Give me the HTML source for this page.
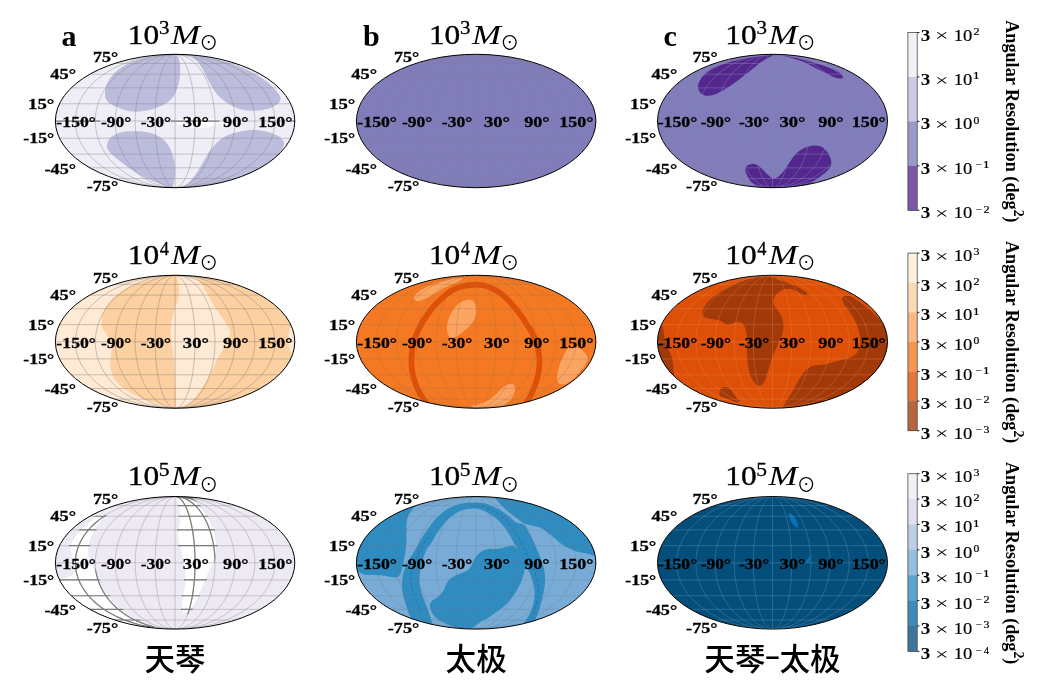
<!DOCTYPE html>
<html lang="zh"><head><meta charset="utf-8"><title>Angular resolution sky maps</title>
<style>html,body{margin:0;padding:0;background:#fff}svg{display:block}text{font-family:"Liberation Serif","DejaVu Serif",serif;fill:#000}.cjk{font-family:"Liberation Sans","Noto Sans CJK SC",sans-serif}.sun{font-family:"Liberation Serif","Noto Sans CJK SC",sans-serif}.tk{font-weight:bold;font-size:14.3px;stroke:#000;stroke-width:.28px}</style></head><body>
<svg width="1046" height="696" viewBox="0 0 1046 696">
<rect width="1046" height="696" fill="#fff"/>
<defs>
<clipPath id="e00"><ellipse cx="175.1" cy="121" rx="119.7" ry="66.7"/></clipPath>
<clipPath id="e01"><ellipse cx="476.15" cy="121" rx="119.75" ry="66.7"/></clipPath>
<clipPath id="e02"><ellipse cx="772.5" cy="121" rx="115" ry="66.7"/></clipPath>
<clipPath id="e10"><ellipse cx="175.1" cy="341.75" rx="119.7" ry="66.5"/></clipPath>
<clipPath id="e11"><ellipse cx="476.15" cy="341.75" rx="119.75" ry="66.5"/></clipPath>
<clipPath id="e12"><ellipse cx="772.5" cy="341.75" rx="115" ry="66.5"/></clipPath>
<clipPath id="e20"><ellipse cx="175.1" cy="562.8" rx="119.7" ry="66.3"/></clipPath>
<clipPath id="e21"><ellipse cx="476.15" cy="562.8" rx="119.75" ry="66.3"/></clipPath>
<clipPath id="e22"><ellipse cx="772.5" cy="562.8" rx="115" ry="66.3"/></clipPath>
</defs>
<g clip-path="url(#e00)">
<ellipse cx="175.1" cy="121" rx="119.7" ry="66.7" fill="#efedf5"/>
<path d="M175.2 54C178.33 54.78 178.17 57.53 179 60C179.83 62.47 180.1 65.67 180.2 68.8C180.3 71.93 180.12 75.47 179.6 78.8C179.08 82.13 178.25 85.67 177.1 88.8C175.95 91.93 174.68 95.08 172.7 97.6C170.72 100.12 168.12 102.13 165.2 103.9C162.28 105.67 158.75 107 155.2 108.2C151.65 109.4 147.65 110.53 143.9 111.1C140.15 111.67 136.45 111.97 132.7 111.6C128.95 111.23 124.92 110.07 121.4 108.9C117.88 107.73 114.13 106.18 111.6 104.6C109.07 103.02 107.3 101.33 106.2 99.4C105.1 97.47 104.97 95.3 105 93C105.03 90.7 105.55 88.07 106.4 85.6C107.25 83.13 108.43 80.58 110.1 78.2C111.77 75.82 113.9 73.5 116.4 71.3C118.9 69.1 121.97 66.78 125.1 65C128.23 63.22 131.43 61.88 135.2 60.6C138.97 59.32 143.53 58.18 147.7 57.3C151.87 56.42 155.62 55.85 160.2 55.3C164.78 54.75 172.07 53.22 175.2 54Z" fill="#bcbddc"/>
<path d="M192.5 56.4C191.25 57.13 195.72 59.32 197.6 61.8C199.48 64.28 201.72 67.63 203.8 71.3C205.88 74.97 207.8 79.83 210.1 83.8C212.4 87.77 214.88 91.97 217.6 95.1C220.32 98.23 223.07 100.42 226.4 102.6C229.73 104.78 233.63 106.85 237.6 108.2C241.57 109.55 246.02 110.42 250.2 110.7C254.38 110.98 258.95 110.52 262.7 109.9C266.45 109.28 269.98 108.22 272.7 107C275.42 105.78 277.68 104.13 279 102.6C280.32 101.07 280.7 99.33 280.6 97.8C280.5 96.27 279.63 95.13 278.4 93.4C277.17 91.67 275.5 89.63 273.2 87.4C270.9 85.17 267.7 82.28 264.6 80C261.5 77.72 258.33 75.78 254.6 73.7C250.87 71.62 246.32 69.28 242.2 67.5C238.08 65.72 234.02 64.28 229.9 63C225.78 61.72 221.63 60.73 217.5 59.8C213.37 58.87 209.27 57.97 205.1 57.4C200.93 56.83 193.75 55.67 192.5 56.4Z" fill="#bcbddc"/>
<path d="M130.2 131.3C133.55 131.23 138.53 130.98 142.7 131.5C146.87 132.02 151.65 132.97 155.2 134.4C158.75 135.83 161.5 137.7 164 140.1C166.5 142.5 168.53 145.47 170.2 148.8C171.87 152.13 173.17 156.33 174 160.1C174.83 163.87 175.15 168.07 175.2 171.4C175.25 174.73 174.73 177.63 174.3 180.1C173.87 182.57 173.28 184.95 172.6 186.2C171.92 187.45 172.27 187.98 170.2 187.6C168.13 187.22 163.53 185.15 160.2 183.9C156.87 182.65 153.53 181.57 150.2 180.1C146.87 178.63 143.53 176.97 140.2 175.1C136.87 173.23 133.55 171.2 130.2 168.9C126.85 166.6 123.03 163.6 120.1 161.3C117.17 159 114.58 156.97 112.6 155.1C110.62 153.23 109.13 151.77 108.2 150.1C107.27 148.43 106.78 146.98 107 145.1C107.22 143.22 107.93 140.68 109.5 138.8C111.07 136.92 114.22 134.95 116.4 133.8C118.58 132.65 120.3 132.32 122.6 131.9C124.9 131.48 126.85 131.37 130.2 131.3Z" fill="#bcbddc"/>
<path d="M181.5 188.5C182.08 188.02 183.58 186.78 185 185.6C186.42 184.42 187.9 183.77 190 181.4C192.1 179.03 195.08 175.17 197.6 171.4C200.12 167.63 202.6 162.77 205.1 158.8C207.6 154.83 209.9 150.93 212.6 147.6C215.3 144.27 218.17 141.1 221.3 138.8C224.43 136.5 227.85 135.1 231.4 133.8C234.95 132.5 238.63 131.63 242.6 131C246.57 130.37 251.02 129.85 255.2 130C259.38 130.15 263.95 130.95 267.7 131.9C271.45 132.85 275.2 134.33 277.7 135.7C280.2 137.07 281.65 138.65 282.7 140.1C283.75 141.55 284.02 143.02 284 144.4C283.98 145.78 283.18 147.2 282.6 148.4C282.02 149.6 280.85 151.07 280.5 151.6L290 160L250 195L181.5 195L181.5 188.5Z" fill="#bcbddc"/>
<path d="M54 121.3C54 120.23 57.33 119.05 60 118.4C62.67 117.75 66.33 117.43 70 117.4C73.67 117.37 78.33 117.8 82 118.2C85.67 118.6 88.83 119.28 92 119.8C95.17 120.32 101 120.7 101 121.3C101 121.9 95.17 122.78 92 123.4C88.83 124.02 85.67 124.63 82 125C78.33 125.37 73.67 125.63 70 125.6C66.33 125.57 62.67 125.52 60 124.8C57.33 124.08 54 122.37 54 121.3Z" fill="#fdfcfe"/>
<path d="M174.5 121.3C174.67 120.23 178.42 119.28 181 118.6C183.58 117.92 186.83 117.47 190 117.2C193.17 116.93 196.67 116.8 200 117C203.33 117.2 207 117.87 210 118.4C213 118.93 215.75 119.63 218 120.2C220.25 120.77 223.67 121.07 223.5 121.8C223.33 122.53 219.58 123.7 217 124.6C214.42 125.5 211.17 126.57 208 127.2C204.83 127.83 201.33 128.33 198 128.4C194.67 128.47 191 128.17 188 127.6C185 127.03 182.25 126.05 180 125C177.75 123.95 174.33 122.37 174.5 121.3Z" fill="#fdfcfe"/>
<path d="M175.1 187.7L160.39 186.97L151.83 185.86L144.74 184.54L138.51 183.05L132.89 181.43L127.74 179.7L122.97 177.87L118.54 175.94L114.41 173.93L110.55 171.85L106.94 169.7L103.56 167.48L100.4 165.2L97.45 162.87L94.71 160.49L92.16 158.06L89.81 155.59L87.64 153.07L85.66 150.53L83.85 147.94L82.23 145.33L80.77 142.7L79.5 140.04L78.39 137.35L77.46 134.65L76.7 131.94L76.11 129.22L75.69 126.48L75.43 123.74L75.35 121L75.43 118.26L75.69 115.52L76.11 112.78L76.7 110.06L77.46 107.35L78.39 104.65L79.5 101.96L80.77 99.3L82.23 96.67L83.85 94.06L85.66 91.47L87.64 88.93L89.81 86.41L92.16 83.94L94.71 81.51L97.45 79.13L100.4 76.8L103.56 74.52L106.94 72.3L110.55 70.15L114.41 68.07L118.54 66.06L122.97 64.13L127.74 62.3L132.89 60.57L138.51 58.95L144.74 57.46L151.83 56.14L160.39 55.03L175.1 54.3M175.1 187.7L163.33 186.97L156.48 185.86L150.81 184.54L145.83 183.05L141.33 181.43L137.21 179.7L133.4 177.87L129.85 175.94L126.55 173.93L123.46 171.85L120.57 169.7L117.87 167.48L115.34 165.2L112.98 162.87L110.79 160.49L108.75 158.06L106.87 155.59L105.13 153.07L103.54 150.53L102.1 147.94L100.8 145.33L99.64 142.7L98.62 140.04L97.74 137.35L96.99 134.65L96.38 131.94L95.91 129.22L95.57 126.48L95.37 123.74L95.3 121L95.37 118.26L95.57 115.52L95.91 112.78L96.38 110.06L96.99 107.35L97.74 104.65L98.62 101.96L99.64 99.3L100.8 96.67L102.1 94.06L103.54 91.47L105.13 88.93L106.87 86.41L108.75 83.94L110.79 81.51L112.98 79.13L115.34 76.8L117.87 74.52L120.57 72.3L123.46 70.15L126.55 68.07L129.85 66.06L133.4 64.13L137.21 62.3L141.33 60.57L145.83 58.95L150.81 57.46L156.48 56.14L163.33 55.03L175.1 54.3M175.1 187.7L166.27 186.97L161.14 185.86L156.89 184.54L153.15 183.05L149.77 181.43L146.68 179.7L143.82 177.87L141.17 175.94L138.69 173.93L136.37 171.85L134.2 169.7L132.18 167.48L130.28 165.2L128.51 162.87L126.87 160.49L125.34 158.06L123.93 155.59L122.62 153.07L121.43 150.53L120.35 147.94L119.38 145.33L118.5 142.7L117.74 140.04L117.08 137.35L116.52 134.65L116.06 131.94L115.71 129.22L115.45 126.48L115.3 123.74L115.25 121L115.3 118.26L115.45 115.52L115.71 112.78L116.06 110.06L116.52 107.35L117.08 104.65L117.74 101.96L118.5 99.3L119.38 96.67L120.35 94.06L121.43 91.47L122.62 88.93L123.93 86.41L125.34 83.94L126.87 81.51L128.51 79.13L130.28 76.8L132.18 74.52L134.2 72.3L136.37 70.15L138.69 68.07L141.17 66.06L143.82 64.13L146.68 62.3L149.77 60.57L153.15 58.95L156.89 57.46L161.14 56.14L166.27 55.03L175.1 54.3M175.1 187.7L169.22 186.97L165.79 185.86L162.96 184.54L160.47 183.05L158.22 181.43L156.15 179.7L154.25 177.87L152.48 175.94L150.82 173.93L149.28 171.85L147.83 169.7L146.48 167.48L145.22 165.2L144.04 162.87L142.94 160.49L141.93 158.06L140.98 155.59L140.12 153.07L139.32 150.53L138.6 147.94L137.95 145.33L137.37 142.7L136.86 140.04L136.42 137.35L136.05 134.65L135.74 131.94L135.5 129.22L135.33 126.48L135.23 123.74L135.2 121L135.23 118.26L135.33 115.52L135.5 112.78L135.74 110.06L136.05 107.35L136.42 104.65L136.86 101.96L137.37 99.3L137.95 96.67L138.6 94.06L139.32 91.47L140.12 88.93L140.98 86.41L141.93 83.94L142.94 81.51L144.04 79.13L145.22 76.8L146.48 74.52L147.83 72.3L149.28 70.15L150.82 68.07L152.48 66.06L154.25 64.13L156.15 62.3L158.22 60.57L160.47 58.95L162.96 57.46L165.79 56.14L169.22 55.03L175.1 54.3M175.1 187.7L172.16 186.97L170.45 185.86L169.03 184.54L167.78 183.05L166.66 181.43L165.63 179.7L164.67 177.87L163.79 175.94L162.96 173.93L162.19 171.85L161.47 169.7L160.79 167.48L160.16 165.2L159.57 162.87L159.02 160.49L158.51 158.06L158.04 155.59L157.61 153.07L157.21 150.53L156.85 147.94L156.53 145.33L156.23 142.7L155.98 140.04L155.76 137.35L155.57 134.65L155.42 131.94L155.3 129.22L155.22 126.48L155.17 123.74L155.15 121L155.17 118.26L155.22 115.52L155.3 112.78L155.42 110.06L155.57 107.35L155.76 104.65L155.98 101.96L156.23 99.3L156.53 96.67L156.85 94.06L157.21 91.47L157.61 88.93L158.04 86.41L158.51 83.94L159.02 81.51L159.57 79.13L160.16 76.8L160.79 74.52L161.47 72.3L162.19 70.15L162.96 68.07L163.79 66.06L164.67 64.13L165.63 62.3L166.66 60.57L167.78 58.95L169.03 57.46L170.45 56.14L172.16 55.03L175.1 54.3M175.1 187.7L175.1 54.3M175.1 187.7L178.04 186.97L179.75 185.86L181.17 184.54L182.42 183.05L183.54 181.43L184.57 179.7L185.53 177.87L186.41 175.94L187.24 173.93L188.01 171.85L188.73 169.7L189.41 167.48L190.04 165.2L190.63 162.87L191.18 160.49L191.69 158.06L192.16 155.59L192.59 153.07L192.99 150.53L193.35 147.94L193.67 145.33L193.97 142.7L194.22 140.04L194.44 137.35L194.63 134.65L194.78 131.94L194.9 129.22L194.98 126.48L195.03 123.74L195.05 121L195.03 118.26L194.98 115.52L194.9 112.78L194.78 110.06L194.63 107.35L194.44 104.65L194.22 101.96L193.97 99.3L193.67 96.67L193.35 94.06L192.99 91.47L192.59 88.93L192.16 86.41L191.69 83.94L191.18 81.51L190.63 79.13L190.04 76.8L189.41 74.52L188.73 72.3L188.01 70.15L187.24 68.07L186.41 66.06L185.53 64.13L184.57 62.3L183.54 60.57L182.42 58.95L181.17 57.46L179.75 56.14L178.04 55.03L175.1 54.3M175.1 187.7L180.98 186.97L184.41 185.86L187.24 184.54L189.73 183.05L191.98 181.43L194.05 179.7L195.95 177.87L197.72 175.94L199.38 173.93L200.92 171.85L202.37 169.7L203.72 167.48L204.98 165.2L206.16 162.87L207.26 160.49L208.27 158.06L209.22 155.59L210.08 153.07L210.88 150.53L211.6 147.94L212.25 145.33L212.83 142.7L213.34 140.04L213.78 137.35L214.15 134.65L214.46 131.94L214.7 129.22L214.87 126.48L214.97 123.74L215 121L214.97 118.26L214.87 115.52L214.7 112.78L214.46 110.06L214.15 107.35L213.78 104.65L213.34 101.96L212.83 99.3L212.25 96.67L211.6 94.06L210.88 91.47L210.08 88.93L209.22 86.41L208.27 83.94L207.26 81.51L206.16 79.13L204.98 76.8L203.72 74.52L202.37 72.3L200.92 70.15L199.38 68.07L197.72 66.06L195.95 64.13L194.05 62.3L191.98 60.57L189.73 58.95L187.24 57.46L184.41 56.14L180.98 55.03L175.1 54.3M175.1 187.7L183.93 186.97L189.06 185.86L193.31 184.54L197.05 183.05L200.43 181.43L203.52 179.7L206.38 177.87L209.03 175.94L211.51 173.93L213.83 171.85L216 169.7L218.02 167.48L219.92 165.2L221.69 162.87L223.33 160.49L224.86 158.06L226.27 155.59L227.58 153.07L228.77 150.53L229.85 147.94L230.82 145.33L231.7 142.7L232.46 140.04L233.12 137.35L233.68 134.65L234.14 131.94L234.49 129.22L234.75 126.48L234.9 123.74L234.95 121L234.9 118.26L234.75 115.52L234.49 112.78L234.14 110.06L233.68 107.35L233.12 104.65L232.46 101.96L231.7 99.3L230.82 96.67L229.85 94.06L228.77 91.47L227.58 88.93L226.27 86.41L224.86 83.94L223.33 81.51L221.69 79.13L219.92 76.8L218.02 74.52L216 72.3L213.83 70.15L211.51 68.07L209.03 66.06L206.38 64.13L203.52 62.3L200.43 60.57L197.05 58.95L193.31 57.46L189.06 56.14L183.93 55.03L175.1 54.3M175.1 187.7L186.87 186.97L193.72 185.86L199.39 184.54L204.37 183.05L208.87 181.43L212.99 179.7L216.8 177.87L220.35 175.94L223.65 173.93L226.74 171.85L229.63 169.7L232.33 167.48L234.86 165.2L237.22 162.87L239.41 160.49L241.45 158.06L243.33 155.59L245.07 153.07L246.66 150.53L248.1 147.94L249.4 145.33L250.56 142.7L251.58 140.04L252.46 137.35L253.21 134.65L253.82 131.94L254.29 129.22L254.63 126.48L254.83 123.74L254.9 121L254.83 118.26L254.63 115.52L254.29 112.78L253.82 110.06L253.21 107.35L252.46 104.65L251.58 101.96L250.56 99.3L249.4 96.67L248.1 94.06L246.66 91.47L245.07 88.93L243.33 86.41L241.45 83.94L239.41 81.51L237.22 79.13L234.86 76.8L232.33 74.52L229.63 72.3L226.74 70.15L223.65 68.07L220.35 66.06L216.8 64.13L212.99 62.3L208.87 60.57L204.37 58.95L199.39 57.46L193.72 56.14L186.87 55.03L175.1 54.3M175.1 187.7L189.81 186.97L198.37 185.86L205.46 184.54L211.69 183.05L217.31 181.43L222.46 179.7L227.23 177.87L231.66 175.94L235.79 173.93L239.65 171.85L243.26 169.7L246.64 167.48L249.8 165.2L252.75 162.87L255.49 160.49L258.04 158.06L260.39 155.59L262.56 153.07L264.54 150.53L266.35 147.94L267.97 145.33L269.43 142.7L270.7 140.04L271.81 137.35L272.74 134.65L273.5 131.94L274.09 129.22L274.51 126.48L274.77 123.74L274.85 121L274.77 118.26L274.51 115.52L274.09 112.78L273.5 110.06L272.74 107.35L271.81 104.65L270.7 101.96L269.43 99.3L267.97 96.67L266.35 94.06L264.54 91.47L262.56 88.93L260.39 86.41L258.04 83.94L255.49 81.51L252.75 79.13L249.8 76.8L246.64 74.52L243.26 72.3L239.65 70.15L235.79 68.07L231.66 66.06L227.23 64.13L222.46 62.3L217.31 60.57L211.69 58.95L205.46 57.46L198.37 56.14L189.81 55.03L175.1 54.3M55.4 121L294.8 121M59.45 138.21L290.75 138.21M59.45 103.79L290.75 103.79M71.23 154.15L278.97 154.15M71.23 87.85L278.97 87.85M89.85 167.82L260.35 167.82M89.85 74.18L260.35 74.18M114.63 178.56L235.57 178.56M114.63 63.44L235.57 63.44" fill="none" stroke="#808088" stroke-opacity="0.45" stroke-width="0.9"/>
<path d="M55.5 121.1L100 121.1" fill="none" stroke="#7d7d86" stroke-width="1.3"/>
<path d="M171 121.1L219.5 121.1" fill="none" stroke="#7d7d86" stroke-width="1.3"/>
<path d="M291.5 121.1L296 121.1" fill="none" stroke="#7d7d86" stroke-width="1.3"/>
</g>
<ellipse cx="175.1" cy="121" rx="119.7" ry="66.7" fill="none" stroke="#000" stroke-width="1"/>
<g class="tk">
<text x="93.06" y="62.3" textLength="25.19" lengthAdjust="spacingAndGlyphs">75°</text>
<text x="50.36" y="78.8" textLength="25.69" lengthAdjust="spacingAndGlyphs">45°</text>
<text x="28.04" y="109" textLength="26.23" lengthAdjust="spacingAndGlyphs">15°</text>
<text x="23.31" y="143.3" textLength="30.88" lengthAdjust="spacingAndGlyphs">-15°</text>
<text x="44.5" y="173.6" textLength="31.51" lengthAdjust="spacingAndGlyphs">-45°</text>
<text x="86.71" y="190.8" textLength="31.51" lengthAdjust="spacingAndGlyphs">-75°</text>
<text x="56.38" y="127.3" textLength="39.57" lengthAdjust="spacingAndGlyphs">-150°</text>
<text x="100.94" y="127.3" textLength="30.25" lengthAdjust="spacingAndGlyphs">-90°</text>
<text x="140.79" y="127.3" textLength="30.35" lengthAdjust="spacingAndGlyphs">-30°</text>
<text x="182.86" y="127.3" textLength="25.97" lengthAdjust="spacingAndGlyphs">30°</text>
<text x="223.1" y="127.3" textLength="25.45" lengthAdjust="spacingAndGlyphs">90°</text>
<text x="258.21" y="127.3" textLength="34.13" lengthAdjust="spacingAndGlyphs">150°</text>
</g>
<text x="127.88" y="43.5" font-size="26.8" textLength="31.38" lengthAdjust="spacingAndGlyphs" stroke="#000" stroke-width="0.35">10</text>
<text x="159.05" y="34.2" font-size="19" textLength="10.49" lengthAdjust="spacingAndGlyphs" stroke="#000" stroke-width="0.3">3</text>
<text x="171.05" y="43.5" font-size="27.6" font-style="italic" textLength="29.02" lengthAdjust="spacingAndGlyphs">M</text>
<text class="sun" x="199.3" y="49.7" font-size="19">⊙</text>
<g clip-path="url(#e01)">
<ellipse cx="476.15" cy="121" rx="119.75" ry="66.7" fill="#807dba"/>
<path d="M476.15 187.7L461.43 186.97L452.87 185.86L445.78 184.54L439.55 183.05L433.92 181.43L428.77 179.7L424 177.87L419.57 175.94L415.44 173.93L411.57 171.85L407.96 169.7L404.58 167.48L401.42 165.2L398.47 162.87L395.73 160.49L393.18 158.06L390.82 155.59L388.65 153.07L386.67 150.53L384.86 147.94L383.24 145.33L381.79 142.7L380.51 140.04L379.4 137.35L378.47 134.65L377.71 131.94L377.12 129.22L376.7 126.48L376.44 123.74L376.36 121L376.44 118.26L376.7 115.52L377.12 112.78L377.71 110.06L378.47 107.35L379.4 104.65L380.51 101.96L381.79 99.3L383.24 96.67L384.86 94.06L386.67 91.47L388.65 88.93L390.82 86.41L393.18 83.94L395.73 81.51L398.47 79.13L401.42 76.8L404.58 74.52L407.96 72.3L411.57 70.15L415.44 68.07L419.57 66.06L424 64.13L428.77 62.3L433.92 60.57L439.55 58.95L445.78 57.46L452.87 56.14L461.43 55.03L476.15 54.3M476.15 187.7L464.38 186.97L457.53 185.86L451.85 184.54L446.87 183.05L442.37 181.43L438.24 179.7L434.43 177.87L430.89 175.94L427.58 173.93L424.49 171.85L421.6 169.7L418.89 167.48L416.37 165.2L414.01 162.87L411.81 160.49L409.77 158.06L407.89 155.59L406.15 153.07L404.56 150.53L403.12 147.94L401.82 145.33L400.66 142.7L399.64 140.04L398.75 137.35L398.01 134.65L397.4 131.94L396.92 129.22L396.59 126.48L396.38 123.74L396.32 121L396.38 118.26L396.59 115.52L396.92 112.78L397.4 110.06L398.01 107.35L398.75 104.65L399.64 101.96L400.66 99.3L401.82 96.67L403.12 94.06L404.56 91.47L406.15 88.93L407.89 86.41L409.77 83.94L411.81 81.51L414.01 79.13L416.37 76.8L418.89 74.52L421.6 72.3L424.49 70.15L427.58 68.07L430.89 66.06L434.43 64.13L438.24 62.3L442.37 60.57L446.87 58.95L451.85 57.46L457.53 56.14L464.38 55.03L476.15 54.3M476.15 187.7L467.32 186.97L462.18 185.86L457.93 184.54L454.19 183.05L450.81 181.43L447.72 179.7L444.86 177.87L442.2 175.94L439.72 173.93L437.4 171.85L435.24 169.7L433.21 167.48L431.31 165.2L429.54 162.87L427.9 160.49L426.37 158.06L424.95 155.59L423.65 153.07L422.46 150.53L421.38 147.94L420.4 145.33L419.53 142.7L418.77 140.04L418.1 137.35L417.54 134.65L417.09 131.94L416.73 129.22L416.48 126.48L416.33 123.74L416.27 121L416.33 118.26L416.48 115.52L416.73 112.78L417.09 110.06L417.54 107.35L418.1 104.65L418.77 101.96L419.53 99.3L420.4 96.67L421.38 94.06L422.46 91.47L423.65 88.93L424.95 86.41L426.37 83.94L427.9 81.51L429.54 79.13L431.31 76.8L433.21 74.52L435.24 72.3L437.4 70.15L439.72 68.07L442.2 66.06L444.86 64.13L447.72 62.3L450.81 60.57L454.19 58.95L457.93 57.46L462.18 56.14L467.32 55.03L476.15 54.3M476.15 187.7L470.26 186.97L466.84 185.86L464 184.54L461.51 183.05L459.26 181.43L457.2 179.7L455.29 177.87L453.52 175.94L451.86 173.93L450.32 171.85L448.87 169.7L447.52 167.48L446.26 165.2L445.08 162.87L443.98 160.49L442.96 158.06L442.02 155.59L441.15 153.07L440.36 150.53L439.64 147.94L438.98 145.33L438.4 142.7L437.89 140.04L437.45 137.35L437.08 134.65L436.77 131.94L436.54 129.22L436.37 126.48L436.27 123.74L436.23 121L436.27 118.26L436.37 115.52L436.54 112.78L436.77 110.06L437.08 107.35L437.45 104.65L437.89 101.96L438.4 99.3L438.98 96.67L439.64 94.06L440.36 91.47L441.15 88.93L442.02 86.41L442.96 83.94L443.98 81.51L445.08 79.13L446.26 76.8L447.52 74.52L448.87 72.3L450.32 70.15L451.86 68.07L453.52 66.06L455.29 64.13L457.2 62.3L459.26 60.57L461.51 58.95L464 57.46L466.84 56.14L470.26 55.03L476.15 54.3M476.15 187.7L473.21 186.97L471.49 185.86L470.08 184.54L468.83 183.05L467.7 181.43L466.67 179.7L465.72 177.87L464.83 175.94L464.01 173.93L463.23 171.85L462.51 169.7L461.84 167.48L461.2 165.2L460.61 162.87L460.07 160.49L459.56 158.06L459.08 155.59L458.65 153.07L458.25 150.53L457.89 147.94L457.57 145.33L457.28 142.7L457.02 140.04L456.8 137.35L456.61 134.65L456.46 131.94L456.34 129.22L456.26 126.48L456.21 123.74L456.19 121L456.21 118.26L456.26 115.52L456.34 112.78L456.46 110.06L456.61 107.35L456.8 104.65L457.02 101.96L457.28 99.3L457.57 96.67L457.89 94.06L458.25 91.47L458.65 88.93L459.08 86.41L459.56 83.94L460.07 81.51L460.61 79.13L461.2 76.8L461.84 74.52L462.51 72.3L463.23 70.15L464.01 68.07L464.83 66.06L465.72 64.13L466.67 62.3L467.7 60.57L468.83 58.95L470.08 57.46L471.49 56.14L473.21 55.03L476.15 54.3M476.15 187.7L476.15 54.3M476.15 187.7L479.09 186.97L480.81 185.86L482.22 184.54L483.47 183.05L484.6 181.43L485.63 179.7L486.58 177.87L487.47 175.94L488.29 173.93L489.07 171.85L489.79 169.7L490.46 167.48L491.1 165.2L491.69 162.87L492.23 160.49L492.74 158.06L493.22 155.59L493.65 153.07L494.05 150.53L494.41 147.94L494.73 145.33L495.02 142.7L495.28 140.04L495.5 137.35L495.69 134.65L495.84 131.94L495.96 129.22L496.04 126.48L496.09 123.74L496.11 121L496.09 118.26L496.04 115.52L495.96 112.78L495.84 110.06L495.69 107.35L495.5 104.65L495.28 101.96L495.02 99.3L494.73 96.67L494.41 94.06L494.05 91.47L493.65 88.93L493.22 86.41L492.74 83.94L492.23 81.51L491.69 79.13L491.1 76.8L490.46 74.52L489.79 72.3L489.07 70.15L488.29 68.07L487.47 66.06L486.58 64.13L485.63 62.3L484.6 60.57L483.47 58.95L482.22 57.46L480.81 56.14L479.09 55.03L476.15 54.3M476.15 187.7L482.04 186.97L485.46 185.86L488.3 184.54L490.79 183.05L493.04 181.43L495.1 179.7L497.01 177.87L498.78 175.94L500.44 173.93L501.98 171.85L503.43 169.7L504.78 167.48L506.04 165.2L507.22 162.87L508.32 160.49L509.34 158.06L510.28 155.59L511.15 153.07L511.94 150.53L512.66 147.94L513.32 145.33L513.9 142.7L514.41 140.04L514.85 137.35L515.22 134.65L515.53 131.94L515.76 129.22L515.93 126.48L516.03 123.74L516.07 121L516.03 118.26L515.93 115.52L515.76 112.78L515.53 110.06L515.22 107.35L514.85 104.65L514.41 101.96L513.9 99.3L513.32 96.67L512.66 94.06L511.94 91.47L511.15 88.93L510.28 86.41L509.34 83.94L508.32 81.51L507.22 79.13L506.04 76.8L504.78 74.52L503.43 72.3L501.98 70.15L500.44 68.07L498.78 66.06L497.01 64.13L495.1 62.3L493.04 60.57L490.79 58.95L488.3 57.46L485.46 56.14L482.04 55.03L476.15 54.3M476.15 187.7L484.98 186.97L490.12 185.86L494.37 184.54L498.11 183.05L501.49 181.43L504.58 179.7L507.44 177.87L510.1 175.94L512.58 173.93L514.9 171.85L517.06 169.7L519.09 167.48L520.99 165.2L522.76 162.87L524.4 160.49L525.93 158.06L527.35 155.59L528.65 153.07L529.84 150.53L530.92 147.94L531.9 145.33L532.77 142.7L533.53 140.04L534.2 137.35L534.76 134.65L535.21 131.94L535.57 129.22L535.82 126.48L535.97 123.74L536.02 121L535.97 118.26L535.82 115.52L535.57 112.78L535.21 110.06L534.76 107.35L534.2 104.65L533.53 101.96L532.77 99.3L531.9 96.67L530.92 94.06L529.84 91.47L528.65 88.93L527.35 86.41L525.93 83.94L524.4 81.51L522.76 79.13L520.99 76.8L519.09 74.52L517.06 72.3L514.9 70.15L512.58 68.07L510.1 66.06L507.44 64.13L504.58 62.3L501.49 60.57L498.11 58.95L494.37 57.46L490.12 56.14L484.98 55.03L476.15 54.3M476.15 187.7L487.92 186.97L494.77 185.86L500.45 184.54L505.43 183.05L509.93 181.43L514.06 179.7L517.87 177.87L521.41 175.94L524.72 173.93L527.81 171.85L530.7 169.7L533.41 167.48L535.93 165.2L538.29 162.87L540.49 160.49L542.53 158.06L544.41 155.59L546.15 153.07L547.74 150.53L549.18 147.94L550.48 145.33L551.64 142.7L552.66 140.04L553.55 137.35L554.29 134.65L554.9 131.94L555.38 129.22L555.71 126.48L555.92 123.74L555.98 121L555.92 118.26L555.71 115.52L555.38 112.78L554.9 110.06L554.29 107.35L553.55 104.65L552.66 101.96L551.64 99.3L550.48 96.67L549.18 94.06L547.74 91.47L546.15 88.93L544.41 86.41L542.53 83.94L540.49 81.51L538.29 79.13L535.93 76.8L533.41 74.52L530.7 72.3L527.81 70.15L524.72 68.07L521.41 66.06L517.87 64.13L514.06 62.3L509.93 60.57L505.43 58.95L500.45 57.46L494.77 56.14L487.92 55.03L476.15 54.3M476.15 187.7L490.87 186.97L499.43 185.86L506.52 184.54L512.75 183.05L518.38 181.43L523.53 179.7L528.3 177.87L532.73 175.94L536.86 173.93L540.73 171.85L544.34 169.7L547.72 167.48L550.88 165.2L553.83 162.87L556.57 160.49L559.12 158.06L561.48 155.59L563.65 153.07L565.63 150.53L567.44 147.94L569.06 145.33L570.51 142.7L571.79 140.04L572.9 137.35L573.83 134.65L574.59 131.94L575.18 129.22L575.6 126.48L575.86 123.74L575.94 121L575.86 118.26L575.6 115.52L575.18 112.78L574.59 110.06L573.83 107.35L572.9 104.65L571.79 101.96L570.51 99.3L569.06 96.67L567.44 94.06L565.63 91.47L563.65 88.93L561.48 86.41L559.12 83.94L556.57 81.51L553.83 79.13L550.88 76.8L547.72 74.52L544.34 72.3L540.73 70.15L536.86 68.07L532.73 66.06L528.3 64.13L523.53 62.3L518.38 60.57L512.75 58.95L506.52 57.46L499.43 56.14L490.87 55.03L476.15 54.3M356.4 121L595.9 121M360.45 138.21L591.85 138.21M360.45 103.79L591.85 103.79M372.24 154.15L580.06 154.15M372.24 87.85L580.06 87.85M390.87 167.82L561.43 167.82M390.87 74.18L561.43 74.18M415.65 178.56L536.65 178.56M415.65 63.44L536.65 63.44" fill="none" stroke="#808080" stroke-opacity="0.22" stroke-width="0.9"/>
</g>
<ellipse cx="476.15" cy="121" rx="119.75" ry="66.7" fill="none" stroke="#000" stroke-width="1"/>
<g class="tk">
<text x="394.09" y="62.3" textLength="25.19" lengthAdjust="spacingAndGlyphs">75°</text>
<text x="351.37" y="78.8" textLength="25.69" lengthAdjust="spacingAndGlyphs">45°</text>
<text x="329.04" y="109" textLength="26.23" lengthAdjust="spacingAndGlyphs">15°</text>
<text x="324.31" y="143.3" textLength="30.88" lengthAdjust="spacingAndGlyphs">-15°</text>
<text x="345.51" y="173.6" textLength="31.51" lengthAdjust="spacingAndGlyphs">-45°</text>
<text x="387.74" y="190.8" textLength="31.51" lengthAdjust="spacingAndGlyphs">-75°</text>
<text x="357.39" y="127.3" textLength="39.57" lengthAdjust="spacingAndGlyphs">-150°</text>
<text x="401.96" y="127.3" textLength="30.25" lengthAdjust="spacingAndGlyphs">-90°</text>
<text x="441.83" y="127.3" textLength="30.35" lengthAdjust="spacingAndGlyphs">-30°</text>
<text x="483.92" y="127.3" textLength="25.97" lengthAdjust="spacingAndGlyphs">30°</text>
<text x="524.18" y="127.3" textLength="25.45" lengthAdjust="spacingAndGlyphs">90°</text>
<text x="559.3" y="127.3" textLength="34.13" lengthAdjust="spacingAndGlyphs">150°</text>
</g>
<text x="428.93" y="43.5" font-size="26.8" textLength="31.38" lengthAdjust="spacingAndGlyphs" stroke="#000" stroke-width="0.35">10</text>
<text x="460.1" y="34.2" font-size="19" textLength="10.49" lengthAdjust="spacingAndGlyphs" stroke="#000" stroke-width="0.3">3</text>
<text x="472.1" y="43.5" font-size="27.6" font-style="italic" textLength="29.02" lengthAdjust="spacingAndGlyphs">M</text>
<text class="sun" x="500.35" y="49.7" font-size="19">⊙</text>
<g clip-path="url(#e02)">
<ellipse cx="772.5" cy="121" rx="115" ry="66.7" fill="#807dba"/>
<path d="M774.5 54.4C773.42 54.08 766.1 55.5 761.5 56.1C756.9 56.7 751.77 57.13 746.9 58C742.03 58.87 736.9 60.08 732.3 61.3C727.7 62.52 723.1 63.82 719.3 65.3C715.5 66.78 712.22 68.43 709.5 70.2C706.78 71.97 704.77 73.87 703 75.9C701.23 77.93 699.72 80.37 698.9 82.4C698.08 84.43 697.82 86.35 698.1 88.1C698.38 89.85 699.23 91.63 700.6 92.9C701.97 94.17 704 95.42 706.3 95.7C708.6 95.98 711.43 95.6 714.4 94.6C717.37 93.6 720.85 91.6 724.1 89.7C727.35 87.8 730.65 85.5 733.9 83.2C737.15 80.9 740.62 78.2 743.6 75.9C746.58 73.6 749.08 71.57 751.8 69.4C754.52 67.23 757.2 64.8 759.9 62.9C762.6 61 765.57 59.42 768 58C770.43 56.58 775.58 54.72 774.5 54.4Z" fill="#54278f"/>
<path d="M779 54.4C780.35 54.53 789.33 56.2 794 57.2C798.67 58.2 802.67 59.18 807 60.4C811.33 61.62 815.93 63.13 820 64.5C824.07 65.87 828.15 67.25 831.4 68.6C834.65 69.95 837.6 71.38 839.5 72.6C841.4 73.82 842.38 74.95 842.8 75.9C843.22 76.85 842.82 77.9 842 78.3C841.18 78.7 839.67 78.7 837.9 78.3C836.13 77.9 833.83 76.98 831.4 75.9C828.97 74.82 826.28 73.3 823.3 71.8C820.32 70.3 816.75 68.52 813.5 66.9C810.25 65.28 807.05 63.45 803.8 62.1C800.55 60.75 796.98 59.75 794 58.8C791.02 57.85 788.4 57.13 785.9 56.4C783.4 55.67 777.65 54.27 779 54.4Z" fill="#54278f"/>
<path d="M745.2 169.9C745.07 168.15 745.72 166.9 746.8 165.9C747.88 164.9 749.93 164.03 751.7 163.9C753.47 163.77 755.5 164.1 757.4 165.1C759.3 166.1 761.2 168.15 763.1 169.9C765 171.65 767.18 174.15 768.8 175.6C770.42 177.05 771.45 178.27 772.8 178.6C774.15 178.93 775.27 178.63 776.9 177.6C778.53 176.57 780.7 174.62 782.6 172.4C784.5 170.18 786.27 167.15 788.3 164.3C790.33 161.45 792.63 157.75 794.8 155.3C796.97 152.85 799 151.08 801.3 149.6C803.6 148.12 806.17 147.07 808.6 146.4C811.03 145.73 813.6 145.47 815.9 145.6C818.2 145.73 820.5 146.12 822.4 147.2C824.3 148.28 825.95 150.2 827.3 152.1C828.65 154 829.83 156.57 830.5 158.6C831.17 160.63 831.7 162.42 831.3 164.3C830.9 166.18 829.58 168.15 828.1 169.9C826.62 171.65 824.43 173.17 822.4 174.8C820.37 176.43 818.33 178.03 815.9 179.7C813.47 181.37 810.78 183.38 807.8 184.8C804.82 186.22 801.8 187.2 798 188.2C794.2 189.2 789.33 190.37 785 190.8C780.67 191.23 776.07 191.23 772 190.8C767.93 190.37 763.85 189.48 760.6 188.2C757.35 186.92 754.67 185.07 752.5 183.1C750.33 181.13 748.82 178.6 747.6 176.4C746.38 174.2 745.33 171.65 745.2 169.9Z" fill="#54278f"/>
<path d="M772.5 187.7L758.37 186.97L750.14 185.86L743.34 184.54L737.35 183.05L731.95 181.43L727 179.7L722.42 177.87L718.16 175.94L714.19 173.93L710.48 171.85L707.01 169.7L703.77 167.48L700.73 165.2L697.9 162.87L695.27 160.49L692.82 158.06L690.56 155.59L688.47 153.07L686.57 150.53L684.83 147.94L683.27 145.33L681.88 142.7L680.65 140.04L679.59 137.35L678.7 134.65L677.96 131.94L677.4 129.22L676.99 126.48L676.75 123.74L676.67 121L676.75 118.26L676.99 115.52L677.4 112.78L677.96 110.06L678.7 107.35L679.59 104.65L680.65 101.96L681.88 99.3L683.27 96.67L684.83 94.06L686.57 91.47L688.47 88.93L690.56 86.41L692.82 83.94L695.27 81.51L697.9 79.13L700.73 76.8L703.77 74.52L707.01 72.3L710.48 70.15L714.19 68.07L718.16 66.06L722.42 64.13L727 62.3L731.95 60.57L737.35 58.95L743.34 57.46L750.14 56.14L758.37 55.03L772.5 54.3M772.5 187.7L761.19 186.97L754.62 185.86L749.17 184.54L744.38 183.05L740.06 181.43L736.1 179.7L732.44 177.87L729.03 175.94L725.86 173.93L722.89 171.85L720.11 169.7L717.51 167.48L715.09 165.2L712.82 162.87L710.71 160.49L708.76 158.06L706.95 155.59L705.28 153.07L703.75 150.53L702.37 147.94L701.12 145.33L700 142.7L699.02 140.04L698.17 137.35L697.46 134.65L696.87 131.94L696.42 129.22L696.09 126.48L695.9 123.74L695.83 121L695.9 118.26L696.09 115.52L696.42 112.78L696.87 110.06L697.46 107.35L698.17 104.65L699.02 101.96L700 99.3L701.12 96.67L702.37 94.06L703.75 91.47L705.28 88.93L706.95 86.41L708.76 83.94L710.71 81.51L712.82 79.13L715.09 76.8L717.51 74.52L720.11 72.3L722.89 70.15L725.86 68.07L729.03 66.06L732.44 64.13L736.1 62.3L740.06 60.57L744.38 58.95L749.17 57.46L754.62 56.14L761.19 55.03L772.5 54.3M772.5 187.7L764.02 186.97L759.09 185.86L755 184.54L751.41 183.05L748.17 181.43L745.2 179.7L742.45 177.87L739.9 175.94L737.52 173.93L735.29 171.85L733.21 169.7L731.26 167.48L729.44 165.2L727.74 162.87L726.16 160.49L724.69 158.06L723.33 155.59L722.08 153.07L720.94 150.53L719.9 147.94L718.96 145.33L718.13 142.7L717.39 140.04L716.76 137.35L716.22 134.65L715.78 131.94L715.44 129.22L715.19 126.48L715.05 123.74L715 121L715.05 118.26L715.19 115.52L715.44 112.78L715.78 110.06L716.22 107.35L716.76 104.65L717.39 101.96L718.13 99.3L718.96 96.67L719.9 94.06L720.94 91.47L722.08 88.93L723.33 86.41L724.69 83.94L726.16 81.51L727.74 79.13L729.44 76.8L731.26 74.52L733.21 72.3L735.29 70.15L737.52 68.07L739.9 66.06L742.45 64.13L745.2 62.3L748.17 60.57L751.41 58.95L755 57.46L759.09 56.14L764.02 55.03L772.5 54.3M772.5 187.7L766.85 186.97L763.56 185.86L760.83 184.54L758.44 183.05L756.28 181.43L754.3 179.7L752.47 177.87L750.77 175.94L749.18 173.93L747.69 171.85L746.31 169.7L745.01 167.48L743.79 165.2L742.66 162.87L741.61 160.49L740.63 158.06L739.72 155.59L738.89 153.07L738.13 150.53L737.43 147.94L736.81 145.33L736.25 142.7L735.76 140.04L735.34 137.35L734.98 134.65L734.69 131.94L734.46 129.22L734.3 126.48L734.2 123.74L734.17 121L734.2 118.26L734.3 115.52L734.46 112.78L734.69 110.06L734.98 107.35L735.34 104.65L735.76 101.96L736.25 99.3L736.81 96.67L737.43 94.06L738.13 91.47L738.89 88.93L739.72 86.41L740.63 83.94L741.61 81.51L742.66 79.13L743.79 76.8L745.01 74.52L746.31 72.3L747.69 70.15L749.18 68.07L750.77 66.06L752.47 64.13L754.3 62.3L756.28 60.57L758.44 58.95L760.83 57.46L763.56 56.14L766.85 55.03L772.5 54.3M772.5 187.7L769.67 186.97L768.03 185.86L766.67 184.54L765.47 183.05L764.39 181.43L763.4 179.7L762.48 177.87L761.63 175.94L760.84 173.93L760.1 171.85L759.4 169.7L758.75 167.48L758.15 165.2L757.58 162.87L757.05 160.49L756.56 158.06L756.11 155.59L755.69 153.07L755.31 150.53L754.97 147.94L754.65 145.33L754.38 142.7L754.13 140.04L753.92 137.35L753.74 134.65L753.59 131.94L753.48 129.22L753.4 126.48L753.35 123.74L753.33 121L753.35 118.26L753.4 115.52L753.48 112.78L753.59 110.06L753.74 107.35L753.92 104.65L754.13 101.96L754.38 99.3L754.65 96.67L754.97 94.06L755.31 91.47L755.69 88.93L756.11 86.41L756.56 83.94L757.05 81.51L757.58 79.13L758.15 76.8L758.75 74.52L759.4 72.3L760.1 70.15L760.84 68.07L761.63 66.06L762.48 64.13L763.4 62.3L764.39 60.57L765.47 58.95L766.67 57.46L768.03 56.14L769.67 55.03L772.5 54.3M772.5 187.7L772.5 54.3M772.5 187.7L775.33 186.97L776.97 185.86L778.33 184.54L779.53 183.05L780.61 181.43L781.6 179.7L782.52 177.87L783.37 175.94L784.16 173.93L784.9 171.85L785.6 169.7L786.25 167.48L786.85 165.2L787.42 162.87L787.95 160.49L788.44 158.06L788.89 155.59L789.31 153.07L789.69 150.53L790.03 147.94L790.35 145.33L790.62 142.7L790.87 140.04L791.08 137.35L791.26 134.65L791.41 131.94L791.52 129.22L791.6 126.48L791.65 123.74L791.67 121L791.65 118.26L791.6 115.52L791.52 112.78L791.41 110.06L791.26 107.35L791.08 104.65L790.87 101.96L790.62 99.3L790.35 96.67L790.03 94.06L789.69 91.47L789.31 88.93L788.89 86.41L788.44 83.94L787.95 81.51L787.42 79.13L786.85 76.8L786.25 74.52L785.6 72.3L784.9 70.15L784.16 68.07L783.37 66.06L782.52 64.13L781.6 62.3L780.61 60.57L779.53 58.95L778.33 57.46L776.97 56.14L775.33 55.03L772.5 54.3M772.5 187.7L778.15 186.97L781.44 185.86L784.17 184.54L786.56 183.05L788.72 181.43L790.7 179.7L792.53 177.87L794.23 175.94L795.82 173.93L797.31 171.85L798.69 169.7L799.99 167.48L801.21 165.2L802.34 162.87L803.39 160.49L804.37 158.06L805.28 155.59L806.11 153.07L806.87 150.53L807.57 147.94L808.19 145.33L808.75 142.7L809.24 140.04L809.66 137.35L810.02 134.65L810.31 131.94L810.54 129.22L810.7 126.48L810.8 123.74L810.83 121L810.8 118.26L810.7 115.52L810.54 112.78L810.31 110.06L810.02 107.35L809.66 104.65L809.24 101.96L808.75 99.3L808.19 96.67L807.57 94.06L806.87 91.47L806.11 88.93L805.28 86.41L804.37 83.94L803.39 81.51L802.34 79.13L801.21 76.8L799.99 74.52L798.69 72.3L797.31 70.15L795.82 68.07L794.23 66.06L792.53 64.13L790.7 62.3L788.72 60.57L786.56 58.95L784.17 57.46L781.44 56.14L778.15 55.03L772.5 54.3M772.5 187.7L780.98 186.97L785.91 185.86L790 184.54L793.59 183.05L796.83 181.43L799.8 179.7L802.55 177.87L805.1 175.94L807.48 173.93L809.71 171.85L811.79 169.7L813.74 167.48L815.56 165.2L817.26 162.87L818.84 160.49L820.31 158.06L821.67 155.59L822.92 153.07L824.06 150.53L825.1 147.94L826.04 145.33L826.87 142.7L827.61 140.04L828.24 137.35L828.78 134.65L829.22 131.94L829.56 129.22L829.81 126.48L829.95 123.74L830 121L829.95 118.26L829.81 115.52L829.56 112.78L829.22 110.06L828.78 107.35L828.24 104.65L827.61 101.96L826.87 99.3L826.04 96.67L825.1 94.06L824.06 91.47L822.92 88.93L821.67 86.41L820.31 83.94L818.84 81.51L817.26 79.13L815.56 76.8L813.74 74.52L811.79 72.3L809.71 70.15L807.48 68.07L805.1 66.06L802.55 64.13L799.8 62.3L796.83 60.57L793.59 58.95L790 57.46L785.91 56.14L780.98 55.03L772.5 54.3M772.5 187.7L783.81 186.97L790.38 185.86L795.83 184.54L800.62 183.05L804.94 181.43L808.9 179.7L812.56 177.87L815.97 175.94L819.14 173.93L822.11 171.85L824.89 169.7L827.49 167.48L829.91 165.2L832.18 162.87L834.29 160.49L836.24 158.06L838.05 155.59L839.72 153.07L841.25 150.53L842.63 147.94L843.88 145.33L845 142.7L845.98 140.04L846.83 137.35L847.54 134.65L848.13 131.94L848.58 129.22L848.91 126.48L849.1 123.74L849.17 121L849.1 118.26L848.91 115.52L848.58 112.78L848.13 110.06L847.54 107.35L846.83 104.65L845.98 101.96L845 99.3L843.88 96.67L842.63 94.06L841.25 91.47L839.72 88.93L838.05 86.41L836.24 83.94L834.29 81.51L832.18 79.13L829.91 76.8L827.49 74.52L824.89 72.3L822.11 70.15L819.14 68.07L815.97 66.06L812.56 64.13L808.9 62.3L804.94 60.57L800.62 58.95L795.83 57.46L790.38 56.14L783.81 55.03L772.5 54.3M772.5 187.7L786.63 186.97L794.86 185.86L801.66 184.54L807.65 183.05L813.05 181.43L818 179.7L822.58 177.87L826.84 175.94L830.81 173.93L834.52 171.85L837.99 169.7L841.23 167.48L844.27 165.2L847.1 162.87L849.73 160.49L852.18 158.06L854.44 155.59L856.53 153.07L858.43 150.53L860.17 147.94L861.73 145.33L863.12 142.7L864.35 140.04L865.41 137.35L866.3 134.65L867.04 131.94L867.6 129.22L868.01 126.48L868.25 123.74L868.33 121L868.25 118.26L868.01 115.52L867.6 112.78L867.04 110.06L866.3 107.35L865.41 104.65L864.35 101.96L863.12 99.3L861.73 96.67L860.17 94.06L858.43 91.47L856.53 88.93L854.44 86.41L852.18 83.94L849.73 81.51L847.1 79.13L844.27 76.8L841.23 74.52L837.99 72.3L834.52 70.15L830.81 68.07L826.84 66.06L822.58 64.13L818 62.3L813.05 60.57L807.65 58.95L801.66 57.46L794.86 56.14L786.63 55.03L772.5 54.3M657.5 121L887.5 121M661.39 138.21L883.61 138.21M661.39 103.79L883.61 103.79M672.71 154.15L872.29 154.15M672.71 87.85L872.29 87.85M690.6 167.82L854.4 167.82M690.6 74.18L854.4 74.18M714.4 178.56L830.6 178.56M714.4 63.44L830.6 63.44" fill="none" stroke="#8c84b4" stroke-opacity="0.5" stroke-width="0.9"/>
</g>
<ellipse cx="772.5" cy="121" rx="115" ry="66.7" fill="none" stroke="#000" stroke-width="1"/>
<g class="tk">
<text x="692.45" y="62.3" textLength="25.19" lengthAdjust="spacingAndGlyphs">75°</text>
<text x="651.55" y="78.8" textLength="25.69" lengthAdjust="spacingAndGlyphs">45°</text>
<text x="630.04" y="109" textLength="26.23" lengthAdjust="spacingAndGlyphs">15°</text>
<text x="625.31" y="143.3" textLength="30.88" lengthAdjust="spacingAndGlyphs">-15°</text>
<text x="645.68" y="173.6" textLength="31.51" lengthAdjust="spacingAndGlyphs">-45°</text>
<text x="686.1" y="190.8" textLength="31.51" lengthAdjust="spacingAndGlyphs">-75°</text>
<text x="657.7" y="127.3" textLength="39.57" lengthAdjust="spacingAndGlyphs">-150°</text>
<text x="700.69" y="127.3" textLength="30.25" lengthAdjust="spacingAndGlyphs">-90°</text>
<text x="738.97" y="127.3" textLength="30.35" lengthAdjust="spacingAndGlyphs">-30°</text>
<text x="779.47" y="127.3" textLength="25.97" lengthAdjust="spacingAndGlyphs">30°</text>
<text x="818.15" y="127.3" textLength="25.45" lengthAdjust="spacingAndGlyphs">90°</text>
<text x="851.7" y="127.3" textLength="34.13" lengthAdjust="spacingAndGlyphs">150°</text>
</g>
<text x="725.28" y="43.5" font-size="26.8" textLength="31.38" lengthAdjust="spacingAndGlyphs" stroke="#000" stroke-width="0.35">10</text>
<text x="756.45" y="34.2" font-size="19" textLength="10.49" lengthAdjust="spacingAndGlyphs" stroke="#000" stroke-width="0.3">3</text>
<text x="768.45" y="43.5" font-size="27.6" font-style="italic" textLength="29.02" lengthAdjust="spacingAndGlyphs">M</text>
<text class="sun" x="796.7" y="49.7" font-size="19">⊙</text>
<g clip-path="url(#e10)">
<ellipse cx="175.1" cy="341.75" rx="119.7" ry="66.5" fill="#feead5"/>
<path d="M175.2 274.6C177.7 275.12 177.07 277.63 177.7 280C178.33 282.37 179 285.45 179 288.8C179 292.15 178.53 296.35 177.7 300.1C176.87 303.85 175.03 307.55 174 311.3C172.97 315.05 172.02 318.63 171.5 322.6C170.98 326.57 170.8 331.35 170.9 335.1C171 338.85 171.68 341.55 172.1 345.1C172.52 348.65 172.98 352.65 173.4 356.4C173.82 360.15 174.3 363.65 174.6 367.6C174.9 371.55 174.98 375.93 175.2 380.1C175.42 384.27 175.78 388.85 175.9 392.6C176.02 396.35 176.02 399.87 175.9 402.6C175.78 405.33 176.35 408.2 175.2 409C174.05 409.8 172.12 408.35 169 407.4C165.88 406.45 160.68 404.72 156.5 403.3C152.32 401.88 147.87 400.47 143.9 398.9C139.93 397.33 136.25 395.78 132.7 393.9C129.15 392.02 125.53 389.9 122.6 387.6C119.67 385.3 116.97 382.82 115.1 380.1C113.23 377.38 112.23 374.02 111.4 371.3C110.57 368.58 110.18 366.48 110.1 363.8C110.02 361.12 110.68 358 110.9 355.2C111.12 352.4 111.68 349.7 111.4 347C111.12 344.3 110.25 341.5 109.2 339C108.15 336.5 106.3 334.1 105.1 332C103.9 329.9 102.58 328.6 102 326.4C101.42 324.2 101.18 321.52 101.6 318.8C102.02 316.08 103.08 313.02 104.5 310.1C105.92 307.18 107.92 303.92 110.1 301.3C112.28 298.68 114.88 296.58 117.6 294.4C120.32 292.22 123.05 290.08 126.4 288.2C129.75 286.32 133.73 284.57 137.7 283.1C141.67 281.63 146.03 280.43 150.2 279.4C154.37 278.37 158.53 277.7 162.7 276.9C166.87 276.1 172.7 274.08 175.2 274.6Z" fill="#fdd0a2"/>
<path d="M190 272.5C190.83 273.23 193.32 275.23 195 276.9C196.68 278.57 198.42 280.32 200.1 282.5C201.78 284.68 203.43 287.28 205.1 290C206.77 292.72 208.43 295.87 210.1 298.8C211.77 301.73 213.23 304.68 215.1 307.6C216.97 310.52 219.42 313.58 221.3 316.3C223.18 319.02 225.02 321.6 226.4 323.9C227.78 326.2 229 328.33 229.6 330.1C230.2 331.87 230.33 332.77 230 334.5C229.67 336.23 228.62 338.33 227.6 340.5C226.58 342.67 225.15 345.12 223.9 347.5C222.65 349.88 221.37 352.5 220.1 354.8C218.83 357.1 217.55 358.97 216.3 361.3C215.05 363.63 214.05 365.88 212.6 368.8C211.15 371.72 209.48 375.45 207.6 378.8C205.72 382.15 203.6 385.55 201.3 388.9C199 392.25 196.3 396.2 193.8 398.9C191.3 401.6 188.38 403.48 186.3 405.1C184.22 406.72 182.77 407.53 181.3 408.6C179.83 409.67 178.13 411.02 177.5 411.5L300 415L300 358.5C299 358.25 295.57 358.08 294 357C292.43 355.92 291.45 354 290.6 352C289.75 350 289.25 347.33 288.9 345C288.55 342.67 288.47 340.33 288.5 338C288.53 335.67 288.68 332.92 289.1 331C289.52 329.08 290.1 327.73 291 326.5C291.9 325.27 293 324.27 294.5 323.6C296 322.93 299.08 322.68 300 322.5L300 268L190 268L190 272.5Z" fill="#fdd0a2"/>
<path d="M175.1 408.25L160.39 407.52L151.83 406.42L144.74 405.1L138.51 403.62L132.89 402L127.74 400.28L122.97 398.45L118.54 396.53L114.41 394.53L110.55 392.45L106.94 390.3L103.56 388.09L100.4 385.82L97.45 383.5L94.71 381.12L92.16 378.7L89.81 376.23L87.64 373.73L85.66 371.19L83.85 368.61L82.23 366.01L80.77 363.38L79.5 360.73L78.39 358.05L77.46 355.36L76.7 352.66L76.11 349.94L75.69 347.22L75.43 344.48L75.35 341.75L75.43 339.02L75.69 336.28L76.11 333.56L76.7 330.84L77.46 328.14L78.39 325.45L79.5 322.77L80.77 320.12L82.23 317.49L83.85 314.89L85.66 312.31L87.64 309.77L89.81 307.27L92.16 304.8L94.71 302.38L97.45 300L100.4 297.68L103.56 295.41L106.94 293.2L110.55 291.05L114.41 288.97L118.54 286.97L122.97 285.05L127.74 283.22L132.89 281.5L138.51 279.88L144.74 278.4L151.83 277.08L160.39 275.98L175.1 275.25M175.1 408.25L163.33 407.52L156.48 406.42L150.81 405.1L145.83 403.62L141.33 402L137.21 400.28L133.4 398.45L129.85 396.53L126.55 394.53L123.46 392.45L120.57 390.3L117.87 388.09L115.34 385.82L112.98 383.5L110.79 381.12L108.75 378.7L106.87 376.23L105.13 373.73L103.54 371.19L102.1 368.61L100.8 366.01L99.64 363.38L98.62 360.73L97.74 358.05L96.99 355.36L96.38 352.66L95.91 349.94L95.57 347.22L95.37 344.48L95.3 341.75L95.37 339.02L95.57 336.28L95.91 333.56L96.38 330.84L96.99 328.14L97.74 325.45L98.62 322.77L99.64 320.12L100.8 317.49L102.1 314.89L103.54 312.31L105.13 309.77L106.87 307.27L108.75 304.8L110.79 302.38L112.98 300L115.34 297.68L117.87 295.41L120.57 293.2L123.46 291.05L126.55 288.97L129.85 286.97L133.4 285.05L137.21 283.22L141.33 281.5L145.83 279.88L150.81 278.4L156.48 277.08L163.33 275.98L175.1 275.25M175.1 408.25L166.27 407.52L161.14 406.42L156.89 405.1L153.15 403.62L149.77 402L146.68 400.28L143.82 398.45L141.17 396.53L138.69 394.53L136.37 392.45L134.2 390.3L132.18 388.09L130.28 385.82L128.51 383.5L126.87 381.12L125.34 378.7L123.93 376.23L122.62 373.73L121.43 371.19L120.35 368.61L119.38 366.01L118.5 363.38L117.74 360.73L117.08 358.05L116.52 355.36L116.06 352.66L115.71 349.94L115.45 347.22L115.3 344.48L115.25 341.75L115.3 339.02L115.45 336.28L115.71 333.56L116.06 330.84L116.52 328.14L117.08 325.45L117.74 322.77L118.5 320.12L119.38 317.49L120.35 314.89L121.43 312.31L122.62 309.77L123.93 307.27L125.34 304.8L126.87 302.38L128.51 300L130.28 297.68L132.18 295.41L134.2 293.2L136.37 291.05L138.69 288.97L141.17 286.97L143.82 285.05L146.68 283.22L149.77 281.5L153.15 279.88L156.89 278.4L161.14 277.08L166.27 275.98L175.1 275.25M175.1 408.25L169.22 407.52L165.79 406.42L162.96 405.1L160.47 403.62L158.22 402L156.15 400.28L154.25 398.45L152.48 396.53L150.82 394.53L149.28 392.45L147.83 390.3L146.48 388.09L145.22 385.82L144.04 383.5L142.94 381.12L141.93 378.7L140.98 376.23L140.12 373.73L139.32 371.19L138.6 368.61L137.95 366.01L137.37 363.38L136.86 360.73L136.42 358.05L136.05 355.36L135.74 352.66L135.5 349.94L135.33 347.22L135.23 344.48L135.2 341.75L135.23 339.02L135.33 336.28L135.5 333.56L135.74 330.84L136.05 328.14L136.42 325.45L136.86 322.77L137.37 320.12L137.95 317.49L138.6 314.89L139.32 312.31L140.12 309.77L140.98 307.27L141.93 304.8L142.94 302.38L144.04 300L145.22 297.68L146.48 295.41L147.83 293.2L149.28 291.05L150.82 288.97L152.48 286.97L154.25 285.05L156.15 283.22L158.22 281.5L160.47 279.88L162.96 278.4L165.79 277.08L169.22 275.98L175.1 275.25M175.1 408.25L172.16 407.52L170.45 406.42L169.03 405.1L167.78 403.62L166.66 402L165.63 400.28L164.67 398.45L163.79 396.53L162.96 394.53L162.19 392.45L161.47 390.3L160.79 388.09L160.16 385.82L159.57 383.5L159.02 381.12L158.51 378.7L158.04 376.23L157.61 373.73L157.21 371.19L156.85 368.61L156.53 366.01L156.23 363.38L155.98 360.73L155.76 358.05L155.57 355.36L155.42 352.66L155.3 349.94L155.22 347.22L155.17 344.48L155.15 341.75L155.17 339.02L155.22 336.28L155.3 333.56L155.42 330.84L155.57 328.14L155.76 325.45L155.98 322.77L156.23 320.12L156.53 317.49L156.85 314.89L157.21 312.31L157.61 309.77L158.04 307.27L158.51 304.8L159.02 302.38L159.57 300L160.16 297.68L160.79 295.41L161.47 293.2L162.19 291.05L162.96 288.97L163.79 286.97L164.67 285.05L165.63 283.22L166.66 281.5L167.78 279.88L169.03 278.4L170.45 277.08L172.16 275.98L175.1 275.25M175.1 408.25L175.1 275.25M175.1 408.25L178.04 407.52L179.75 406.42L181.17 405.1L182.42 403.62L183.54 402L184.57 400.28L185.53 398.45L186.41 396.53L187.24 394.53L188.01 392.45L188.73 390.3L189.41 388.09L190.04 385.82L190.63 383.5L191.18 381.12L191.69 378.7L192.16 376.23L192.59 373.73L192.99 371.19L193.35 368.61L193.67 366.01L193.97 363.38L194.22 360.73L194.44 358.05L194.63 355.36L194.78 352.66L194.9 349.94L194.98 347.22L195.03 344.48L195.05 341.75L195.03 339.02L194.98 336.28L194.9 333.56L194.78 330.84L194.63 328.14L194.44 325.45L194.22 322.77L193.97 320.12L193.67 317.49L193.35 314.89L192.99 312.31L192.59 309.77L192.16 307.27L191.69 304.8L191.18 302.38L190.63 300L190.04 297.68L189.41 295.41L188.73 293.2L188.01 291.05L187.24 288.97L186.41 286.97L185.53 285.05L184.57 283.22L183.54 281.5L182.42 279.88L181.17 278.4L179.75 277.08L178.04 275.98L175.1 275.25M175.1 408.25L180.98 407.52L184.41 406.42L187.24 405.1L189.73 403.62L191.98 402L194.05 400.28L195.95 398.45L197.72 396.53L199.38 394.53L200.92 392.45L202.37 390.3L203.72 388.09L204.98 385.82L206.16 383.5L207.26 381.12L208.27 378.7L209.22 376.23L210.08 373.73L210.88 371.19L211.6 368.61L212.25 366.01L212.83 363.38L213.34 360.73L213.78 358.05L214.15 355.36L214.46 352.66L214.7 349.94L214.87 347.22L214.97 344.48L215 341.75L214.97 339.02L214.87 336.28L214.7 333.56L214.46 330.84L214.15 328.14L213.78 325.45L213.34 322.77L212.83 320.12L212.25 317.49L211.6 314.89L210.88 312.31L210.08 309.77L209.22 307.27L208.27 304.8L207.26 302.38L206.16 300L204.98 297.68L203.72 295.41L202.37 293.2L200.92 291.05L199.38 288.97L197.72 286.97L195.95 285.05L194.05 283.22L191.98 281.5L189.73 279.88L187.24 278.4L184.41 277.08L180.98 275.98L175.1 275.25M175.1 408.25L183.93 407.52L189.06 406.42L193.31 405.1L197.05 403.62L200.43 402L203.52 400.28L206.38 398.45L209.03 396.53L211.51 394.53L213.83 392.45L216 390.3L218.02 388.09L219.92 385.82L221.69 383.5L223.33 381.12L224.86 378.7L226.27 376.23L227.58 373.73L228.77 371.19L229.85 368.61L230.82 366.01L231.7 363.38L232.46 360.73L233.12 358.05L233.68 355.36L234.14 352.66L234.49 349.94L234.75 347.22L234.9 344.48L234.95 341.75L234.9 339.02L234.75 336.28L234.49 333.56L234.14 330.84L233.68 328.14L233.12 325.45L232.46 322.77L231.7 320.12L230.82 317.49L229.85 314.89L228.77 312.31L227.58 309.77L226.27 307.27L224.86 304.8L223.33 302.38L221.69 300L219.92 297.68L218.02 295.41L216 293.2L213.83 291.05L211.51 288.97L209.03 286.97L206.38 285.05L203.52 283.22L200.43 281.5L197.05 279.88L193.31 278.4L189.06 277.08L183.93 275.98L175.1 275.25M175.1 408.25L186.87 407.52L193.72 406.42L199.39 405.1L204.37 403.62L208.87 402L212.99 400.28L216.8 398.45L220.35 396.53L223.65 394.53L226.74 392.45L229.63 390.3L232.33 388.09L234.86 385.82L237.22 383.5L239.41 381.12L241.45 378.7L243.33 376.23L245.07 373.73L246.66 371.19L248.1 368.61L249.4 366.01L250.56 363.38L251.58 360.73L252.46 358.05L253.21 355.36L253.82 352.66L254.29 349.94L254.63 347.22L254.83 344.48L254.9 341.75L254.83 339.02L254.63 336.28L254.29 333.56L253.82 330.84L253.21 328.14L252.46 325.45L251.58 322.77L250.56 320.12L249.4 317.49L248.1 314.89L246.66 312.31L245.07 309.77L243.33 307.27L241.45 304.8L239.41 302.38L237.22 300L234.86 297.68L232.33 295.41L229.63 293.2L226.74 291.05L223.65 288.97L220.35 286.97L216.8 285.05L212.99 283.22L208.87 281.5L204.37 279.88L199.39 278.4L193.72 277.08L186.87 275.98L175.1 275.25M175.1 408.25L189.81 407.52L198.37 406.42L205.46 405.1L211.69 403.62L217.31 402L222.46 400.28L227.23 398.45L231.66 396.53L235.79 394.53L239.65 392.45L243.26 390.3L246.64 388.09L249.8 385.82L252.75 383.5L255.49 381.12L258.04 378.7L260.39 376.23L262.56 373.73L264.54 371.19L266.35 368.61L267.97 366.01L269.43 363.38L270.7 360.73L271.81 358.05L272.74 355.36L273.5 352.66L274.09 349.94L274.51 347.22L274.77 344.48L274.85 341.75L274.77 339.02L274.51 336.28L274.09 333.56L273.5 330.84L272.74 328.14L271.81 325.45L270.7 322.77L269.43 320.12L267.97 317.49L266.35 314.89L264.54 312.31L262.56 309.77L260.39 307.27L258.04 304.8L255.49 302.38L252.75 300L249.8 297.68L246.64 295.41L243.26 293.2L239.65 291.05L235.79 288.97L231.66 286.97L227.23 285.05L222.46 283.22L217.31 281.5L211.69 279.88L205.46 278.4L198.37 277.08L189.81 275.98L175.1 275.25M55.4 341.75L294.8 341.75M59.45 358.91L290.75 358.91M59.45 324.59L290.75 324.59M71.23 374.8L278.97 374.8M71.23 308.7L278.97 308.7M89.85 388.43L260.35 388.43M89.85 295.07L260.35 295.07M114.63 399.14L235.57 399.14M114.63 284.36L235.57 284.36" fill="none" stroke="#80786c" stroke-opacity="0.45" stroke-width="0.9"/>
</g>
<ellipse cx="175.1" cy="341.75" rx="119.7" ry="66.5" fill="none" stroke="#000" stroke-width="1"/>
<g class="tk">
<text x="93.06" y="283.05" textLength="25.19" lengthAdjust="spacingAndGlyphs">75°</text>
<text x="50.36" y="299.55" textLength="25.69" lengthAdjust="spacingAndGlyphs">45°</text>
<text x="28.04" y="329.75" textLength="26.23" lengthAdjust="spacingAndGlyphs">15°</text>
<text x="23.31" y="364.05" textLength="30.88" lengthAdjust="spacingAndGlyphs">-15°</text>
<text x="44.5" y="394.35" textLength="31.51" lengthAdjust="spacingAndGlyphs">-45°</text>
<text x="86.71" y="411.55" textLength="31.51" lengthAdjust="spacingAndGlyphs">-75°</text>
<text x="56.38" y="348.05" textLength="39.57" lengthAdjust="spacingAndGlyphs">-150°</text>
<text x="100.94" y="348.05" textLength="30.25" lengthAdjust="spacingAndGlyphs">-90°</text>
<text x="140.79" y="348.05" textLength="30.35" lengthAdjust="spacingAndGlyphs">-30°</text>
<text x="182.86" y="348.05" textLength="25.97" lengthAdjust="spacingAndGlyphs">30°</text>
<text x="223.1" y="348.05" textLength="25.45" lengthAdjust="spacingAndGlyphs">90°</text>
<text x="258.21" y="348.05" textLength="34.13" lengthAdjust="spacingAndGlyphs">150°</text>
</g>
<text x="127.88" y="264.25" font-size="26.8" textLength="31.38" lengthAdjust="spacingAndGlyphs" stroke="#000" stroke-width="0.35">10</text>
<text x="159.73" y="254.95" font-size="19" textLength="9.25" lengthAdjust="spacingAndGlyphs" stroke="#000" stroke-width="0.3">4</text>
<text x="171.05" y="264.25" font-size="27.6" font-style="italic" textLength="29.02" lengthAdjust="spacingAndGlyphs">M</text>
<text class="sun" x="199.3" y="270.45" font-size="19">⊙</text>
<g clip-path="url(#e11)">
<ellipse cx="476.15" cy="341.75" rx="119.75" ry="66.5" fill="#f57922"/>
<path d="M429.5 408C428.57 406.58 425.57 402.07 423.9 399.5C422.23 396.93 420.87 395.2 419.5 392.6C418.13 390 416.85 387.03 415.7 383.9C414.55 380.77 413.32 377.35 412.6 373.8C411.88 370.25 411.5 366.35 411.4 362.6C411.3 358.85 411.53 354.98 412 351.3C412.47 347.62 413.28 343.72 414.2 340.5C415.12 337.28 415.9 335.4 417.5 332C419.1 328.6 421.28 324.17 423.8 320.1C426.32 316.03 429.47 311.35 432.6 307.6C435.73 303.85 439.27 300.53 442.6 297.6C445.93 294.67 449.27 291.88 452.6 290C455.93 288.12 459.27 287.17 462.6 286.3C465.93 285.43 469.25 284.97 472.6 284.8C475.95 284.63 479.35 284.67 482.7 285.3C486.05 285.93 489.37 286.98 492.7 288.6C496.03 290.22 499.37 292.25 502.7 295C506.03 297.75 509.57 301.55 512.7 305.1C515.83 308.65 519.2 313.17 521.5 316.3C523.8 319.43 524.85 321.37 526.5 323.9C528.15 326.43 529.87 328.73 531.4 331.5C532.93 334.27 534.5 337.2 535.7 340.5C536.9 343.8 537.97 347.62 538.6 351.3C539.23 354.98 539.55 358.85 539.5 362.6C539.45 366.35 539.03 370.05 538.3 373.8C537.57 377.55 536.25 381.75 535.1 385.1C533.95 388.45 532.55 391.4 531.4 393.9C530.25 396.4 529.52 397.75 528.2 400.1C526.88 402.45 524.28 406.68 523.5 408" fill="none" stroke="#de5007" stroke-width="5.7"/>
<path d="M413.8 298.2C413.8 297.15 414.45 295.77 415.7 294.4C416.95 293.03 418.9 291.45 421.3 290C423.7 288.55 426.97 287.05 430.1 285.7C433.23 284.35 436.77 282.95 440.1 281.9C443.43 280.85 446.77 280.03 450.1 279.4C453.43 278.77 458.02 278.1 460.1 278.1C462.18 278.1 463.02 278.77 462.6 279.4C462.18 280.03 459.68 280.97 457.6 281.9C455.52 282.83 452.6 283.85 450.1 285C447.6 286.15 445.1 287.43 442.6 288.8C440.1 290.17 437.6 291.73 435.1 293.2C432.6 294.67 430.12 296.35 427.6 297.6C425.08 298.85 421.98 300.18 420 300.7C418.02 301.22 416.73 301.12 415.7 300.7C414.67 300.28 413.8 299.25 413.8 298.2Z" fill="#fca462"/>
<path d="M466.4 300.1C468.28 299.68 469.95 299.48 471.4 300.1C472.85 300.72 474.27 302.13 475.1 303.8C475.93 305.47 476.4 307.8 476.4 310.1C476.4 312.4 475.93 315.3 475.1 317.6C474.27 319.9 473.07 321.82 471.4 323.9C469.73 325.98 467.18 328.23 465.1 330.1C463.02 331.97 460.98 333.75 458.9 335.1C456.82 336.45 454.27 337.98 452.6 338.2C450.93 338.42 449.83 337.75 448.9 336.4C447.97 335.05 447.22 332.4 447 330.1C446.78 327.8 447.08 325.1 447.6 322.6C448.12 320.1 448.85 317.6 450.1 315.1C451.35 312.6 453.43 309.68 455.1 307.6C456.77 305.52 458.22 303.85 460.1 302.6C461.98 301.35 464.52 300.52 466.4 300.1Z" fill="#fca462"/>
<path d="M470 407C471.67 405.65 476.87 405.05 480 403.9C483.13 402.75 486.08 401.77 488.8 400.1C491.52 398.43 494 395.98 496.3 393.9C498.6 391.82 500.72 389.17 502.6 387.6C504.48 386.03 505.93 385.08 507.6 384.5C509.27 383.92 511.4 383.68 512.6 384.1C513.8 384.52 514.48 385.58 514.8 387C515.12 388.42 515.08 390.62 514.5 392.6C513.92 394.58 512.67 397.02 511.3 398.9C509.93 400.78 508.17 402.28 506.3 403.9C504.43 405.52 502.82 407.25 500.1 408.6C497.38 409.95 495.02 411.43 490 412C484.98 412.57 473.33 412.83 470 412C466.67 411.17 468.33 408.35 470 407Z" fill="#fca462"/>
<path d="M568.9 347.5C570.25 346.77 572.02 346.68 573.9 346.9C575.78 347.12 578.32 347.75 580.2 348.8C582.08 349.85 583.95 351.63 585.2 353.2C586.45 354.77 587.6 356.43 587.7 358.2C587.8 359.97 586.83 361.82 585.8 363.8C584.77 365.78 583.05 368.12 581.5 370.1C579.95 372.08 578.38 373.83 576.5 375.7C574.62 377.57 572.3 379.83 570.2 381.3C568.1 382.77 565.78 384.18 563.9 384.5C562.02 384.82 560.05 384.15 558.9 383.2C557.75 382.25 557.2 380.57 557 378.8C556.8 377.03 557.28 374.88 557.7 372.6C558.12 370.32 558.67 367.6 559.5 365.1C560.33 362.6 561.65 359.9 562.7 357.6C563.75 355.3 564.77 352.98 565.8 351.3C566.83 349.62 567.55 348.23 568.9 347.5Z" fill="#fca462"/>
<path d="M476.15 408.25L461.43 407.52L452.87 406.42L445.78 405.1L439.55 403.62L433.92 402L428.77 400.28L424 398.45L419.57 396.53L415.44 394.53L411.57 392.45L407.96 390.3L404.58 388.09L401.42 385.82L398.47 383.5L395.73 381.12L393.18 378.7L390.82 376.23L388.65 373.73L386.67 371.19L384.86 368.61L383.24 366.01L381.79 363.38L380.51 360.73L379.4 358.05L378.47 355.36L377.71 352.66L377.12 349.94L376.7 347.22L376.44 344.48L376.36 341.75L376.44 339.02L376.7 336.28L377.12 333.56L377.71 330.84L378.47 328.14L379.4 325.45L380.51 322.77L381.79 320.12L383.24 317.49L384.86 314.89L386.67 312.31L388.65 309.77L390.82 307.27L393.18 304.8L395.73 302.38L398.47 300L401.42 297.68L404.58 295.41L407.96 293.2L411.57 291.05L415.44 288.97L419.57 286.97L424 285.05L428.77 283.22L433.92 281.5L439.55 279.88L445.78 278.4L452.87 277.08L461.43 275.98L476.15 275.25M476.15 408.25L464.38 407.52L457.53 406.42L451.85 405.1L446.87 403.62L442.37 402L438.24 400.28L434.43 398.45L430.89 396.53L427.58 394.53L424.49 392.45L421.6 390.3L418.89 388.09L416.37 385.82L414.01 383.5L411.81 381.12L409.77 378.7L407.89 376.23L406.15 373.73L404.56 371.19L403.12 368.61L401.82 366.01L400.66 363.38L399.64 360.73L398.75 358.05L398.01 355.36L397.4 352.66L396.92 349.94L396.59 347.22L396.38 344.48L396.32 341.75L396.38 339.02L396.59 336.28L396.92 333.56L397.4 330.84L398.01 328.14L398.75 325.45L399.64 322.77L400.66 320.12L401.82 317.49L403.12 314.89L404.56 312.31L406.15 309.77L407.89 307.27L409.77 304.8L411.81 302.38L414.01 300L416.37 297.68L418.89 295.41L421.6 293.2L424.49 291.05L427.58 288.97L430.89 286.97L434.43 285.05L438.24 283.22L442.37 281.5L446.87 279.88L451.85 278.4L457.53 277.08L464.38 275.98L476.15 275.25M476.15 408.25L467.32 407.52L462.18 406.42L457.93 405.1L454.19 403.62L450.81 402L447.72 400.28L444.86 398.45L442.2 396.53L439.72 394.53L437.4 392.45L435.24 390.3L433.21 388.09L431.31 385.82L429.54 383.5L427.9 381.12L426.37 378.7L424.95 376.23L423.65 373.73L422.46 371.19L421.38 368.61L420.4 366.01L419.53 363.38L418.77 360.73L418.1 358.05L417.54 355.36L417.09 352.66L416.73 349.94L416.48 347.22L416.33 344.48L416.27 341.75L416.33 339.02L416.48 336.28L416.73 333.56L417.09 330.84L417.54 328.14L418.1 325.45L418.77 322.77L419.53 320.12L420.4 317.49L421.38 314.89L422.46 312.31L423.65 309.77L424.95 307.27L426.37 304.8L427.9 302.38L429.54 300L431.31 297.68L433.21 295.41L435.24 293.2L437.4 291.05L439.72 288.97L442.2 286.97L444.86 285.05L447.72 283.22L450.81 281.5L454.19 279.88L457.93 278.4L462.18 277.08L467.32 275.98L476.15 275.25M476.15 408.25L470.26 407.52L466.84 406.42L464 405.1L461.51 403.62L459.26 402L457.2 400.28L455.29 398.45L453.52 396.53L451.86 394.53L450.32 392.45L448.87 390.3L447.52 388.09L446.26 385.82L445.08 383.5L443.98 381.12L442.96 378.7L442.02 376.23L441.15 373.73L440.36 371.19L439.64 368.61L438.98 366.01L438.4 363.38L437.89 360.73L437.45 358.05L437.08 355.36L436.77 352.66L436.54 349.94L436.37 347.22L436.27 344.48L436.23 341.75L436.27 339.02L436.37 336.28L436.54 333.56L436.77 330.84L437.08 328.14L437.45 325.45L437.89 322.77L438.4 320.12L438.98 317.49L439.64 314.89L440.36 312.31L441.15 309.77L442.02 307.27L442.96 304.8L443.98 302.38L445.08 300L446.26 297.68L447.52 295.41L448.87 293.2L450.32 291.05L451.86 288.97L453.52 286.97L455.29 285.05L457.2 283.22L459.26 281.5L461.51 279.88L464 278.4L466.84 277.08L470.26 275.98L476.15 275.25M476.15 408.25L473.21 407.52L471.49 406.42L470.08 405.1L468.83 403.62L467.7 402L466.67 400.28L465.72 398.45L464.83 396.53L464.01 394.53L463.23 392.45L462.51 390.3L461.84 388.09L461.2 385.82L460.61 383.5L460.07 381.12L459.56 378.7L459.08 376.23L458.65 373.73L458.25 371.19L457.89 368.61L457.57 366.01L457.28 363.38L457.02 360.73L456.8 358.05L456.61 355.36L456.46 352.66L456.34 349.94L456.26 347.22L456.21 344.48L456.19 341.75L456.21 339.02L456.26 336.28L456.34 333.56L456.46 330.84L456.61 328.14L456.8 325.45L457.02 322.77L457.28 320.12L457.57 317.49L457.89 314.89L458.25 312.31L458.65 309.77L459.08 307.27L459.56 304.8L460.07 302.38L460.61 300L461.2 297.68L461.84 295.41L462.51 293.2L463.23 291.05L464.01 288.97L464.83 286.97L465.72 285.05L466.67 283.22L467.7 281.5L468.83 279.88L470.08 278.4L471.49 277.08L473.21 275.98L476.15 275.25M476.15 408.25L476.15 275.25M476.15 408.25L479.09 407.52L480.81 406.42L482.22 405.1L483.47 403.62L484.6 402L485.63 400.28L486.58 398.45L487.47 396.53L488.29 394.53L489.07 392.45L489.79 390.3L490.46 388.09L491.1 385.82L491.69 383.5L492.23 381.12L492.74 378.7L493.22 376.23L493.65 373.73L494.05 371.19L494.41 368.61L494.73 366.01L495.02 363.38L495.28 360.73L495.5 358.05L495.69 355.36L495.84 352.66L495.96 349.94L496.04 347.22L496.09 344.48L496.11 341.75L496.09 339.02L496.04 336.28L495.96 333.56L495.84 330.84L495.69 328.14L495.5 325.45L495.28 322.77L495.02 320.12L494.73 317.49L494.41 314.89L494.05 312.31L493.65 309.77L493.22 307.27L492.74 304.8L492.23 302.38L491.69 300L491.1 297.68L490.46 295.41L489.79 293.2L489.07 291.05L488.29 288.97L487.47 286.97L486.58 285.05L485.63 283.22L484.6 281.5L483.47 279.88L482.22 278.4L480.81 277.08L479.09 275.98L476.15 275.25M476.15 408.25L482.04 407.52L485.46 406.42L488.3 405.1L490.79 403.62L493.04 402L495.1 400.28L497.01 398.45L498.78 396.53L500.44 394.53L501.98 392.45L503.43 390.3L504.78 388.09L506.04 385.82L507.22 383.5L508.32 381.12L509.34 378.7L510.28 376.23L511.15 373.73L511.94 371.19L512.66 368.61L513.32 366.01L513.9 363.38L514.41 360.73L514.85 358.05L515.22 355.36L515.53 352.66L515.76 349.94L515.93 347.22L516.03 344.48L516.07 341.75L516.03 339.02L515.93 336.28L515.76 333.56L515.53 330.84L515.22 328.14L514.85 325.45L514.41 322.77L513.9 320.12L513.32 317.49L512.66 314.89L511.94 312.31L511.15 309.77L510.28 307.27L509.34 304.8L508.32 302.38L507.22 300L506.04 297.68L504.78 295.41L503.43 293.2L501.98 291.05L500.44 288.97L498.78 286.97L497.01 285.05L495.1 283.22L493.04 281.5L490.79 279.88L488.3 278.4L485.46 277.08L482.04 275.98L476.15 275.25M476.15 408.25L484.98 407.52L490.12 406.42L494.37 405.1L498.11 403.62L501.49 402L504.58 400.28L507.44 398.45L510.1 396.53L512.58 394.53L514.9 392.45L517.06 390.3L519.09 388.09L520.99 385.82L522.76 383.5L524.4 381.12L525.93 378.7L527.35 376.23L528.65 373.73L529.84 371.19L530.92 368.61L531.9 366.01L532.77 363.38L533.53 360.73L534.2 358.05L534.76 355.36L535.21 352.66L535.57 349.94L535.82 347.22L535.97 344.48L536.02 341.75L535.97 339.02L535.82 336.28L535.57 333.56L535.21 330.84L534.76 328.14L534.2 325.45L533.53 322.77L532.77 320.12L531.9 317.49L530.92 314.89L529.84 312.31L528.65 309.77L527.35 307.27L525.93 304.8L524.4 302.38L522.76 300L520.99 297.68L519.09 295.41L517.06 293.2L514.9 291.05L512.58 288.97L510.1 286.97L507.44 285.05L504.58 283.22L501.49 281.5L498.11 279.88L494.37 278.4L490.12 277.08L484.98 275.98L476.15 275.25M476.15 408.25L487.92 407.52L494.77 406.42L500.45 405.1L505.43 403.62L509.93 402L514.06 400.28L517.87 398.45L521.41 396.53L524.72 394.53L527.81 392.45L530.7 390.3L533.41 388.09L535.93 385.82L538.29 383.5L540.49 381.12L542.53 378.7L544.41 376.23L546.15 373.73L547.74 371.19L549.18 368.61L550.48 366.01L551.64 363.38L552.66 360.73L553.55 358.05L554.29 355.36L554.9 352.66L555.38 349.94L555.71 347.22L555.92 344.48L555.98 341.75L555.92 339.02L555.71 336.28L555.38 333.56L554.9 330.84L554.29 328.14L553.55 325.45L552.66 322.77L551.64 320.12L550.48 317.49L549.18 314.89L547.74 312.31L546.15 309.77L544.41 307.27L542.53 304.8L540.49 302.38L538.29 300L535.93 297.68L533.41 295.41L530.7 293.2L527.81 291.05L524.72 288.97L521.41 286.97L517.87 285.05L514.06 283.22L509.93 281.5L505.43 279.88L500.45 278.4L494.77 277.08L487.92 275.98L476.15 275.25M476.15 408.25L490.87 407.52L499.43 406.42L506.52 405.1L512.75 403.62L518.38 402L523.53 400.28L528.3 398.45L532.73 396.53L536.86 394.53L540.73 392.45L544.34 390.3L547.72 388.09L550.88 385.82L553.83 383.5L556.57 381.12L559.12 378.7L561.48 376.23L563.65 373.73L565.63 371.19L567.44 368.61L569.06 366.01L570.51 363.38L571.79 360.73L572.9 358.05L573.83 355.36L574.59 352.66L575.18 349.94L575.6 347.22L575.86 344.48L575.94 341.75L575.86 339.02L575.6 336.28L575.18 333.56L574.59 330.84L573.83 328.14L572.9 325.45L571.79 322.77L570.51 320.12L569.06 317.49L567.44 314.89L565.63 312.31L563.65 309.77L561.48 307.27L559.12 304.8L556.57 302.38L553.83 300L550.88 297.68L547.72 295.41L544.34 293.2L540.73 291.05L536.86 288.97L532.73 286.97L528.3 285.05L523.53 283.22L518.38 281.5L512.75 279.88L506.52 278.4L499.43 277.08L490.87 275.98L476.15 275.25M356.4 341.75L595.9 341.75M360.45 358.91L591.85 358.91M360.45 324.59L591.85 324.59M372.24 374.8L580.06 374.8M372.24 308.7L580.06 308.7M390.87 388.43L561.43 388.43M390.87 295.07L561.43 295.07M415.65 399.14L536.65 399.14M415.65 284.36L536.65 284.36" fill="none" stroke="#9a7050" stroke-opacity="0.36" stroke-width="0.9"/>
</g>
<ellipse cx="476.15" cy="341.75" rx="119.75" ry="66.5" fill="none" stroke="#000" stroke-width="1"/>
<g class="tk">
<text x="394.09" y="283.05" textLength="25.19" lengthAdjust="spacingAndGlyphs">75°</text>
<text x="351.37" y="299.55" textLength="25.69" lengthAdjust="spacingAndGlyphs">45°</text>
<text x="329.04" y="329.75" textLength="26.23" lengthAdjust="spacingAndGlyphs">15°</text>
<text x="324.31" y="364.05" textLength="30.88" lengthAdjust="spacingAndGlyphs">-15°</text>
<text x="345.51" y="394.35" textLength="31.51" lengthAdjust="spacingAndGlyphs">-45°</text>
<text x="387.74" y="411.55" textLength="31.51" lengthAdjust="spacingAndGlyphs">-75°</text>
<text x="357.39" y="348.05" textLength="39.57" lengthAdjust="spacingAndGlyphs">-150°</text>
<text x="401.96" y="348.05" textLength="30.25" lengthAdjust="spacingAndGlyphs">-90°</text>
<text x="441.83" y="348.05" textLength="30.35" lengthAdjust="spacingAndGlyphs">-30°</text>
<text x="483.92" y="348.05" textLength="25.97" lengthAdjust="spacingAndGlyphs">30°</text>
<text x="524.18" y="348.05" textLength="25.45" lengthAdjust="spacingAndGlyphs">90°</text>
<text x="559.3" y="348.05" textLength="34.13" lengthAdjust="spacingAndGlyphs">150°</text>
</g>
<text x="428.93" y="264.25" font-size="26.8" textLength="31.38" lengthAdjust="spacingAndGlyphs" stroke="#000" stroke-width="0.35">10</text>
<text x="460.78" y="254.95" font-size="19" textLength="9.25" lengthAdjust="spacingAndGlyphs" stroke="#000" stroke-width="0.3">4</text>
<text x="472.1" y="264.25" font-size="27.6" font-style="italic" textLength="29.02" lengthAdjust="spacingAndGlyphs">M</text>
<text class="sun" x="500.35" y="270.45" font-size="19">⊙</text>
<g clip-path="url(#e12)">
<ellipse cx="772.5" cy="341.75" rx="115" ry="66.5" fill="#de5007"/>
<path d="M760.1 276.4C763.45 276.1 767.27 276.5 770.2 277C773.13 277.5 775.2 278.58 777.7 279.4C780.2 280.22 782.7 281.07 785.2 281.9C787.7 282.73 790.2 283.35 792.7 284.4C795.2 285.45 798.02 286.95 800.2 288.2C802.38 289.45 804.55 290.97 805.8 291.9C807.05 292.83 807.8 293.28 807.7 293.8C807.6 294.32 806.45 295.1 805.2 295C803.95 294.9 802.08 294.03 800.2 293.2C798.32 292.37 795.78 290.73 793.9 290C792.02 289.27 790.57 288.9 788.9 288.8C787.23 288.7 785.57 288.88 783.9 289.4C782.23 289.92 780.35 290.85 778.9 291.9C777.45 292.95 776.13 294.33 775.2 295.7C774.27 297.07 773.52 298.53 773.3 300.1C773.08 301.67 773.17 303.43 773.9 305.1C774.63 306.77 776.45 308.23 777.7 310.1C778.95 311.97 780.47 314.22 781.4 316.3C782.33 318.38 782.98 320.5 783.3 322.6C783.62 324.7 783.47 327 783.3 328.9C783.13 330.8 783.02 331.92 782.3 334C781.58 336.08 780.05 338.9 779 341.4C777.95 343.9 776.95 346.73 776 349C775.05 351.27 774.27 352.53 773.3 355C772.33 357.47 771.15 360.87 770.2 363.8C769.25 366.73 768.45 369.88 767.6 372.6C766.75 375.32 766.03 378.12 765.1 380.1C764.17 382.08 763.13 383.57 762 384.5C760.87 385.43 759.55 386.02 758.3 385.7C757.05 385.38 755.77 384.17 754.5 382.6C753.23 381.03 751.75 379.02 750.7 376.3C749.65 373.58 748.82 369.85 748.2 366.3C747.58 362.75 747.2 358.12 747 355C746.8 351.88 747 350.08 747 347.6C747 345.12 747.1 342.6 747 340.1C746.9 337.6 746.82 334.88 746.4 332.6C745.98 330.32 745.35 328.07 744.5 326.4C743.65 324.73 742.67 323.33 741.3 322.6C739.93 321.87 737.97 321.78 736.3 322C734.63 322.22 732.97 323.48 731.3 323.9C729.63 324.32 727.97 324.93 726.3 324.5C724.63 324.07 723.18 322.13 721.3 321.3C719.42 320.47 717.3 320.02 715 319.5C712.7 318.98 709.48 318.83 707.5 318.2C705.52 317.57 703.93 316.95 703.1 315.7C702.27 314.45 702.07 312.58 702.5 310.7C702.93 308.82 704.03 306.58 705.7 304.4C707.37 302.22 709.9 299.78 712.5 297.6C715.1 295.42 718.37 293.18 721.3 291.3C724.23 289.42 726.97 287.87 730.1 286.3C733.23 284.73 736.77 283.15 740.1 281.9C743.43 280.65 746.77 279.72 750.1 278.8C753.43 277.88 756.75 276.7 760.1 276.4Z" fill="#a23908"/>
<path d="M657 325.5C657.92 325.73 661.27 325.1 662.5 326.9C663.73 328.7 663.77 333.27 664.4 336.3C665.03 339.33 665.47 342.6 666.3 345.1C667.13 347.6 668.47 349.22 669.4 351.3C670.33 353.38 671.27 355.3 671.9 357.6C672.53 359.9 672.92 362.8 673.2 365.1C673.48 367.4 673.22 368.75 673.6 371.4C673.98 374.05 675.18 379.4 675.5 381L650 381L650 325.5L657 325.5Z" fill="#a23908"/>
<path d="M843.9 295.7C843.58 296.22 842 297.45 842 298.8C842 300.15 842.85 301.92 843.9 303.8C844.95 305.68 846.85 308.02 848.3 310.1C849.75 312.18 851.25 314 852.6 316.3C853.95 318.6 855.35 321.38 856.4 323.9C857.45 326.42 858.27 328.9 858.9 331.4C859.53 333.9 860.03 336.38 860.2 338.9C860.37 341.42 860.43 344.23 859.9 346.5C859.37 348.77 858.57 350.65 857 352.5C855.43 354.35 853.1 356.33 850.5 357.6C847.9 358.87 844.38 359.27 841.4 360.1C838.42 360.93 835.53 361.88 832.6 362.6C829.67 363.32 826.72 363.95 823.8 364.4C820.88 364.85 817.6 364.73 815.1 365.3C812.6 365.87 810.68 366.58 808.8 367.8C806.92 369.02 805.47 370.55 803.8 372.6C802.13 374.65 800.47 377.38 798.8 380.1C797.13 382.82 795.47 385.98 793.8 388.9C792.13 391.82 790.47 394.9 788.8 397.6C787.13 400.3 785.18 403.03 783.8 405.1C782.42 407.17 781.05 409.18 780.5 410L895 412L895 327L890 327C888.77 326.32 884.65 324.47 882.6 322.9C880.55 321.33 879.57 319.53 877.7 317.6C875.83 315.67 873.48 313.18 871.4 311.3C869.32 309.42 867.5 308.07 865.2 306.3C862.9 304.53 860.12 302.37 857.6 300.7C855.08 299.03 852.38 297.13 850.1 296.3C847.82 295.47 844.93 295.8 843.9 295.7Z" fill="#a23908"/>
<path d="M719.4 392.6C719.6 391.33 720.25 389.13 721.3 388.2C722.35 387.27 724.23 386.88 725.7 387C727.17 387.12 728.75 387.75 730.1 388.9C731.45 390.05 732.55 392.23 733.8 393.9C735.05 395.57 736.55 397.62 737.6 398.9C738.65 400.18 740.32 401.02 740.1 401.6C739.88 402.18 737.97 402.65 736.3 402.4C734.63 402.15 732.18 400.9 730.1 400.1C728.02 399.3 725.47 398.32 723.8 397.6C722.13 396.88 720.83 396.63 720.1 395.8C719.37 394.97 719.2 393.87 719.4 392.6Z" fill="#a23908"/>
<path d="M772.5 408.25L758.37 407.52L750.14 406.42L743.34 405.1L737.35 403.62L731.95 402L727 400.28L722.42 398.45L718.16 396.53L714.19 394.53L710.48 392.45L707.01 390.3L703.77 388.09L700.73 385.82L697.9 383.5L695.27 381.12L692.82 378.7L690.56 376.23L688.47 373.73L686.57 371.19L684.83 368.61L683.27 366.01L681.88 363.38L680.65 360.73L679.59 358.05L678.7 355.36L677.96 352.66L677.4 349.94L676.99 347.22L676.75 344.48L676.67 341.75L676.75 339.02L676.99 336.28L677.4 333.56L677.96 330.84L678.7 328.14L679.59 325.45L680.65 322.77L681.88 320.12L683.27 317.49L684.83 314.89L686.57 312.31L688.47 309.77L690.56 307.27L692.82 304.8L695.27 302.38L697.9 300L700.73 297.68L703.77 295.41L707.01 293.2L710.48 291.05L714.19 288.97L718.16 286.97L722.42 285.05L727 283.22L731.95 281.5L737.35 279.88L743.34 278.4L750.14 277.08L758.37 275.98L772.5 275.25M772.5 408.25L761.19 407.52L754.62 406.42L749.17 405.1L744.38 403.62L740.06 402L736.1 400.28L732.44 398.45L729.03 396.53L725.86 394.53L722.89 392.45L720.11 390.3L717.51 388.09L715.09 385.82L712.82 383.5L710.71 381.12L708.76 378.7L706.95 376.23L705.28 373.73L703.75 371.19L702.37 368.61L701.12 366.01L700 363.38L699.02 360.73L698.17 358.05L697.46 355.36L696.87 352.66L696.42 349.94L696.09 347.22L695.9 344.48L695.83 341.75L695.9 339.02L696.09 336.28L696.42 333.56L696.87 330.84L697.46 328.14L698.17 325.45L699.02 322.77L700 320.12L701.12 317.49L702.37 314.89L703.75 312.31L705.28 309.77L706.95 307.27L708.76 304.8L710.71 302.38L712.82 300L715.09 297.68L717.51 295.41L720.11 293.2L722.89 291.05L725.86 288.97L729.03 286.97L732.44 285.05L736.1 283.22L740.06 281.5L744.38 279.88L749.17 278.4L754.62 277.08L761.19 275.98L772.5 275.25M772.5 408.25L764.02 407.52L759.09 406.42L755 405.1L751.41 403.62L748.17 402L745.2 400.28L742.45 398.45L739.9 396.53L737.52 394.53L735.29 392.45L733.21 390.3L731.26 388.09L729.44 385.82L727.74 383.5L726.16 381.12L724.69 378.7L723.33 376.23L722.08 373.73L720.94 371.19L719.9 368.61L718.96 366.01L718.13 363.38L717.39 360.73L716.76 358.05L716.22 355.36L715.78 352.66L715.44 349.94L715.19 347.22L715.05 344.48L715 341.75L715.05 339.02L715.19 336.28L715.44 333.56L715.78 330.84L716.22 328.14L716.76 325.45L717.39 322.77L718.13 320.12L718.96 317.49L719.9 314.89L720.94 312.31L722.08 309.77L723.33 307.27L724.69 304.8L726.16 302.38L727.74 300L729.44 297.68L731.26 295.41L733.21 293.2L735.29 291.05L737.52 288.97L739.9 286.97L742.45 285.05L745.2 283.22L748.17 281.5L751.41 279.88L755 278.4L759.09 277.08L764.02 275.98L772.5 275.25M772.5 408.25L766.85 407.52L763.56 406.42L760.83 405.1L758.44 403.62L756.28 402L754.3 400.28L752.47 398.45L750.77 396.53L749.18 394.53L747.69 392.45L746.31 390.3L745.01 388.09L743.79 385.82L742.66 383.5L741.61 381.12L740.63 378.7L739.72 376.23L738.89 373.73L738.13 371.19L737.43 368.61L736.81 366.01L736.25 363.38L735.76 360.73L735.34 358.05L734.98 355.36L734.69 352.66L734.46 349.94L734.3 347.22L734.2 344.48L734.17 341.75L734.2 339.02L734.3 336.28L734.46 333.56L734.69 330.84L734.98 328.14L735.34 325.45L735.76 322.77L736.25 320.12L736.81 317.49L737.43 314.89L738.13 312.31L738.89 309.77L739.72 307.27L740.63 304.8L741.61 302.38L742.66 300L743.79 297.68L745.01 295.41L746.31 293.2L747.69 291.05L749.18 288.97L750.77 286.97L752.47 285.05L754.3 283.22L756.28 281.5L758.44 279.88L760.83 278.4L763.56 277.08L766.85 275.98L772.5 275.25M772.5 408.25L769.67 407.52L768.03 406.42L766.67 405.1L765.47 403.62L764.39 402L763.4 400.28L762.48 398.45L761.63 396.53L760.84 394.53L760.1 392.45L759.4 390.3L758.75 388.09L758.15 385.82L757.58 383.5L757.05 381.12L756.56 378.7L756.11 376.23L755.69 373.73L755.31 371.19L754.97 368.61L754.65 366.01L754.38 363.38L754.13 360.73L753.92 358.05L753.74 355.36L753.59 352.66L753.48 349.94L753.4 347.22L753.35 344.48L753.33 341.75L753.35 339.02L753.4 336.28L753.48 333.56L753.59 330.84L753.74 328.14L753.92 325.45L754.13 322.77L754.38 320.12L754.65 317.49L754.97 314.89L755.31 312.31L755.69 309.77L756.11 307.27L756.56 304.8L757.05 302.38L757.58 300L758.15 297.68L758.75 295.41L759.4 293.2L760.1 291.05L760.84 288.97L761.63 286.97L762.48 285.05L763.4 283.22L764.39 281.5L765.47 279.88L766.67 278.4L768.03 277.08L769.67 275.98L772.5 275.25M772.5 408.25L772.5 275.25M772.5 408.25L775.33 407.52L776.97 406.42L778.33 405.1L779.53 403.62L780.61 402L781.6 400.28L782.52 398.45L783.37 396.53L784.16 394.53L784.9 392.45L785.6 390.3L786.25 388.09L786.85 385.82L787.42 383.5L787.95 381.12L788.44 378.7L788.89 376.23L789.31 373.73L789.69 371.19L790.03 368.61L790.35 366.01L790.62 363.38L790.87 360.73L791.08 358.05L791.26 355.36L791.41 352.66L791.52 349.94L791.6 347.22L791.65 344.48L791.67 341.75L791.65 339.02L791.6 336.28L791.52 333.56L791.41 330.84L791.26 328.14L791.08 325.45L790.87 322.77L790.62 320.12L790.35 317.49L790.03 314.89L789.69 312.31L789.31 309.77L788.89 307.27L788.44 304.8L787.95 302.38L787.42 300L786.85 297.68L786.25 295.41L785.6 293.2L784.9 291.05L784.16 288.97L783.37 286.97L782.52 285.05L781.6 283.22L780.61 281.5L779.53 279.88L778.33 278.4L776.97 277.08L775.33 275.98L772.5 275.25M772.5 408.25L778.15 407.52L781.44 406.42L784.17 405.1L786.56 403.62L788.72 402L790.7 400.28L792.53 398.45L794.23 396.53L795.82 394.53L797.31 392.45L798.69 390.3L799.99 388.09L801.21 385.82L802.34 383.5L803.39 381.12L804.37 378.7L805.28 376.23L806.11 373.73L806.87 371.19L807.57 368.61L808.19 366.01L808.75 363.38L809.24 360.73L809.66 358.05L810.02 355.36L810.31 352.66L810.54 349.94L810.7 347.22L810.8 344.48L810.83 341.75L810.8 339.02L810.7 336.28L810.54 333.56L810.31 330.84L810.02 328.14L809.66 325.45L809.24 322.77L808.75 320.12L808.19 317.49L807.57 314.89L806.87 312.31L806.11 309.77L805.28 307.27L804.37 304.8L803.39 302.38L802.34 300L801.21 297.68L799.99 295.41L798.69 293.2L797.31 291.05L795.82 288.97L794.23 286.97L792.53 285.05L790.7 283.22L788.72 281.5L786.56 279.88L784.17 278.4L781.44 277.08L778.15 275.98L772.5 275.25M772.5 408.25L780.98 407.52L785.91 406.42L790 405.1L793.59 403.62L796.83 402L799.8 400.28L802.55 398.45L805.1 396.53L807.48 394.53L809.71 392.45L811.79 390.3L813.74 388.09L815.56 385.82L817.26 383.5L818.84 381.12L820.31 378.7L821.67 376.23L822.92 373.73L824.06 371.19L825.1 368.61L826.04 366.01L826.87 363.38L827.61 360.73L828.24 358.05L828.78 355.36L829.22 352.66L829.56 349.94L829.81 347.22L829.95 344.48L830 341.75L829.95 339.02L829.81 336.28L829.56 333.56L829.22 330.84L828.78 328.14L828.24 325.45L827.61 322.77L826.87 320.12L826.04 317.49L825.1 314.89L824.06 312.31L822.92 309.77L821.67 307.27L820.31 304.8L818.84 302.38L817.26 300L815.56 297.68L813.74 295.41L811.79 293.2L809.71 291.05L807.48 288.97L805.1 286.97L802.55 285.05L799.8 283.22L796.83 281.5L793.59 279.88L790 278.4L785.91 277.08L780.98 275.98L772.5 275.25M772.5 408.25L783.81 407.52L790.38 406.42L795.83 405.1L800.62 403.62L804.94 402L808.9 400.28L812.56 398.45L815.97 396.53L819.14 394.53L822.11 392.45L824.89 390.3L827.49 388.09L829.91 385.82L832.18 383.5L834.29 381.12L836.24 378.7L838.05 376.23L839.72 373.73L841.25 371.19L842.63 368.61L843.88 366.01L845 363.38L845.98 360.73L846.83 358.05L847.54 355.36L848.13 352.66L848.58 349.94L848.91 347.22L849.1 344.48L849.17 341.75L849.1 339.02L848.91 336.28L848.58 333.56L848.13 330.84L847.54 328.14L846.83 325.45L845.98 322.77L845 320.12L843.88 317.49L842.63 314.89L841.25 312.31L839.72 309.77L838.05 307.27L836.24 304.8L834.29 302.38L832.18 300L829.91 297.68L827.49 295.41L824.89 293.2L822.11 291.05L819.14 288.97L815.97 286.97L812.56 285.05L808.9 283.22L804.94 281.5L800.62 279.88L795.83 278.4L790.38 277.08L783.81 275.98L772.5 275.25M772.5 408.25L786.63 407.52L794.86 406.42L801.66 405.1L807.65 403.62L813.05 402L818 400.28L822.58 398.45L826.84 396.53L830.81 394.53L834.52 392.45L837.99 390.3L841.23 388.09L844.27 385.82L847.1 383.5L849.73 381.12L852.18 378.7L854.44 376.23L856.53 373.73L858.43 371.19L860.17 368.61L861.73 366.01L863.12 363.38L864.35 360.73L865.41 358.05L866.3 355.36L867.04 352.66L867.6 349.94L868.01 347.22L868.25 344.48L868.33 341.75L868.25 339.02L868.01 336.28L867.6 333.56L867.04 330.84L866.3 328.14L865.41 325.45L864.35 322.77L863.12 320.12L861.73 317.49L860.17 314.89L858.43 312.31L856.53 309.77L854.44 307.27L852.18 304.8L849.73 302.38L847.1 300L844.27 297.68L841.23 295.41L837.99 293.2L834.52 291.05L830.81 288.97L826.84 286.97L822.58 285.05L818 283.22L813.05 281.5L807.65 279.88L801.66 278.4L794.86 277.08L786.63 275.98L772.5 275.25M657.5 341.75L887.5 341.75M661.39 358.91L883.61 358.91M661.39 324.59L883.61 324.59M672.71 374.8L872.29 374.8M672.71 308.7L872.29 308.7M690.6 388.43L854.4 388.43M690.6 295.07L854.4 295.07M714.4 399.14L830.6 399.14M714.4 284.36L830.6 284.36" fill="none" stroke="#e8905c" stroke-opacity="0.34" stroke-width="0.9"/>
</g>
<ellipse cx="772.5" cy="341.75" rx="115" ry="66.5" fill="none" stroke="#000" stroke-width="1"/>
<g class="tk">
<text x="692.45" y="283.05" textLength="25.19" lengthAdjust="spacingAndGlyphs">75°</text>
<text x="651.55" y="299.55" textLength="25.69" lengthAdjust="spacingAndGlyphs">45°</text>
<text x="630.04" y="329.75" textLength="26.23" lengthAdjust="spacingAndGlyphs">15°</text>
<text x="625.31" y="364.05" textLength="30.88" lengthAdjust="spacingAndGlyphs">-15°</text>
<text x="645.68" y="394.35" textLength="31.51" lengthAdjust="spacingAndGlyphs">-45°</text>
<text x="686.1" y="411.55" textLength="31.51" lengthAdjust="spacingAndGlyphs">-75°</text>
<text x="657.7" y="348.05" textLength="39.57" lengthAdjust="spacingAndGlyphs">-150°</text>
<text x="700.69" y="348.05" textLength="30.25" lengthAdjust="spacingAndGlyphs">-90°</text>
<text x="738.97" y="348.05" textLength="30.35" lengthAdjust="spacingAndGlyphs">-30°</text>
<text x="779.47" y="348.05" textLength="25.97" lengthAdjust="spacingAndGlyphs">30°</text>
<text x="818.15" y="348.05" textLength="25.45" lengthAdjust="spacingAndGlyphs">90°</text>
<text x="851.7" y="348.05" textLength="34.13" lengthAdjust="spacingAndGlyphs">150°</text>
</g>
<text x="725.28" y="264.25" font-size="26.8" textLength="31.38" lengthAdjust="spacingAndGlyphs" stroke="#000" stroke-width="0.35">10</text>
<text x="757.13" y="254.95" font-size="19" textLength="9.25" lengthAdjust="spacingAndGlyphs" stroke="#000" stroke-width="0.3">4</text>
<text x="768.45" y="264.25" font-size="27.6" font-style="italic" textLength="29.02" lengthAdjust="spacingAndGlyphs">M</text>
<text class="sun" x="796.7" y="270.45" font-size="19">⊙</text>
<g clip-path="url(#e20)">
<ellipse cx="175.1" cy="562.8" rx="119.7" ry="66.3" fill="#eeeaf3"/>
<path d="M104.5 515.2C104.33 516.78 99.35 521.93 97.3 525.1C95.25 528.27 93.63 530.85 92.2 534.2C90.77 537.55 89.37 541.68 88.7 545.2C88.03 548.72 87.98 552.42 88.2 555.3C88.42 558.18 89.03 560.15 90 562.5C90.97 564.85 92.7 566.53 94 569.4C95.3 572.27 96.47 576.6 97.8 579.7C99.13 582.8 100.38 585.37 102 588C103.62 590.63 105.5 593 107.5 595.5C109.5 598 111.75 600.67 114 603C116.25 605.33 118.3 607.25 121 609.5C123.7 611.75 127.03 614.5 130.2 616.5C133.37 618.5 136.27 619.68 140 621.5C143.73 623.32 152.6 625.65 152.6 627.4C152.6 629.15 148.77 633.23 140 632C131.23 630.77 111.67 625.33 100 620C88.33 614.67 77.5 606.5 70 600C62.5 593.5 56.33 584.43 55 581C53.67 577.57 58.77 580.57 62 579.4C65.23 578.23 72.38 576.35 74.4 574C76.42 571.65 74.57 568.42 74.1 565.3C73.63 562.18 72.27 558.32 71.6 555.3C70.93 552.28 69.85 549.72 70.1 547.2C70.35 544.68 71.42 542.88 73.1 540.2C74.78 537.52 77.35 534.12 80.2 531.1C83.05 528.08 87.18 524.68 90.2 522.1C93.22 519.52 95.92 516.75 98.3 515.6C100.68 514.45 104.67 513.62 104.5 515.2Z" fill="#ffffff"/>
<path d="M177.6 496C176.77 496.52 177.68 496.73 178 498.6C178.32 500.47 179.13 504.32 179.5 507.2C179.87 510.08 180.2 513.02 180.2 515.9C180.2 518.78 179.83 521.63 179.5 524.5C179.17 527.37 178.32 530.23 178.2 533.1C178.08 535.97 178.23 538.58 178.8 541.7C179.37 544.82 180.77 548.45 181.6 551.8C182.43 555.15 183.2 558.45 183.8 561.8C184.4 565.15 184.93 568.5 185.2 571.9C185.47 575.3 185.68 578.35 185.4 582.2C185.12 586.05 184.03 590.95 183.5 595C182.97 599.05 182.2 603.62 182.2 606.5C182.2 609.38 182.58 611.28 183.5 612.3C184.42 613.32 186.28 613.38 187.7 612.6C189.12 611.82 190.55 609.68 192 607.6C193.45 605.52 195.03 602.82 196.4 600.1C197.77 597.38 198.9 594.32 200.2 591.3C201.5 588.28 203.03 584.72 204.2 582C205.37 579.28 205.98 577.67 207.2 575C208.42 572.33 210.17 569.38 211.5 566C212.83 562.62 214.43 558.27 215.2 554.7C215.97 551.13 216.18 547.97 216.1 544.6C216.02 541.23 215.53 537.85 214.7 534.5C213.87 531.15 212.67 527.85 211.1 524.5C209.53 521.15 207.58 517.75 205.3 514.4C203.02 511.05 200.15 507.22 197.4 504.4C194.65 501.58 191.2 498.98 188.8 497.5C186.4 496.02 184.87 495.75 183 495.5C181.13 495.25 178.43 495.48 177.6 496Z" fill="#ffffff"/>
<path d="M175.1 629.1L160.39 628.37L151.83 627.27L144.74 625.96L138.51 624.48L132.89 622.87L127.74 621.15L122.97 619.33L118.54 617.41L114.41 615.42L110.55 613.35L106.94 611.21L103.56 609L100.4 606.74L97.45 604.42L94.71 602.05L92.16 599.64L89.81 597.18L87.64 594.68L85.66 592.15L83.85 589.58L82.23 586.99L80.77 584.37L79.5 581.72L78.39 579.06L77.46 576.37L76.7 573.68L76.11 570.97L75.69 568.25L75.43 565.53L75.35 562.8L75.43 560.07L75.69 557.35L76.11 554.63L76.7 551.92L77.46 549.23L78.39 546.54L79.5 543.88L80.77 541.23L82.23 538.61L83.85 536.02L85.66 533.45L87.64 530.92L89.81 528.42L92.16 525.96L94.71 523.55L97.45 521.18L100.4 518.86L103.56 516.6L106.94 514.39L110.55 512.25L114.41 510.18L118.54 508.19L122.97 506.27L127.74 504.45L132.89 502.73L138.51 501.12L144.74 499.64L151.83 498.33L160.39 497.23L175.1 496.5M175.1 629.1L163.33 628.37L156.48 627.27L150.81 625.96L145.83 624.48L141.33 622.87L137.21 621.15L133.4 619.33L129.85 617.41L126.55 615.42L123.46 613.35L120.57 611.21L117.87 609L115.34 606.74L112.98 604.42L110.79 602.05L108.75 599.64L106.87 597.18L105.13 594.68L103.54 592.15L102.1 589.58L100.8 586.99L99.64 584.37L98.62 581.72L97.74 579.06L96.99 576.37L96.38 573.68L95.91 570.97L95.57 568.25L95.37 565.53L95.3 562.8L95.37 560.07L95.57 557.35L95.91 554.63L96.38 551.92L96.99 549.23L97.74 546.54L98.62 543.88L99.64 541.23L100.8 538.61L102.1 536.02L103.54 533.45L105.13 530.92L106.87 528.42L108.75 525.96L110.79 523.55L112.98 521.18L115.34 518.86L117.87 516.6L120.57 514.39L123.46 512.25L126.55 510.18L129.85 508.19L133.4 506.27L137.21 504.45L141.33 502.73L145.83 501.12L150.81 499.64L156.48 498.33L163.33 497.23L175.1 496.5M175.1 629.1L166.27 628.37L161.14 627.27L156.89 625.96L153.15 624.48L149.77 622.87L146.68 621.15L143.82 619.33L141.17 617.41L138.69 615.42L136.37 613.35L134.2 611.21L132.18 609L130.28 606.74L128.51 604.42L126.87 602.05L125.34 599.64L123.93 597.18L122.62 594.68L121.43 592.15L120.35 589.58L119.38 586.99L118.5 584.37L117.74 581.72L117.08 579.06L116.52 576.37L116.06 573.68L115.71 570.97L115.45 568.25L115.3 565.53L115.25 562.8L115.3 560.07L115.45 557.35L115.71 554.63L116.06 551.92L116.52 549.23L117.08 546.54L117.74 543.88L118.5 541.23L119.38 538.61L120.35 536.02L121.43 533.45L122.62 530.92L123.93 528.42L125.34 525.96L126.87 523.55L128.51 521.18L130.28 518.86L132.18 516.6L134.2 514.39L136.37 512.25L138.69 510.18L141.17 508.19L143.82 506.27L146.68 504.45L149.77 502.73L153.15 501.12L156.89 499.64L161.14 498.33L166.27 497.23L175.1 496.5M175.1 629.1L169.22 628.37L165.79 627.27L162.96 625.96L160.47 624.48L158.22 622.87L156.15 621.15L154.25 619.33L152.48 617.41L150.82 615.42L149.28 613.35L147.83 611.21L146.48 609L145.22 606.74L144.04 604.42L142.94 602.05L141.93 599.64L140.98 597.18L140.12 594.68L139.32 592.15L138.6 589.58L137.95 586.99L137.37 584.37L136.86 581.72L136.42 579.06L136.05 576.37L135.74 573.68L135.5 570.97L135.33 568.25L135.23 565.53L135.2 562.8L135.23 560.07L135.33 557.35L135.5 554.63L135.74 551.92L136.05 549.23L136.42 546.54L136.86 543.88L137.37 541.23L137.95 538.61L138.6 536.02L139.32 533.45L140.12 530.92L140.98 528.42L141.93 525.96L142.94 523.55L144.04 521.18L145.22 518.86L146.48 516.6L147.83 514.39L149.28 512.25L150.82 510.18L152.48 508.19L154.25 506.27L156.15 504.45L158.22 502.73L160.47 501.12L162.96 499.64L165.79 498.33L169.22 497.23L175.1 496.5M175.1 629.1L172.16 628.37L170.45 627.27L169.03 625.96L167.78 624.48L166.66 622.87L165.63 621.15L164.67 619.33L163.79 617.41L162.96 615.42L162.19 613.35L161.47 611.21L160.79 609L160.16 606.74L159.57 604.42L159.02 602.05L158.51 599.64L158.04 597.18L157.61 594.68L157.21 592.15L156.85 589.58L156.53 586.99L156.23 584.37L155.98 581.72L155.76 579.06L155.57 576.37L155.42 573.68L155.3 570.97L155.22 568.25L155.17 565.53L155.15 562.8L155.17 560.07L155.22 557.35L155.3 554.63L155.42 551.92L155.57 549.23L155.76 546.54L155.98 543.88L156.23 541.23L156.53 538.61L156.85 536.02L157.21 533.45L157.61 530.92L158.04 528.42L158.51 525.96L159.02 523.55L159.57 521.18L160.16 518.86L160.79 516.6L161.47 514.39L162.19 512.25L162.96 510.18L163.79 508.19L164.67 506.27L165.63 504.45L166.66 502.73L167.78 501.12L169.03 499.64L170.45 498.33L172.16 497.23L175.1 496.5M175.1 629.1L175.1 496.5M175.1 629.1L178.04 628.37L179.75 627.27L181.17 625.96L182.42 624.48L183.54 622.87L184.57 621.15L185.53 619.33L186.41 617.41L187.24 615.42L188.01 613.35L188.73 611.21L189.41 609L190.04 606.74L190.63 604.42L191.18 602.05L191.69 599.64L192.16 597.18L192.59 594.68L192.99 592.15L193.35 589.58L193.67 586.99L193.97 584.37L194.22 581.72L194.44 579.06L194.63 576.37L194.78 573.68L194.9 570.97L194.98 568.25L195.03 565.53L195.05 562.8L195.03 560.07L194.98 557.35L194.9 554.63L194.78 551.92L194.63 549.23L194.44 546.54L194.22 543.88L193.97 541.23L193.67 538.61L193.35 536.02L192.99 533.45L192.59 530.92L192.16 528.42L191.69 525.96L191.18 523.55L190.63 521.18L190.04 518.86L189.41 516.6L188.73 514.39L188.01 512.25L187.24 510.18L186.41 508.19L185.53 506.27L184.57 504.45L183.54 502.73L182.42 501.12L181.17 499.64L179.75 498.33L178.04 497.23L175.1 496.5M175.1 629.1L180.98 628.37L184.41 627.27L187.24 625.96L189.73 624.48L191.98 622.87L194.05 621.15L195.95 619.33L197.72 617.41L199.38 615.42L200.92 613.35L202.37 611.21L203.72 609L204.98 606.74L206.16 604.42L207.26 602.05L208.27 599.64L209.22 597.18L210.08 594.68L210.88 592.15L211.6 589.58L212.25 586.99L212.83 584.37L213.34 581.72L213.78 579.06L214.15 576.37L214.46 573.68L214.7 570.97L214.87 568.25L214.97 565.53L215 562.8L214.97 560.07L214.87 557.35L214.7 554.63L214.46 551.92L214.15 549.23L213.78 546.54L213.34 543.88L212.83 541.23L212.25 538.61L211.6 536.02L210.88 533.45L210.08 530.92L209.22 528.42L208.27 525.96L207.26 523.55L206.16 521.18L204.98 518.86L203.72 516.6L202.37 514.39L200.92 512.25L199.38 510.18L197.72 508.19L195.95 506.27L194.05 504.45L191.98 502.73L189.73 501.12L187.24 499.64L184.41 498.33L180.98 497.23L175.1 496.5M175.1 629.1L183.93 628.37L189.06 627.27L193.31 625.96L197.05 624.48L200.43 622.87L203.52 621.15L206.38 619.33L209.03 617.41L211.51 615.42L213.83 613.35L216 611.21L218.02 609L219.92 606.74L221.69 604.42L223.33 602.05L224.86 599.64L226.27 597.18L227.58 594.68L228.77 592.15L229.85 589.58L230.82 586.99L231.7 584.37L232.46 581.72L233.12 579.06L233.68 576.37L234.14 573.68L234.49 570.97L234.75 568.25L234.9 565.53L234.95 562.8L234.9 560.07L234.75 557.35L234.49 554.63L234.14 551.92L233.68 549.23L233.12 546.54L232.46 543.88L231.7 541.23L230.82 538.61L229.85 536.02L228.77 533.45L227.58 530.92L226.27 528.42L224.86 525.96L223.33 523.55L221.69 521.18L219.92 518.86L218.02 516.6L216 514.39L213.83 512.25L211.51 510.18L209.03 508.19L206.38 506.27L203.52 504.45L200.43 502.73L197.05 501.12L193.31 499.64L189.06 498.33L183.93 497.23L175.1 496.5M175.1 629.1L186.87 628.37L193.72 627.27L199.39 625.96L204.37 624.48L208.87 622.87L212.99 621.15L216.8 619.33L220.35 617.41L223.65 615.42L226.74 613.35L229.63 611.21L232.33 609L234.86 606.74L237.22 604.42L239.41 602.05L241.45 599.64L243.33 597.18L245.07 594.68L246.66 592.15L248.1 589.58L249.4 586.99L250.56 584.37L251.58 581.72L252.46 579.06L253.21 576.37L253.82 573.68L254.29 570.97L254.63 568.25L254.83 565.53L254.9 562.8L254.83 560.07L254.63 557.35L254.29 554.63L253.82 551.92L253.21 549.23L252.46 546.54L251.58 543.88L250.56 541.23L249.4 538.61L248.1 536.02L246.66 533.45L245.07 530.92L243.33 528.42L241.45 525.96L239.41 523.55L237.22 521.18L234.86 518.86L232.33 516.6L229.63 514.39L226.74 512.25L223.65 510.18L220.35 508.19L216.8 506.27L212.99 504.45L208.87 502.73L204.37 501.12L199.39 499.64L193.72 498.33L186.87 497.23L175.1 496.5M175.1 629.1L189.81 628.37L198.37 627.27L205.46 625.96L211.69 624.48L217.31 622.87L222.46 621.15L227.23 619.33L231.66 617.41L235.79 615.42L239.65 613.35L243.26 611.21L246.64 609L249.8 606.74L252.75 604.42L255.49 602.05L258.04 599.64L260.39 597.18L262.56 594.68L264.54 592.15L266.35 589.58L267.97 586.99L269.43 584.37L270.7 581.72L271.81 579.06L272.74 576.37L273.5 573.68L274.09 570.97L274.51 568.25L274.77 565.53L274.85 562.8L274.77 560.07L274.51 557.35L274.09 554.63L273.5 551.92L272.74 549.23L271.81 546.54L270.7 543.88L269.43 541.23L267.97 538.61L266.35 536.02L264.54 533.45L262.56 530.92L260.39 528.42L258.04 525.96L255.49 523.55L252.75 521.18L249.8 518.86L246.64 516.6L243.26 514.39L239.65 512.25L235.79 510.18L231.66 508.19L227.23 506.27L222.46 504.45L217.31 502.73L211.69 501.12L205.46 499.64L198.37 498.33L189.81 497.23L175.1 496.5M55.4 562.8L294.8 562.8M59.45 579.91L290.75 579.91M59.45 545.69L290.75 545.69M71.23 595.75L278.97 595.75M71.23 529.85L278.97 529.85M89.85 609.34L260.35 609.34M89.85 516.26L260.35 516.26M114.63 620.02L235.57 620.02M114.63 505.58L235.57 505.58" fill="none" stroke="#8c8894" stroke-opacity="0.45" stroke-width="0.9"/>
<mask id="m20" maskUnits="userSpaceOnUse" x="0" y="0" width="1046" height="696">
<path d="M104.5 515.2C104.33 516.78 99.35 521.93 97.3 525.1C95.25 528.27 93.63 530.85 92.2 534.2C90.77 537.55 89.37 541.68 88.7 545.2C88.03 548.72 87.98 552.42 88.2 555.3C88.42 558.18 89.03 560.15 90 562.5C90.97 564.85 92.7 566.53 94 569.4C95.3 572.27 96.47 576.6 97.8 579.7C99.13 582.8 100.38 585.37 102 588C103.62 590.63 105.5 593 107.5 595.5C109.5 598 111.75 600.67 114 603C116.25 605.33 118.3 607.25 121 609.5C123.7 611.75 127.03 614.5 130.2 616.5C133.37 618.5 136.27 619.68 140 621.5C143.73 623.32 152.6 625.65 152.6 627.4C152.6 629.15 148.77 633.23 140 632C131.23 630.77 111.67 625.33 100 620C88.33 614.67 77.5 606.5 70 600C62.5 593.5 56.33 584.43 55 581C53.67 577.57 58.77 580.57 62 579.4C65.23 578.23 72.38 576.35 74.4 574C76.42 571.65 74.57 568.42 74.1 565.3C73.63 562.18 72.27 558.32 71.6 555.3C70.93 552.28 69.85 549.72 70.1 547.2C70.35 544.68 71.42 542.88 73.1 540.2C74.78 537.52 77.35 534.12 80.2 531.1C83.05 528.08 87.18 524.68 90.2 522.1C93.22 519.52 95.92 516.75 98.3 515.6C100.68 514.45 104.67 513.62 104.5 515.2Z" fill="#fff" stroke="#fff" stroke-width="3.2" stroke-linejoin="round"/>
<path d="M177.6 496C176.77 496.52 177.68 496.73 178 498.6C178.32 500.47 179.13 504.32 179.5 507.2C179.87 510.08 180.2 513.02 180.2 515.9C180.2 518.78 179.83 521.63 179.5 524.5C179.17 527.37 178.32 530.23 178.2 533.1C178.08 535.97 178.23 538.58 178.8 541.7C179.37 544.82 180.77 548.45 181.6 551.8C182.43 555.15 183.2 558.45 183.8 561.8C184.4 565.15 184.93 568.5 185.2 571.9C185.47 575.3 185.68 578.35 185.4 582.2C185.12 586.05 184.03 590.95 183.5 595C182.97 599.05 182.2 603.62 182.2 606.5C182.2 609.38 182.58 611.28 183.5 612.3C184.42 613.32 186.28 613.38 187.7 612.6C189.12 611.82 190.55 609.68 192 607.6C193.45 605.52 195.03 602.82 196.4 600.1C197.77 597.38 198.9 594.32 200.2 591.3C201.5 588.28 203.03 584.72 204.2 582C205.37 579.28 205.98 577.67 207.2 575C208.42 572.33 210.17 569.38 211.5 566C212.83 562.62 214.43 558.27 215.2 554.7C215.97 551.13 216.18 547.97 216.1 544.6C216.02 541.23 215.53 537.85 214.7 534.5C213.87 531.15 212.67 527.85 211.1 524.5C209.53 521.15 207.58 517.75 205.3 514.4C203.02 511.05 200.15 507.22 197.4 504.4C194.65 501.58 191.2 498.98 188.8 497.5C186.4 496.02 184.87 495.75 183 495.5C181.13 495.25 178.43 495.48 177.6 496Z" fill="#fff" stroke="#fff" stroke-width="3.2" stroke-linejoin="round"/>
</mask>
<path d="M175.1 629.1L160.39 628.37L151.83 627.27L144.74 625.96L138.51 624.48L132.89 622.87L127.74 621.15L122.97 619.33L118.54 617.41L114.41 615.42L110.55 613.35L106.94 611.21L103.56 609L100.4 606.74L97.45 604.42L94.71 602.05L92.16 599.64L89.81 597.18L87.64 594.68L85.66 592.15L83.85 589.58L82.23 586.99L80.77 584.37L79.5 581.72L78.39 579.06L77.46 576.37L76.7 573.68L76.11 570.97L75.69 568.25L75.43 565.53L75.35 562.8L75.43 560.07L75.69 557.35L76.11 554.63L76.7 551.92L77.46 549.23L78.39 546.54L79.5 543.88L80.77 541.23L82.23 538.61L83.85 536.02L85.66 533.45L87.64 530.92L89.81 528.42L92.16 525.96L94.71 523.55L97.45 521.18L100.4 518.86L103.56 516.6L106.94 514.39L110.55 512.25L114.41 510.18L118.54 508.19L122.97 506.27L127.74 504.45L132.89 502.73L138.51 501.12L144.74 499.64L151.83 498.33L160.39 497.23L175.1 496.5M175.1 629.1L163.33 628.37L156.48 627.27L150.81 625.96L145.83 624.48L141.33 622.87L137.21 621.15L133.4 619.33L129.85 617.41L126.55 615.42L123.46 613.35L120.57 611.21L117.87 609L115.34 606.74L112.98 604.42L110.79 602.05L108.75 599.64L106.87 597.18L105.13 594.68L103.54 592.15L102.1 589.58L100.8 586.99L99.64 584.37L98.62 581.72L97.74 579.06L96.99 576.37L96.38 573.68L95.91 570.97L95.57 568.25L95.37 565.53L95.3 562.8L95.37 560.07L95.57 557.35L95.91 554.63L96.38 551.92L96.99 549.23L97.74 546.54L98.62 543.88L99.64 541.23L100.8 538.61L102.1 536.02L103.54 533.45L105.13 530.92L106.87 528.42L108.75 525.96L110.79 523.55L112.98 521.18L115.34 518.86L117.87 516.6L120.57 514.39L123.46 512.25L126.55 510.18L129.85 508.19L133.4 506.27L137.21 504.45L141.33 502.73L145.83 501.12L150.81 499.64L156.48 498.33L163.33 497.23L175.1 496.5M175.1 629.1L166.27 628.37L161.14 627.27L156.89 625.96L153.15 624.48L149.77 622.87L146.68 621.15L143.82 619.33L141.17 617.41L138.69 615.42L136.37 613.35L134.2 611.21L132.18 609L130.28 606.74L128.51 604.42L126.87 602.05L125.34 599.64L123.93 597.18L122.62 594.68L121.43 592.15L120.35 589.58L119.38 586.99L118.5 584.37L117.74 581.72L117.08 579.06L116.52 576.37L116.06 573.68L115.71 570.97L115.45 568.25L115.3 565.53L115.25 562.8L115.3 560.07L115.45 557.35L115.71 554.63L116.06 551.92L116.52 549.23L117.08 546.54L117.74 543.88L118.5 541.23L119.38 538.61L120.35 536.02L121.43 533.45L122.62 530.92L123.93 528.42L125.34 525.96L126.87 523.55L128.51 521.18L130.28 518.86L132.18 516.6L134.2 514.39L136.37 512.25L138.69 510.18L141.17 508.19L143.82 506.27L146.68 504.45L149.77 502.73L153.15 501.12L156.89 499.64L161.14 498.33L166.27 497.23L175.1 496.5M175.1 629.1L169.22 628.37L165.79 627.27L162.96 625.96L160.47 624.48L158.22 622.87L156.15 621.15L154.25 619.33L152.48 617.41L150.82 615.42L149.28 613.35L147.83 611.21L146.48 609L145.22 606.74L144.04 604.42L142.94 602.05L141.93 599.64L140.98 597.18L140.12 594.68L139.32 592.15L138.6 589.58L137.95 586.99L137.37 584.37L136.86 581.72L136.42 579.06L136.05 576.37L135.74 573.68L135.5 570.97L135.33 568.25L135.23 565.53L135.2 562.8L135.23 560.07L135.33 557.35L135.5 554.63L135.74 551.92L136.05 549.23L136.42 546.54L136.86 543.88L137.37 541.23L137.95 538.61L138.6 536.02L139.32 533.45L140.12 530.92L140.98 528.42L141.93 525.96L142.94 523.55L144.04 521.18L145.22 518.86L146.48 516.6L147.83 514.39L149.28 512.25L150.82 510.18L152.48 508.19L154.25 506.27L156.15 504.45L158.22 502.73L160.47 501.12L162.96 499.64L165.79 498.33L169.22 497.23L175.1 496.5M175.1 629.1L172.16 628.37L170.45 627.27L169.03 625.96L167.78 624.48L166.66 622.87L165.63 621.15L164.67 619.33L163.79 617.41L162.96 615.42L162.19 613.35L161.47 611.21L160.79 609L160.16 606.74L159.57 604.42L159.02 602.05L158.51 599.64L158.04 597.18L157.61 594.68L157.21 592.15L156.85 589.58L156.53 586.99L156.23 584.37L155.98 581.72L155.76 579.06L155.57 576.37L155.42 573.68L155.3 570.97L155.22 568.25L155.17 565.53L155.15 562.8L155.17 560.07L155.22 557.35L155.3 554.63L155.42 551.92L155.57 549.23L155.76 546.54L155.98 543.88L156.23 541.23L156.53 538.61L156.85 536.02L157.21 533.45L157.61 530.92L158.04 528.42L158.51 525.96L159.02 523.55L159.57 521.18L160.16 518.86L160.79 516.6L161.47 514.39L162.19 512.25L162.96 510.18L163.79 508.19L164.67 506.27L165.63 504.45L166.66 502.73L167.78 501.12L169.03 499.64L170.45 498.33L172.16 497.23L175.1 496.5M175.1 629.1L175.1 496.5M175.1 629.1L178.04 628.37L179.75 627.27L181.17 625.96L182.42 624.48L183.54 622.87L184.57 621.15L185.53 619.33L186.41 617.41L187.24 615.42L188.01 613.35L188.73 611.21L189.41 609L190.04 606.74L190.63 604.42L191.18 602.05L191.69 599.64L192.16 597.18L192.59 594.68L192.99 592.15L193.35 589.58L193.67 586.99L193.97 584.37L194.22 581.72L194.44 579.06L194.63 576.37L194.78 573.68L194.9 570.97L194.98 568.25L195.03 565.53L195.05 562.8L195.03 560.07L194.98 557.35L194.9 554.63L194.78 551.92L194.63 549.23L194.44 546.54L194.22 543.88L193.97 541.23L193.67 538.61L193.35 536.02L192.99 533.45L192.59 530.92L192.16 528.42L191.69 525.96L191.18 523.55L190.63 521.18L190.04 518.86L189.41 516.6L188.73 514.39L188.01 512.25L187.24 510.18L186.41 508.19L185.53 506.27L184.57 504.45L183.54 502.73L182.42 501.12L181.17 499.64L179.75 498.33L178.04 497.23L175.1 496.5M175.1 629.1L180.98 628.37L184.41 627.27L187.24 625.96L189.73 624.48L191.98 622.87L194.05 621.15L195.95 619.33L197.72 617.41L199.38 615.42L200.92 613.35L202.37 611.21L203.72 609L204.98 606.74L206.16 604.42L207.26 602.05L208.27 599.64L209.22 597.18L210.08 594.68L210.88 592.15L211.6 589.58L212.25 586.99L212.83 584.37L213.34 581.72L213.78 579.06L214.15 576.37L214.46 573.68L214.7 570.97L214.87 568.25L214.97 565.53L215 562.8L214.97 560.07L214.87 557.35L214.7 554.63L214.46 551.92L214.15 549.23L213.78 546.54L213.34 543.88L212.83 541.23L212.25 538.61L211.6 536.02L210.88 533.45L210.08 530.92L209.22 528.42L208.27 525.96L207.26 523.55L206.16 521.18L204.98 518.86L203.72 516.6L202.37 514.39L200.92 512.25L199.38 510.18L197.72 508.19L195.95 506.27L194.05 504.45L191.98 502.73L189.73 501.12L187.24 499.64L184.41 498.33L180.98 497.23L175.1 496.5M175.1 629.1L183.93 628.37L189.06 627.27L193.31 625.96L197.05 624.48L200.43 622.87L203.52 621.15L206.38 619.33L209.03 617.41L211.51 615.42L213.83 613.35L216 611.21L218.02 609L219.92 606.74L221.69 604.42L223.33 602.05L224.86 599.64L226.27 597.18L227.58 594.68L228.77 592.15L229.85 589.58L230.82 586.99L231.7 584.37L232.46 581.72L233.12 579.06L233.68 576.37L234.14 573.68L234.49 570.97L234.75 568.25L234.9 565.53L234.95 562.8L234.9 560.07L234.75 557.35L234.49 554.63L234.14 551.92L233.68 549.23L233.12 546.54L232.46 543.88L231.7 541.23L230.82 538.61L229.85 536.02L228.77 533.45L227.58 530.92L226.27 528.42L224.86 525.96L223.33 523.55L221.69 521.18L219.92 518.86L218.02 516.6L216 514.39L213.83 512.25L211.51 510.18L209.03 508.19L206.38 506.27L203.52 504.45L200.43 502.73L197.05 501.12L193.31 499.64L189.06 498.33L183.93 497.23L175.1 496.5M175.1 629.1L186.87 628.37L193.72 627.27L199.39 625.96L204.37 624.48L208.87 622.87L212.99 621.15L216.8 619.33L220.35 617.41L223.65 615.42L226.74 613.35L229.63 611.21L232.33 609L234.86 606.74L237.22 604.42L239.41 602.05L241.45 599.64L243.33 597.18L245.07 594.68L246.66 592.15L248.1 589.58L249.4 586.99L250.56 584.37L251.58 581.72L252.46 579.06L253.21 576.37L253.82 573.68L254.29 570.97L254.63 568.25L254.83 565.53L254.9 562.8L254.83 560.07L254.63 557.35L254.29 554.63L253.82 551.92L253.21 549.23L252.46 546.54L251.58 543.88L250.56 541.23L249.4 538.61L248.1 536.02L246.66 533.45L245.07 530.92L243.33 528.42L241.45 525.96L239.41 523.55L237.22 521.18L234.86 518.86L232.33 516.6L229.63 514.39L226.74 512.25L223.65 510.18L220.35 508.19L216.8 506.27L212.99 504.45L208.87 502.73L204.37 501.12L199.39 499.64L193.72 498.33L186.87 497.23L175.1 496.5M175.1 629.1L189.81 628.37L198.37 627.27L205.46 625.96L211.69 624.48L217.31 622.87L222.46 621.15L227.23 619.33L231.66 617.41L235.79 615.42L239.65 613.35L243.26 611.21L246.64 609L249.8 606.74L252.75 604.42L255.49 602.05L258.04 599.64L260.39 597.18L262.56 594.68L264.54 592.15L266.35 589.58L267.97 586.99L269.43 584.37L270.7 581.72L271.81 579.06L272.74 576.37L273.5 573.68L274.09 570.97L274.51 568.25L274.77 565.53L274.85 562.8L274.77 560.07L274.51 557.35L274.09 554.63L273.5 551.92L272.74 549.23L271.81 546.54L270.7 543.88L269.43 541.23L267.97 538.61L266.35 536.02L264.54 533.45L262.56 530.92L260.39 528.42L258.04 525.96L255.49 523.55L252.75 521.18L249.8 518.86L246.64 516.6L243.26 514.39L239.65 512.25L235.79 510.18L231.66 508.19L227.23 506.27L222.46 504.45L217.31 502.73L211.69 501.12L205.46 499.64L198.37 498.33L189.81 497.23L175.1 496.5M59.45 579.91L290.75 579.91M59.45 545.69L290.75 545.69M71.23 595.75L278.97 595.75M71.23 529.85L278.97 529.85M89.85 609.34L260.35 609.34M89.85 516.26L260.35 516.26M114.63 620.02L235.57 620.02M114.63 505.58L235.57 505.58" fill="none" stroke="#7a7a7a" stroke-width="1.2" mask="url(#m20)"/>
</g>
<ellipse cx="175.1" cy="562.8" rx="119.7" ry="66.3" fill="none" stroke="#000" stroke-width="1"/>
<g class="tk">
<text x="93.06" y="504.1" textLength="25.19" lengthAdjust="spacingAndGlyphs">75°</text>
<text x="50.36" y="520.6" textLength="25.69" lengthAdjust="spacingAndGlyphs">45°</text>
<text x="28.04" y="550.8" textLength="26.23" lengthAdjust="spacingAndGlyphs">15°</text>
<text x="23.31" y="585.1" textLength="30.88" lengthAdjust="spacingAndGlyphs">-15°</text>
<text x="44.5" y="615.4" textLength="31.51" lengthAdjust="spacingAndGlyphs">-45°</text>
<text x="86.71" y="632.6" textLength="31.51" lengthAdjust="spacingAndGlyphs">-75°</text>
<text x="56.38" y="569.1" textLength="39.57" lengthAdjust="spacingAndGlyphs">-150°</text>
<text x="100.94" y="569.1" textLength="30.25" lengthAdjust="spacingAndGlyphs">-90°</text>
<text x="140.79" y="569.1" textLength="30.35" lengthAdjust="spacingAndGlyphs">-30°</text>
<text x="182.86" y="569.1" textLength="25.97" lengthAdjust="spacingAndGlyphs">30°</text>
<text x="223.1" y="569.1" textLength="25.45" lengthAdjust="spacingAndGlyphs">90°</text>
<text x="258.21" y="569.1" textLength="34.13" lengthAdjust="spacingAndGlyphs">150°</text>
</g>
<text x="127.88" y="485.3" font-size="26.8" textLength="31.38" lengthAdjust="spacingAndGlyphs" stroke="#000" stroke-width="0.35">10</text>
<text x="158.81" y="476" font-size="19" textLength="10.75" lengthAdjust="spacingAndGlyphs" stroke="#000" stroke-width="0.3">5</text>
<text x="171.05" y="485.3" font-size="27.6" font-style="italic" textLength="29.02" lengthAdjust="spacingAndGlyphs">M</text>
<text class="sun" x="199.3" y="491.5" font-size="19">⊙</text>
<g clip-path="url(#e21)">
<ellipse cx="476.15" cy="562.8" rx="119.75" ry="66.3" fill="#78acd6"/>
<path d="M416.5 505.5C415.43 506.67 411.68 510.07 410.1 512.5C408.52 514.93 407.62 517.17 407 520.1C406.38 523.03 406.5 526.77 406.4 530.1C406.3 533.43 406.52 536.77 406.4 540.1C406.28 543.43 406.05 547.03 405.7 550.1C405.35 553.17 404.82 555.8 404.3 558.5C403.78 561.2 403.2 563.85 402.6 566.3C402 568.75 401.53 571.43 400.7 573.2C399.87 574.97 398.95 576.22 397.6 576.9C396.25 577.58 394.68 577.5 392.6 577.3C390.52 577.1 387.82 576.08 385.1 575.7C382.38 575.32 379.23 575.12 376.3 575C373.37 574.88 370 575.3 367.5 575C365 574.7 363.22 574.12 361.3 573.2C359.38 572.28 356.88 570.12 356 569.5L350 569.5L350 490L416.5 490L416.5 505.5Z" fill="#2f8cc1"/>
<path d="M412.5 622C412.1 621.07 410.82 618.17 410.1 616.4C409.38 614.63 409.03 613.7 408.2 611.4C407.37 609.1 406.03 605.73 405.1 602.6C404.17 599.47 403.12 595.93 402.6 592.6C402.08 589.27 401.78 586.15 402 582.6C402.22 579.05 402.75 575.07 403.9 571.3C405.05 567.53 407.03 563.55 408.9 560C410.77 556.45 413 553.58 415.1 550C417.2 546.42 419.27 542.17 421.5 538.5C423.73 534.83 425.92 531.5 428.5 528C431.08 524.5 433.83 520.67 437 517.5C440.17 514.33 443.83 511.22 447.5 509C451.17 506.78 455.25 505.28 459 504.2C462.75 503.12 466.08 502.68 470 502.5C473.92 502.32 478.75 502.47 482.5 503.1C486.25 503.73 489.37 505.03 492.5 506.3C495.63 507.57 498.58 509.03 501.3 510.7C504.02 512.37 506.3 514.32 508.8 516.3C511.3 518.28 513.78 521.18 516.3 522.6C518.82 524.02 521.8 523.13 523.9 524.8C526 526.47 527.23 529.63 528.9 532.6C530.57 535.57 532.33 539.27 533.9 542.6C535.47 545.93 536.95 549.27 538.3 552.6C539.65 555.93 540.97 559.47 542 562.6C543.03 565.73 543.98 568.07 544.5 571.4C545.02 574.73 545.3 578.87 545.1 582.6C544.9 586.33 544.02 590.25 543.3 593.8C542.58 597.35 541.63 600.77 540.8 603.9C539.97 607.03 539.35 609.58 538.3 612.6C537.25 615.62 535.13 620.43 534.5 622L522.5 626C522.93 625.23 524.15 623 525.1 621.4C526.05 619.8 527.15 618.28 528.2 616.4C529.25 614.52 530.45 612.6 531.4 610.1C532.35 607.6 533.38 604.53 533.9 601.4C534.42 598.27 534.72 594.65 534.5 591.3C534.28 587.95 533.53 584.63 532.6 581.3C531.67 577.97 530.35 574 528.9 571.3C527.45 568.6 525.37 567.58 523.9 565.1C522.43 562.62 521.15 559.1 520.1 556.4C519.05 553.7 518.65 551.2 517.6 548.9C516.55 546.6 515.27 545.12 513.8 542.6C512.33 540.08 510.67 536.72 508.8 533.8C506.93 530.88 504.9 527.8 502.6 525.1C500.3 522.4 497.72 519.8 495 517.6C492.28 515.4 489.22 513.37 486.3 511.9C483.38 510.43 480.22 509.32 477.5 508.8C474.78 508.28 472.67 508.5 470 508.8C467.33 509.1 464.42 509.48 461.5 510.6C458.58 511.72 455.33 513.43 452.5 515.5C449.67 517.57 447 520.17 444.5 523C442 525.83 439.67 529.25 437.5 532.5C435.33 535.75 433.35 539.58 431.5 542.5C429.65 545.42 427.88 547.08 426.4 550C424.92 552.92 423.65 556.45 422.6 560C421.55 563.55 420.62 567.53 420.1 571.3C419.58 575.07 419.28 579.05 419.5 582.6C419.72 586.15 420.47 589.27 421.4 592.6C422.33 595.93 423.85 599.27 425.1 602.6C426.35 605.93 427.67 609.03 428.9 612.6C430.13 616.17 431.9 622.1 432.5 624L412.5 622Z" fill="#2f8cc1"/>
<path d="M494.4 496.5C495.13 497.5 496.82 500.25 498.8 502.5C500.78 504.75 504 507.92 506.3 510C508.6 512.08 510.3 513.22 512.6 515C514.9 516.78 518.22 519.33 520.1 520.7C521.98 522.07 521.82 522.37 523.9 523.2C525.98 524.03 529.9 524.97 532.6 525.7C535.3 526.43 537.6 526.45 540.1 527.6C542.6 528.75 545.08 530.73 547.6 532.6C550.12 534.47 552.9 536.92 555.2 538.8C557.5 540.68 559.12 542.33 561.4 543.9C563.68 545.47 566.38 546.95 568.9 548.2C571.42 549.45 573.98 550.62 576.5 551.4C579.02 552.18 581.72 552.38 584 552.9C586.28 553.42 587.95 553.73 590.2 554.5C592.45 555.27 596.28 557 597.5 557.5L600 557.5L600 492L494.4 492L494.4 496.5Z" fill="#2f8cc1"/>
<path d="M462.7 572.5C464.62 571.72 466.53 571.5 468 570.3C469.47 569.1 470.53 567 471.5 565.3C472.47 563.6 472.8 561.8 473.8 560.1C474.8 558.4 476.05 556.67 477.5 555.1C478.95 553.53 480.62 551.73 482.5 550.7C484.38 549.67 486.72 549.2 488.8 548.9C490.88 548.6 492.92 549.02 495 548.9C497.08 548.78 499.2 548.62 501.3 548.2C503.4 547.78 505.72 546.75 507.6 546.4C509.48 546.05 511.03 545.8 512.6 546.1C514.17 546.4 515.6 547.05 517 548.2C518.4 549.35 519.75 550.95 521 553C522.25 555.05 523.78 558.33 524.5 560.5C525.22 562.67 525.4 564 525.3 566C525.2 568 524.57 569.95 523.9 572.5C523.23 575.05 522.57 578.17 521.3 581.3C520.03 584.43 518.17 588.17 516.3 591.3C514.43 594.43 512.38 597.38 510.1 600.1C507.82 602.82 505.32 605.3 502.6 607.6C499.88 609.9 496.73 611.92 493.8 613.9C490.87 615.88 487.72 617.83 485 619.5C482.28 621.17 479.58 622.55 477.5 623.9C475.42 625.25 474.97 626.82 472.5 627.6C470.03 628.38 466 628.77 462.7 628.6C459.4 628.43 455.83 627.6 452.7 626.6C449.57 625.6 446.4 623.78 443.9 622.6C441.4 621.42 439.47 620.75 437.7 619.5C435.93 618.25 434.45 616.67 433.3 615.1C432.15 613.53 431.37 611.77 430.8 610.1C430.23 608.43 429.8 606.55 429.9 605.1C430 603.65 430.52 602.45 431.4 601.4C432.28 600.35 433.73 599.85 435.2 598.8C436.67 597.75 438.75 596.55 440.2 595.1C441.65 593.65 442.87 591.98 443.9 590.1C444.93 588.22 445.35 585.68 446.4 583.8C447.45 581.92 448.52 580.27 450.2 578.8C451.88 577.33 454.42 576.05 456.5 575C458.58 573.95 460.78 573.28 462.7 572.5Z" fill="#2f8cc1"/>
<path d="M421 612.5C420.25 610.67 417.92 605.25 416.5 601.5C415.08 597.75 413.42 593.83 412.5 590C411.58 586.17 411 582.17 411 578.5C411 574.83 411.58 571.5 412.5 568C413.42 564.5 415 560.92 416.5 557.5C418 554.08 419.67 550.92 421.5 547.5C423.33 544.08 426.5 538.75 427.5 537" fill="none" stroke="#1a74b0" stroke-width="1" stroke-dasharray="3.2 2.4"/>
<path d="M470 505.6C471.83 505.67 477.58 505.4 481 506C484.42 506.6 487.5 507.83 490.5 509.2C493.5 510.57 496.33 512.3 499 514.2C501.67 516.1 504.17 518.22 506.5 520.6C508.83 522.98 511 525.68 513 528.5C515 531.32 516.75 534.33 518.5 537.5C520.25 540.67 521.92 544.17 523.5 547.5C525.08 550.83 526.5 554.25 528 557.5C529.5 560.75 531.08 563.75 532.5 567C533.92 570.25 535.5 573.5 536.5 577C537.5 580.5 538.33 584.42 538.5 588C538.67 591.58 538.08 595.08 537.5 598.5C536.92 601.92 536 605.33 535 608.5C534 611.67 532.08 616 531.5 617.5" fill="none" stroke="#1a74b0" stroke-width="1" stroke-dasharray="3.2 2.4"/>
<path d="M476.15 629.1L461.43 628.37L452.87 627.27L445.78 625.96L439.55 624.48L433.92 622.87L428.77 621.15L424 619.33L419.57 617.41L415.44 615.42L411.57 613.35L407.96 611.21L404.58 609L401.42 606.74L398.47 604.42L395.73 602.05L393.18 599.64L390.82 597.18L388.65 594.68L386.67 592.15L384.86 589.58L383.24 586.99L381.79 584.37L380.51 581.72L379.4 579.06L378.47 576.37L377.71 573.68L377.12 570.97L376.7 568.25L376.44 565.53L376.36 562.8L376.44 560.07L376.7 557.35L377.12 554.63L377.71 551.92L378.47 549.23L379.4 546.54L380.51 543.88L381.79 541.23L383.24 538.61L384.86 536.02L386.67 533.45L388.65 530.92L390.82 528.42L393.18 525.96L395.73 523.55L398.47 521.18L401.42 518.86L404.58 516.6L407.96 514.39L411.57 512.25L415.44 510.18L419.57 508.19L424 506.27L428.77 504.45L433.92 502.73L439.55 501.12L445.78 499.64L452.87 498.33L461.43 497.23L476.15 496.5M476.15 629.1L464.38 628.37L457.53 627.27L451.85 625.96L446.87 624.48L442.37 622.87L438.24 621.15L434.43 619.33L430.89 617.41L427.58 615.42L424.49 613.35L421.6 611.21L418.89 609L416.37 606.74L414.01 604.42L411.81 602.05L409.77 599.64L407.89 597.18L406.15 594.68L404.56 592.15L403.12 589.58L401.82 586.99L400.66 584.37L399.64 581.72L398.75 579.06L398.01 576.37L397.4 573.68L396.92 570.97L396.59 568.25L396.38 565.53L396.32 562.8L396.38 560.07L396.59 557.35L396.92 554.63L397.4 551.92L398.01 549.23L398.75 546.54L399.64 543.88L400.66 541.23L401.82 538.61L403.12 536.02L404.56 533.45L406.15 530.92L407.89 528.42L409.77 525.96L411.81 523.55L414.01 521.18L416.37 518.86L418.89 516.6L421.6 514.39L424.49 512.25L427.58 510.18L430.89 508.19L434.43 506.27L438.24 504.45L442.37 502.73L446.87 501.12L451.85 499.64L457.53 498.33L464.38 497.23L476.15 496.5M476.15 629.1L467.32 628.37L462.18 627.27L457.93 625.96L454.19 624.48L450.81 622.87L447.72 621.15L444.86 619.33L442.2 617.41L439.72 615.42L437.4 613.35L435.24 611.21L433.21 609L431.31 606.74L429.54 604.42L427.9 602.05L426.37 599.64L424.95 597.18L423.65 594.68L422.46 592.15L421.38 589.58L420.4 586.99L419.53 584.37L418.77 581.72L418.1 579.06L417.54 576.37L417.09 573.68L416.73 570.97L416.48 568.25L416.33 565.53L416.27 562.8L416.33 560.07L416.48 557.35L416.73 554.63L417.09 551.92L417.54 549.23L418.1 546.54L418.77 543.88L419.53 541.23L420.4 538.61L421.38 536.02L422.46 533.45L423.65 530.92L424.95 528.42L426.37 525.96L427.9 523.55L429.54 521.18L431.31 518.86L433.21 516.6L435.24 514.39L437.4 512.25L439.72 510.18L442.2 508.19L444.86 506.27L447.72 504.45L450.81 502.73L454.19 501.12L457.93 499.64L462.18 498.33L467.32 497.23L476.15 496.5M476.15 629.1L470.26 628.37L466.84 627.27L464 625.96L461.51 624.48L459.26 622.87L457.2 621.15L455.29 619.33L453.52 617.41L451.86 615.42L450.32 613.35L448.87 611.21L447.52 609L446.26 606.74L445.08 604.42L443.98 602.05L442.96 599.64L442.02 597.18L441.15 594.68L440.36 592.15L439.64 589.58L438.98 586.99L438.4 584.37L437.89 581.72L437.45 579.06L437.08 576.37L436.77 573.68L436.54 570.97L436.37 568.25L436.27 565.53L436.23 562.8L436.27 560.07L436.37 557.35L436.54 554.63L436.77 551.92L437.08 549.23L437.45 546.54L437.89 543.88L438.4 541.23L438.98 538.61L439.64 536.02L440.36 533.45L441.15 530.92L442.02 528.42L442.96 525.96L443.98 523.55L445.08 521.18L446.26 518.86L447.52 516.6L448.87 514.39L450.32 512.25L451.86 510.18L453.52 508.19L455.29 506.27L457.2 504.45L459.26 502.73L461.51 501.12L464 499.64L466.84 498.33L470.26 497.23L476.15 496.5M476.15 629.1L473.21 628.37L471.49 627.27L470.08 625.96L468.83 624.48L467.7 622.87L466.67 621.15L465.72 619.33L464.83 617.41L464.01 615.42L463.23 613.35L462.51 611.21L461.84 609L461.2 606.74L460.61 604.42L460.07 602.05L459.56 599.64L459.08 597.18L458.65 594.68L458.25 592.15L457.89 589.58L457.57 586.99L457.28 584.37L457.02 581.72L456.8 579.06L456.61 576.37L456.46 573.68L456.34 570.97L456.26 568.25L456.21 565.53L456.19 562.8L456.21 560.07L456.26 557.35L456.34 554.63L456.46 551.92L456.61 549.23L456.8 546.54L457.02 543.88L457.28 541.23L457.57 538.61L457.89 536.02L458.25 533.45L458.65 530.92L459.08 528.42L459.56 525.96L460.07 523.55L460.61 521.18L461.2 518.86L461.84 516.6L462.51 514.39L463.23 512.25L464.01 510.18L464.83 508.19L465.72 506.27L466.67 504.45L467.7 502.73L468.83 501.12L470.08 499.64L471.49 498.33L473.21 497.23L476.15 496.5M476.15 629.1L476.15 496.5M476.15 629.1L479.09 628.37L480.81 627.27L482.22 625.96L483.47 624.48L484.6 622.87L485.63 621.15L486.58 619.33L487.47 617.41L488.29 615.42L489.07 613.35L489.79 611.21L490.46 609L491.1 606.74L491.69 604.42L492.23 602.05L492.74 599.64L493.22 597.18L493.65 594.68L494.05 592.15L494.41 589.58L494.73 586.99L495.02 584.37L495.28 581.72L495.5 579.06L495.69 576.37L495.84 573.68L495.96 570.97L496.04 568.25L496.09 565.53L496.11 562.8L496.09 560.07L496.04 557.35L495.96 554.63L495.84 551.92L495.69 549.23L495.5 546.54L495.28 543.88L495.02 541.23L494.73 538.61L494.41 536.02L494.05 533.45L493.65 530.92L493.22 528.42L492.74 525.96L492.23 523.55L491.69 521.18L491.1 518.86L490.46 516.6L489.79 514.39L489.07 512.25L488.29 510.18L487.47 508.19L486.58 506.27L485.63 504.45L484.6 502.73L483.47 501.12L482.22 499.64L480.81 498.33L479.09 497.23L476.15 496.5M476.15 629.1L482.04 628.37L485.46 627.27L488.3 625.96L490.79 624.48L493.04 622.87L495.1 621.15L497.01 619.33L498.78 617.41L500.44 615.42L501.98 613.35L503.43 611.21L504.78 609L506.04 606.74L507.22 604.42L508.32 602.05L509.34 599.64L510.28 597.18L511.15 594.68L511.94 592.15L512.66 589.58L513.32 586.99L513.9 584.37L514.41 581.72L514.85 579.06L515.22 576.37L515.53 573.68L515.76 570.97L515.93 568.25L516.03 565.53L516.07 562.8L516.03 560.07L515.93 557.35L515.76 554.63L515.53 551.92L515.22 549.23L514.85 546.54L514.41 543.88L513.9 541.23L513.32 538.61L512.66 536.02L511.94 533.45L511.15 530.92L510.28 528.42L509.34 525.96L508.32 523.55L507.22 521.18L506.04 518.86L504.78 516.6L503.43 514.39L501.98 512.25L500.44 510.18L498.78 508.19L497.01 506.27L495.1 504.45L493.04 502.73L490.79 501.12L488.3 499.64L485.46 498.33L482.04 497.23L476.15 496.5M476.15 629.1L484.98 628.37L490.12 627.27L494.37 625.96L498.11 624.48L501.49 622.87L504.58 621.15L507.44 619.33L510.1 617.41L512.58 615.42L514.9 613.35L517.06 611.21L519.09 609L520.99 606.74L522.76 604.42L524.4 602.05L525.93 599.64L527.35 597.18L528.65 594.68L529.84 592.15L530.92 589.58L531.9 586.99L532.77 584.37L533.53 581.72L534.2 579.06L534.76 576.37L535.21 573.68L535.57 570.97L535.82 568.25L535.97 565.53L536.02 562.8L535.97 560.07L535.82 557.35L535.57 554.63L535.21 551.92L534.76 549.23L534.2 546.54L533.53 543.88L532.77 541.23L531.9 538.61L530.92 536.02L529.84 533.45L528.65 530.92L527.35 528.42L525.93 525.96L524.4 523.55L522.76 521.18L520.99 518.86L519.09 516.6L517.06 514.39L514.9 512.25L512.58 510.18L510.1 508.19L507.44 506.27L504.58 504.45L501.49 502.73L498.11 501.12L494.37 499.64L490.12 498.33L484.98 497.23L476.15 496.5M476.15 629.1L487.92 628.37L494.77 627.27L500.45 625.96L505.43 624.48L509.93 622.87L514.06 621.15L517.87 619.33L521.41 617.41L524.72 615.42L527.81 613.35L530.7 611.21L533.41 609L535.93 606.74L538.29 604.42L540.49 602.05L542.53 599.64L544.41 597.18L546.15 594.68L547.74 592.15L549.18 589.58L550.48 586.99L551.64 584.37L552.66 581.72L553.55 579.06L554.29 576.37L554.9 573.68L555.38 570.97L555.71 568.25L555.92 565.53L555.98 562.8L555.92 560.07L555.71 557.35L555.38 554.63L554.9 551.92L554.29 549.23L553.55 546.54L552.66 543.88L551.64 541.23L550.48 538.61L549.18 536.02L547.74 533.45L546.15 530.92L544.41 528.42L542.53 525.96L540.49 523.55L538.29 521.18L535.93 518.86L533.41 516.6L530.7 514.39L527.81 512.25L524.72 510.18L521.41 508.19L517.87 506.27L514.06 504.45L509.93 502.73L505.43 501.12L500.45 499.64L494.77 498.33L487.92 497.23L476.15 496.5M476.15 629.1L490.87 628.37L499.43 627.27L506.52 625.96L512.75 624.48L518.38 622.87L523.53 621.15L528.3 619.33L532.73 617.41L536.86 615.42L540.73 613.35L544.34 611.21L547.72 609L550.88 606.74L553.83 604.42L556.57 602.05L559.12 599.64L561.48 597.18L563.65 594.68L565.63 592.15L567.44 589.58L569.06 586.99L570.51 584.37L571.79 581.72L572.9 579.06L573.83 576.37L574.59 573.68L575.18 570.97L575.6 568.25L575.86 565.53L575.94 562.8L575.86 560.07L575.6 557.35L575.18 554.63L574.59 551.92L573.83 549.23L572.9 546.54L571.79 543.88L570.51 541.23L569.06 538.61L567.44 536.02L565.63 533.45L563.65 530.92L561.48 528.42L559.12 525.96L556.57 523.55L553.83 521.18L550.88 518.86L547.72 516.6L544.34 514.39L540.73 512.25L536.86 510.18L532.73 508.19L528.3 506.27L523.53 504.45L518.38 502.73L512.75 501.12L506.52 499.64L499.43 498.33L490.87 497.23L476.15 496.5M356.4 562.8L595.9 562.8M360.45 579.91L591.85 579.91M360.45 545.69L591.85 545.69M372.24 595.75L580.06 595.75M372.24 529.85L580.06 529.85M390.87 609.34L561.43 609.34M390.87 516.26L561.43 516.26M415.65 620.02L536.65 620.02M415.65 505.58L536.65 505.58" fill="none" stroke="#687888" stroke-opacity="0.3" stroke-width="0.9"/>
</g>
<ellipse cx="476.15" cy="562.8" rx="119.75" ry="66.3" fill="none" stroke="#000" stroke-width="1"/>
<g class="tk">
<text x="394.09" y="504.1" textLength="25.19" lengthAdjust="spacingAndGlyphs">75°</text>
<text x="351.37" y="520.6" textLength="25.69" lengthAdjust="spacingAndGlyphs">45°</text>
<text x="329.04" y="550.8" textLength="26.23" lengthAdjust="spacingAndGlyphs">15°</text>
<text x="324.31" y="585.1" textLength="30.88" lengthAdjust="spacingAndGlyphs">-15°</text>
<text x="345.51" y="615.4" textLength="31.51" lengthAdjust="spacingAndGlyphs">-45°</text>
<text x="387.74" y="632.6" textLength="31.51" lengthAdjust="spacingAndGlyphs">-75°</text>
<text x="357.39" y="569.1" textLength="39.57" lengthAdjust="spacingAndGlyphs">-150°</text>
<text x="401.96" y="569.1" textLength="30.25" lengthAdjust="spacingAndGlyphs">-90°</text>
<text x="441.83" y="569.1" textLength="30.35" lengthAdjust="spacingAndGlyphs">-30°</text>
<text x="483.92" y="569.1" textLength="25.97" lengthAdjust="spacingAndGlyphs">30°</text>
<text x="524.18" y="569.1" textLength="25.45" lengthAdjust="spacingAndGlyphs">90°</text>
<text x="559.3" y="569.1" textLength="34.13" lengthAdjust="spacingAndGlyphs">150°</text>
</g>
<text x="428.93" y="485.3" font-size="26.8" textLength="31.38" lengthAdjust="spacingAndGlyphs" stroke="#000" stroke-width="0.35">10</text>
<text x="459.86" y="476" font-size="19" textLength="10.75" lengthAdjust="spacingAndGlyphs" stroke="#000" stroke-width="0.3">5</text>
<text x="472.1" y="485.3" font-size="27.6" font-style="italic" textLength="29.02" lengthAdjust="spacingAndGlyphs">M</text>
<text class="sun" x="500.35" y="491.5" font-size="19">⊙</text>
<g clip-path="url(#e22)">
<ellipse cx="772.5" cy="562.8" rx="115" ry="66.3" fill="#044e7c"/>
<path d="M789 513.2C789.38 512.92 790.25 512.93 791.3 513.8C792.35 514.67 794.25 516.87 795.3 518.4C796.35 519.93 797.12 521.47 797.6 523C798.08 524.53 798.48 526.93 798.2 527.6C797.92 528.27 796.87 527.67 795.9 527C794.93 526.33 793.37 524.85 792.4 523.6C791.43 522.35 790.67 520.85 790.1 519.5C789.53 518.15 789.18 516.55 789 515.5C788.82 514.45 788.62 513.48 789 513.2Z" fill="#0a70b2"/>
<path d="M805.1 562.6L809.7 555.7L810.3 557.5L809.2 562.6L805.1 562.6Z" fill="#0a70b2"/>
<path d="M772.5 629.1L758.37 628.37L750.14 627.27L743.34 625.96L737.35 624.48L731.95 622.87L727 621.15L722.42 619.33L718.16 617.41L714.19 615.42L710.48 613.35L707.01 611.21L703.77 609L700.73 606.74L697.9 604.42L695.27 602.05L692.82 599.64L690.56 597.18L688.47 594.68L686.57 592.15L684.83 589.58L683.27 586.99L681.88 584.37L680.65 581.72L679.59 579.06L678.7 576.37L677.96 573.68L677.4 570.97L676.99 568.25L676.75 565.53L676.67 562.8L676.75 560.07L676.99 557.35L677.4 554.63L677.96 551.92L678.7 549.23L679.59 546.54L680.65 543.88L681.88 541.23L683.27 538.61L684.83 536.02L686.57 533.45L688.47 530.92L690.56 528.42L692.82 525.96L695.27 523.55L697.9 521.18L700.73 518.86L703.77 516.6L707.01 514.39L710.48 512.25L714.19 510.18L718.16 508.19L722.42 506.27L727 504.45L731.95 502.73L737.35 501.12L743.34 499.64L750.14 498.33L758.37 497.23L772.5 496.5M772.5 629.1L761.19 628.37L754.62 627.27L749.17 625.96L744.38 624.48L740.06 622.87L736.1 621.15L732.44 619.33L729.03 617.41L725.86 615.42L722.89 613.35L720.11 611.21L717.51 609L715.09 606.74L712.82 604.42L710.71 602.05L708.76 599.64L706.95 597.18L705.28 594.68L703.75 592.15L702.37 589.58L701.12 586.99L700 584.37L699.02 581.72L698.17 579.06L697.46 576.37L696.87 573.68L696.42 570.97L696.09 568.25L695.9 565.53L695.83 562.8L695.9 560.07L696.09 557.35L696.42 554.63L696.87 551.92L697.46 549.23L698.17 546.54L699.02 543.88L700 541.23L701.12 538.61L702.37 536.02L703.75 533.45L705.28 530.92L706.95 528.42L708.76 525.96L710.71 523.55L712.82 521.18L715.09 518.86L717.51 516.6L720.11 514.39L722.89 512.25L725.86 510.18L729.03 508.19L732.44 506.27L736.1 504.45L740.06 502.73L744.38 501.12L749.17 499.64L754.62 498.33L761.19 497.23L772.5 496.5M772.5 629.1L764.02 628.37L759.09 627.27L755 625.96L751.41 624.48L748.17 622.87L745.2 621.15L742.45 619.33L739.9 617.41L737.52 615.42L735.29 613.35L733.21 611.21L731.26 609L729.44 606.74L727.74 604.42L726.16 602.05L724.69 599.64L723.33 597.18L722.08 594.68L720.94 592.15L719.9 589.58L718.96 586.99L718.13 584.37L717.39 581.72L716.76 579.06L716.22 576.37L715.78 573.68L715.44 570.97L715.19 568.25L715.05 565.53L715 562.8L715.05 560.07L715.19 557.35L715.44 554.63L715.78 551.92L716.22 549.23L716.76 546.54L717.39 543.88L718.13 541.23L718.96 538.61L719.9 536.02L720.94 533.45L722.08 530.92L723.33 528.42L724.69 525.96L726.16 523.55L727.74 521.18L729.44 518.86L731.26 516.6L733.21 514.39L735.29 512.25L737.52 510.18L739.9 508.19L742.45 506.27L745.2 504.45L748.17 502.73L751.41 501.12L755 499.64L759.09 498.33L764.02 497.23L772.5 496.5M772.5 629.1L766.85 628.37L763.56 627.27L760.83 625.96L758.44 624.48L756.28 622.87L754.3 621.15L752.47 619.33L750.77 617.41L749.18 615.42L747.69 613.35L746.31 611.21L745.01 609L743.79 606.74L742.66 604.42L741.61 602.05L740.63 599.64L739.72 597.18L738.89 594.68L738.13 592.15L737.43 589.58L736.81 586.99L736.25 584.37L735.76 581.72L735.34 579.06L734.98 576.37L734.69 573.68L734.46 570.97L734.3 568.25L734.2 565.53L734.17 562.8L734.2 560.07L734.3 557.35L734.46 554.63L734.69 551.92L734.98 549.23L735.34 546.54L735.76 543.88L736.25 541.23L736.81 538.61L737.43 536.02L738.13 533.45L738.89 530.92L739.72 528.42L740.63 525.96L741.61 523.55L742.66 521.18L743.79 518.86L745.01 516.6L746.31 514.39L747.69 512.25L749.18 510.18L750.77 508.19L752.47 506.27L754.3 504.45L756.28 502.73L758.44 501.12L760.83 499.64L763.56 498.33L766.85 497.23L772.5 496.5M772.5 629.1L769.67 628.37L768.03 627.27L766.67 625.96L765.47 624.48L764.39 622.87L763.4 621.15L762.48 619.33L761.63 617.41L760.84 615.42L760.1 613.35L759.4 611.21L758.75 609L758.15 606.74L757.58 604.42L757.05 602.05L756.56 599.64L756.11 597.18L755.69 594.68L755.31 592.15L754.97 589.58L754.65 586.99L754.38 584.37L754.13 581.72L753.92 579.06L753.74 576.37L753.59 573.68L753.48 570.97L753.4 568.25L753.35 565.53L753.33 562.8L753.35 560.07L753.4 557.35L753.48 554.63L753.59 551.92L753.74 549.23L753.92 546.54L754.13 543.88L754.38 541.23L754.65 538.61L754.97 536.02L755.31 533.45L755.69 530.92L756.11 528.42L756.56 525.96L757.05 523.55L757.58 521.18L758.15 518.86L758.75 516.6L759.4 514.39L760.1 512.25L760.84 510.18L761.63 508.19L762.48 506.27L763.4 504.45L764.39 502.73L765.47 501.12L766.67 499.64L768.03 498.33L769.67 497.23L772.5 496.5M772.5 629.1L772.5 496.5M772.5 629.1L775.33 628.37L776.97 627.27L778.33 625.96L779.53 624.48L780.61 622.87L781.6 621.15L782.52 619.33L783.37 617.41L784.16 615.42L784.9 613.35L785.6 611.21L786.25 609L786.85 606.74L787.42 604.42L787.95 602.05L788.44 599.64L788.89 597.18L789.31 594.68L789.69 592.15L790.03 589.58L790.35 586.99L790.62 584.37L790.87 581.72L791.08 579.06L791.26 576.37L791.41 573.68L791.52 570.97L791.6 568.25L791.65 565.53L791.67 562.8L791.65 560.07L791.6 557.35L791.52 554.63L791.41 551.92L791.26 549.23L791.08 546.54L790.87 543.88L790.62 541.23L790.35 538.61L790.03 536.02L789.69 533.45L789.31 530.92L788.89 528.42L788.44 525.96L787.95 523.55L787.42 521.18L786.85 518.86L786.25 516.6L785.6 514.39L784.9 512.25L784.16 510.18L783.37 508.19L782.52 506.27L781.6 504.45L780.61 502.73L779.53 501.12L778.33 499.64L776.97 498.33L775.33 497.23L772.5 496.5M772.5 629.1L778.15 628.37L781.44 627.27L784.17 625.96L786.56 624.48L788.72 622.87L790.7 621.15L792.53 619.33L794.23 617.41L795.82 615.42L797.31 613.35L798.69 611.21L799.99 609L801.21 606.74L802.34 604.42L803.39 602.05L804.37 599.64L805.28 597.18L806.11 594.68L806.87 592.15L807.57 589.58L808.19 586.99L808.75 584.37L809.24 581.72L809.66 579.06L810.02 576.37L810.31 573.68L810.54 570.97L810.7 568.25L810.8 565.53L810.83 562.8L810.8 560.07L810.7 557.35L810.54 554.63L810.31 551.92L810.02 549.23L809.66 546.54L809.24 543.88L808.75 541.23L808.19 538.61L807.57 536.02L806.87 533.45L806.11 530.92L805.28 528.42L804.37 525.96L803.39 523.55L802.34 521.18L801.21 518.86L799.99 516.6L798.69 514.39L797.31 512.25L795.82 510.18L794.23 508.19L792.53 506.27L790.7 504.45L788.72 502.73L786.56 501.12L784.17 499.64L781.44 498.33L778.15 497.23L772.5 496.5M772.5 629.1L780.98 628.37L785.91 627.27L790 625.96L793.59 624.48L796.83 622.87L799.8 621.15L802.55 619.33L805.1 617.41L807.48 615.42L809.71 613.35L811.79 611.21L813.74 609L815.56 606.74L817.26 604.42L818.84 602.05L820.31 599.64L821.67 597.18L822.92 594.68L824.06 592.15L825.1 589.58L826.04 586.99L826.87 584.37L827.61 581.72L828.24 579.06L828.78 576.37L829.22 573.68L829.56 570.97L829.81 568.25L829.95 565.53L830 562.8L829.95 560.07L829.81 557.35L829.56 554.63L829.22 551.92L828.78 549.23L828.24 546.54L827.61 543.88L826.87 541.23L826.04 538.61L825.1 536.02L824.06 533.45L822.92 530.92L821.67 528.42L820.31 525.96L818.84 523.55L817.26 521.18L815.56 518.86L813.74 516.6L811.79 514.39L809.71 512.25L807.48 510.18L805.1 508.19L802.55 506.27L799.8 504.45L796.83 502.73L793.59 501.12L790 499.64L785.91 498.33L780.98 497.23L772.5 496.5M772.5 629.1L783.81 628.37L790.38 627.27L795.83 625.96L800.62 624.48L804.94 622.87L808.9 621.15L812.56 619.33L815.97 617.41L819.14 615.42L822.11 613.35L824.89 611.21L827.49 609L829.91 606.74L832.18 604.42L834.29 602.05L836.24 599.64L838.05 597.18L839.72 594.68L841.25 592.15L842.63 589.58L843.88 586.99L845 584.37L845.98 581.72L846.83 579.06L847.54 576.37L848.13 573.68L848.58 570.97L848.91 568.25L849.1 565.53L849.17 562.8L849.1 560.07L848.91 557.35L848.58 554.63L848.13 551.92L847.54 549.23L846.83 546.54L845.98 543.88L845 541.23L843.88 538.61L842.63 536.02L841.25 533.45L839.72 530.92L838.05 528.42L836.24 525.96L834.29 523.55L832.18 521.18L829.91 518.86L827.49 516.6L824.89 514.39L822.11 512.25L819.14 510.18L815.97 508.19L812.56 506.27L808.9 504.45L804.94 502.73L800.62 501.12L795.83 499.64L790.38 498.33L783.81 497.23L772.5 496.5M772.5 629.1L786.63 628.37L794.86 627.27L801.66 625.96L807.65 624.48L813.05 622.87L818 621.15L822.58 619.33L826.84 617.41L830.81 615.42L834.52 613.35L837.99 611.21L841.23 609L844.27 606.74L847.1 604.42L849.73 602.05L852.18 599.64L854.44 597.18L856.53 594.68L858.43 592.15L860.17 589.58L861.73 586.99L863.12 584.37L864.35 581.72L865.41 579.06L866.3 576.37L867.04 573.68L867.6 570.97L868.01 568.25L868.25 565.53L868.33 562.8L868.25 560.07L868.01 557.35L867.6 554.63L867.04 551.92L866.3 549.23L865.41 546.54L864.35 543.88L863.12 541.23L861.73 538.61L860.17 536.02L858.43 533.45L856.53 530.92L854.44 528.42L852.18 525.96L849.73 523.55L847.1 521.18L844.27 518.86L841.23 516.6L837.99 514.39L834.52 512.25L830.81 510.18L826.84 508.19L822.58 506.27L818 504.45L813.05 502.73L807.65 501.12L801.66 499.64L794.86 498.33L786.63 497.23L772.5 496.5M657.5 562.8L887.5 562.8M661.39 579.91L883.61 579.91M661.39 545.69L883.61 545.69M672.71 595.75L872.29 595.75M672.71 529.85L872.29 529.85M690.6 609.34L854.4 609.34M690.6 516.26L854.4 516.26M714.4 620.02L830.6 620.02M714.4 505.58L830.6 505.58" fill="none" stroke="#8fb4cc" stroke-opacity="0.3" stroke-width="0.9"/>
</g>
<ellipse cx="772.5" cy="562.8" rx="115" ry="66.3" fill="none" stroke="#000" stroke-width="1"/>
<g class="tk">
<text x="692.45" y="504.1" textLength="25.19" lengthAdjust="spacingAndGlyphs">75°</text>
<text x="651.55" y="520.6" textLength="25.69" lengthAdjust="spacingAndGlyphs">45°</text>
<text x="630.04" y="550.8" textLength="26.23" lengthAdjust="spacingAndGlyphs">15°</text>
<text x="625.31" y="585.1" textLength="30.88" lengthAdjust="spacingAndGlyphs">-15°</text>
<text x="645.68" y="615.4" textLength="31.51" lengthAdjust="spacingAndGlyphs">-45°</text>
<text x="686.1" y="632.6" textLength="31.51" lengthAdjust="spacingAndGlyphs">-75°</text>
<text x="657.7" y="569.1" textLength="39.57" lengthAdjust="spacingAndGlyphs">-150°</text>
<text x="700.69" y="569.1" textLength="30.25" lengthAdjust="spacingAndGlyphs">-90°</text>
<text x="738.97" y="569.1" textLength="30.35" lengthAdjust="spacingAndGlyphs">-30°</text>
<text x="779.47" y="569.1" textLength="25.97" lengthAdjust="spacingAndGlyphs">30°</text>
<text x="818.15" y="569.1" textLength="25.45" lengthAdjust="spacingAndGlyphs">90°</text>
<text x="851.7" y="569.1" textLength="34.13" lengthAdjust="spacingAndGlyphs">150°</text>
</g>
<text x="725.28" y="485.3" font-size="26.8" textLength="31.38" lengthAdjust="spacingAndGlyphs" stroke="#000" stroke-width="0.35">10</text>
<text x="756.21" y="476" font-size="19" textLength="10.75" lengthAdjust="spacingAndGlyphs" stroke="#000" stroke-width="0.3">5</text>
<text x="768.45" y="485.3" font-size="27.6" font-style="italic" textLength="29.02" lengthAdjust="spacingAndGlyphs">M</text>
<text class="sun" x="796.7" y="491.5" font-size="19">⊙</text>
<text x="61.5" y="45.6" font-size="30" font-weight="bold">a</text>
<text x="362.95" y="45.6" font-size="30" font-weight="bold">b</text>
<text x="663.45" y="45.6" font-size="30" font-weight="bold">c</text>
<text class="cjk" x="175.1" y="669.7" font-size="30.6" font-weight="500" text-anchor="middle">天琴</text>
<text class="cjk" x="476.15" y="669.7" font-size="30.6" font-weight="500" text-anchor="middle">太极</text>
<text class="cjk" x="772.5" y="669.7" font-size="30.6" font-weight="500" text-anchor="middle">天琴<tspan font-size="25" font-weight="bold" dy="-4.4">–</tspan><tspan dy="4.4">太极</tspan></text>
<rect x="907.9" y="32.5" width="9.3" height="44.75" fill="#f3f1f7"/>
<rect x="907.9" y="76.95" width="9.3" height="44.75" fill="#cbcce4"/>
<rect x="907.9" y="121.4" width="9.3" height="44.75" fill="#9c9ac9"/>
<rect x="907.9" y="165.85" width="9.3" height="44.75" fill="#7a57a8"/>
<rect x="907.9" y="32.5" width="9.3" height="177.8" fill="none" stroke="#4a4a4a" stroke-width="0.8"/>
<path d="M917.2 32.5h2.2" stroke="#000" stroke-width="0.9"/>
<text x="920.84" y="40.5" font-size="15.8" font-weight="bold" textLength="9.53" lengthAdjust="spacingAndGlyphs">3</text>
<text x="934.98" y="41.1" font-size="17.5" textLength="13.51" lengthAdjust="spacingAndGlyphs">×</text>
<text x="953.82" y="40.5" font-size="15.8" textLength="18.62" lengthAdjust="spacingAndGlyphs" stroke="#000" stroke-width="0.15">10</text>
<text x="973.45" y="34.8" font-size="11.4" textLength="6.12" lengthAdjust="spacingAndGlyphs" stroke="#000" stroke-width="0.2">2</text>
<path d="M917.2 76.95h2.2" stroke="#000" stroke-width="0.9"/>
<text x="920.84" y="84.95" font-size="15.8" font-weight="bold" textLength="9.53" lengthAdjust="spacingAndGlyphs">3</text>
<text x="934.98" y="85.55" font-size="17.5" textLength="13.51" lengthAdjust="spacingAndGlyphs">×</text>
<text x="953.82" y="84.95" font-size="15.8" textLength="18.62" lengthAdjust="spacingAndGlyphs" stroke="#000" stroke-width="0.15">10</text>
<text x="972.74" y="79.25" font-size="11.4" textLength="7" lengthAdjust="spacingAndGlyphs" stroke="#000" stroke-width="0.2">1</text>
<path d="M917.2 121.4h2.2" stroke="#000" stroke-width="0.9"/>
<text x="920.84" y="129.4" font-size="15.8" font-weight="bold" textLength="9.53" lengthAdjust="spacingAndGlyphs">3</text>
<text x="934.98" y="130" font-size="17.5" textLength="13.51" lengthAdjust="spacingAndGlyphs">×</text>
<text x="953.82" y="129.4" font-size="15.8" textLength="18.62" lengthAdjust="spacingAndGlyphs" stroke="#000" stroke-width="0.15">10</text>
<text x="973.53" y="123.7" font-size="11.4" textLength="5.83" lengthAdjust="spacingAndGlyphs" stroke="#000" stroke-width="0.2">0</text>
<path d="M917.2 165.85h2.2" stroke="#000" stroke-width="0.9"/>
<text x="920.84" y="173.85" font-size="15.8" font-weight="bold" textLength="9.53" lengthAdjust="spacingAndGlyphs">3</text>
<text x="934.98" y="174.45" font-size="17.5" textLength="13.51" lengthAdjust="spacingAndGlyphs">×</text>
<text x="953.82" y="173.85" font-size="15.8" textLength="18.62" lengthAdjust="spacingAndGlyphs" stroke="#000" stroke-width="0.15">10</text>
<text x="975.42" y="168.15" font-size="11.4" textLength="6.55" lengthAdjust="spacingAndGlyphs" fill="#666">−</text>
<text x="982.74" y="168.15" font-size="11.4" textLength="7" lengthAdjust="spacingAndGlyphs" stroke="#000" stroke-width="0.2">1</text>
<path d="M917.2 210.3h2.2" stroke="#000" stroke-width="0.9"/>
<text x="920.84" y="218.3" font-size="15.8" font-weight="bold" textLength="9.53" lengthAdjust="spacingAndGlyphs">3</text>
<text x="934.98" y="218.9" font-size="17.5" textLength="13.51" lengthAdjust="spacingAndGlyphs">×</text>
<text x="953.82" y="218.3" font-size="15.8" textLength="18.62" lengthAdjust="spacingAndGlyphs" stroke="#000" stroke-width="0.15">10</text>
<text x="975.42" y="212.6" font-size="11.4" textLength="6.55" lengthAdjust="spacingAndGlyphs" fill="#666">−</text>
<text x="983.45" y="212.6" font-size="11.4" textLength="6.12" lengthAdjust="spacingAndGlyphs" stroke="#000" stroke-width="0.2">2</text>
<text transform="translate(1005.8 20.2) rotate(90) scale(1 1.07)" font-size="18.4" font-weight="bold" textLength="202.4" lengthAdjust="spacingAndGlyphs">Angular Resolution (deg<tspan font-size="14" dy="-7.6">2</tspan><tspan dy="7.6">)</tspan></text>
<rect x="907.9" y="253.1" width="9.3" height="29.9" fill="#feefde"/>
<rect x="907.9" y="282.7" width="9.3" height="29.9" fill="#fddab6"/>
<rect x="907.9" y="312.3" width="9.3" height="29.9" fill="#fdb885"/>
<rect x="907.9" y="341.9" width="9.3" height="29.9" fill="#f79653"/>
<rect x="907.9" y="371.5" width="9.3" height="29.9" fill="#e5763e"/>
<rect x="907.9" y="401.1" width="9.3" height="29.9" fill="#b6653e"/>
<rect x="907.9" y="253.1" width="9.3" height="177.6" fill="none" stroke="#4a4a4a" stroke-width="0.8"/>
<path d="M917.2 253.1h2.2" stroke="#000" stroke-width="0.9"/>
<text x="920.84" y="261.1" font-size="15.8" font-weight="bold" textLength="9.53" lengthAdjust="spacingAndGlyphs">3</text>
<text x="934.98" y="261.7" font-size="17.5" textLength="13.51" lengthAdjust="spacingAndGlyphs">×</text>
<text x="953.82" y="261.1" font-size="15.8" textLength="18.62" lengthAdjust="spacingAndGlyphs" stroke="#000" stroke-width="0.15">10</text>
<text x="973.4" y="255.4" font-size="11.4" textLength="5.98" lengthAdjust="spacingAndGlyphs" stroke="#000" stroke-width="0.2">3</text>
<path d="M917.2 282.7h2.2" stroke="#000" stroke-width="0.9"/>
<text x="920.84" y="290.7" font-size="15.8" font-weight="bold" textLength="9.53" lengthAdjust="spacingAndGlyphs">3</text>
<text x="934.98" y="291.3" font-size="17.5" textLength="13.51" lengthAdjust="spacingAndGlyphs">×</text>
<text x="953.82" y="290.7" font-size="15.8" textLength="18.62" lengthAdjust="spacingAndGlyphs" stroke="#000" stroke-width="0.15">10</text>
<text x="973.45" y="285" font-size="11.4" textLength="6.12" lengthAdjust="spacingAndGlyphs" stroke="#000" stroke-width="0.2">2</text>
<path d="M917.2 312.3h2.2" stroke="#000" stroke-width="0.9"/>
<text x="920.84" y="320.3" font-size="15.8" font-weight="bold" textLength="9.53" lengthAdjust="spacingAndGlyphs">3</text>
<text x="934.98" y="320.9" font-size="17.5" textLength="13.51" lengthAdjust="spacingAndGlyphs">×</text>
<text x="953.82" y="320.3" font-size="15.8" textLength="18.62" lengthAdjust="spacingAndGlyphs" stroke="#000" stroke-width="0.15">10</text>
<text x="972.74" y="314.6" font-size="11.4" textLength="7" lengthAdjust="spacingAndGlyphs" stroke="#000" stroke-width="0.2">1</text>
<path d="M917.2 341.9h2.2" stroke="#000" stroke-width="0.9"/>
<text x="920.84" y="349.9" font-size="15.8" font-weight="bold" textLength="9.53" lengthAdjust="spacingAndGlyphs">3</text>
<text x="934.98" y="350.5" font-size="17.5" textLength="13.51" lengthAdjust="spacingAndGlyphs">×</text>
<text x="953.82" y="349.9" font-size="15.8" textLength="18.62" lengthAdjust="spacingAndGlyphs" stroke="#000" stroke-width="0.15">10</text>
<text x="973.53" y="344.2" font-size="11.4" textLength="5.83" lengthAdjust="spacingAndGlyphs" stroke="#000" stroke-width="0.2">0</text>
<path d="M917.2 371.5h2.2" stroke="#000" stroke-width="0.9"/>
<text x="920.84" y="379.5" font-size="15.8" font-weight="bold" textLength="9.53" lengthAdjust="spacingAndGlyphs">3</text>
<text x="934.98" y="380.1" font-size="17.5" textLength="13.51" lengthAdjust="spacingAndGlyphs">×</text>
<text x="953.82" y="379.5" font-size="15.8" textLength="18.62" lengthAdjust="spacingAndGlyphs" stroke="#000" stroke-width="0.15">10</text>
<text x="975.42" y="373.8" font-size="11.4" textLength="6.55" lengthAdjust="spacingAndGlyphs" fill="#666">−</text>
<text x="982.74" y="373.8" font-size="11.4" textLength="7" lengthAdjust="spacingAndGlyphs" stroke="#000" stroke-width="0.2">1</text>
<path d="M917.2 401.1h2.2" stroke="#000" stroke-width="0.9"/>
<text x="920.84" y="409.1" font-size="15.8" font-weight="bold" textLength="9.53" lengthAdjust="spacingAndGlyphs">3</text>
<text x="934.98" y="409.7" font-size="17.5" textLength="13.51" lengthAdjust="spacingAndGlyphs">×</text>
<text x="953.82" y="409.1" font-size="15.8" textLength="18.62" lengthAdjust="spacingAndGlyphs" stroke="#000" stroke-width="0.15">10</text>
<text x="975.42" y="403.4" font-size="11.4" textLength="6.55" lengthAdjust="spacingAndGlyphs" fill="#666">−</text>
<text x="983.45" y="403.4" font-size="11.4" textLength="6.12" lengthAdjust="spacingAndGlyphs" stroke="#000" stroke-width="0.2">2</text>
<path d="M917.2 430.7h2.2" stroke="#000" stroke-width="0.9"/>
<text x="920.84" y="438.7" font-size="15.8" font-weight="bold" textLength="9.53" lengthAdjust="spacingAndGlyphs">3</text>
<text x="934.98" y="439.3" font-size="17.5" textLength="13.51" lengthAdjust="spacingAndGlyphs">×</text>
<text x="953.82" y="438.7" font-size="15.8" textLength="18.62" lengthAdjust="spacingAndGlyphs" stroke="#000" stroke-width="0.15">10</text>
<text x="975.42" y="433" font-size="11.4" textLength="6.55" lengthAdjust="spacingAndGlyphs" fill="#666">−</text>
<text x="983.4" y="433" font-size="11.4" textLength="5.98" lengthAdjust="spacingAndGlyphs" stroke="#000" stroke-width="0.2">3</text>
<text transform="translate(1005.8 240.95) rotate(90) scale(1 1.07)" font-size="18.4" font-weight="bold" textLength="202.4" lengthAdjust="spacingAndGlyphs">Angular Resolution (deg<tspan font-size="14" dy="-7.6">2</tspan><tspan dy="7.6">)</tspan></text>
<rect x="907.9" y="473.7" width="9.3" height="25.67" fill="#f2eff6"/>
<rect x="907.9" y="499.07" width="9.3" height="25.67" fill="#e1e0ee"/>
<rect x="907.9" y="524.44" width="9.3" height="25.67" fill="#becee4"/>
<rect x="907.9" y="549.81" width="9.3" height="25.67" fill="#96bedf"/>
<rect x="907.9" y="575.19" width="9.3" height="25.67" fill="#5da5cf"/>
<rect x="907.9" y="600.56" width="9.3" height="25.67" fill="#3c8bba"/>
<rect x="907.9" y="625.93" width="9.3" height="25.67" fill="#3b7599"/>
<rect x="907.9" y="473.7" width="9.3" height="177.6" fill="none" stroke="#4a4a4a" stroke-width="0.8"/>
<path d="M917.2 473.7h2.2" stroke="#000" stroke-width="0.9"/>
<text x="920.84" y="481.7" font-size="15.8" font-weight="bold" textLength="9.53" lengthAdjust="spacingAndGlyphs">3</text>
<text x="934.98" y="482.3" font-size="17.5" textLength="13.51" lengthAdjust="spacingAndGlyphs">×</text>
<text x="953.82" y="481.7" font-size="15.8" textLength="18.62" lengthAdjust="spacingAndGlyphs" stroke="#000" stroke-width="0.15">10</text>
<text x="973.4" y="476" font-size="11.4" textLength="5.98" lengthAdjust="spacingAndGlyphs" stroke="#000" stroke-width="0.2">3</text>
<path d="M917.2 499.07h2.2" stroke="#000" stroke-width="0.9"/>
<text x="920.84" y="507.07" font-size="15.8" font-weight="bold" textLength="9.53" lengthAdjust="spacingAndGlyphs">3</text>
<text x="934.98" y="507.67" font-size="17.5" textLength="13.51" lengthAdjust="spacingAndGlyphs">×</text>
<text x="953.82" y="507.07" font-size="15.8" textLength="18.62" lengthAdjust="spacingAndGlyphs" stroke="#000" stroke-width="0.15">10</text>
<text x="973.45" y="501.37" font-size="11.4" textLength="6.12" lengthAdjust="spacingAndGlyphs" stroke="#000" stroke-width="0.2">2</text>
<path d="M917.2 524.44h2.2" stroke="#000" stroke-width="0.9"/>
<text x="920.84" y="532.44" font-size="15.8" font-weight="bold" textLength="9.53" lengthAdjust="spacingAndGlyphs">3</text>
<text x="934.98" y="533.04" font-size="17.5" textLength="13.51" lengthAdjust="spacingAndGlyphs">×</text>
<text x="953.82" y="532.44" font-size="15.8" textLength="18.62" lengthAdjust="spacingAndGlyphs" stroke="#000" stroke-width="0.15">10</text>
<text x="972.74" y="526.74" font-size="11.4" textLength="7" lengthAdjust="spacingAndGlyphs" stroke="#000" stroke-width="0.2">1</text>
<path d="M917.2 549.81h2.2" stroke="#000" stroke-width="0.9"/>
<text x="920.84" y="557.81" font-size="15.8" font-weight="bold" textLength="9.53" lengthAdjust="spacingAndGlyphs">3</text>
<text x="934.98" y="558.41" font-size="17.5" textLength="13.51" lengthAdjust="spacingAndGlyphs">×</text>
<text x="953.82" y="557.81" font-size="15.8" textLength="18.62" lengthAdjust="spacingAndGlyphs" stroke="#000" stroke-width="0.15">10</text>
<text x="973.53" y="552.11" font-size="11.4" textLength="5.83" lengthAdjust="spacingAndGlyphs" stroke="#000" stroke-width="0.2">0</text>
<path d="M917.2 575.19h2.2" stroke="#000" stroke-width="0.9"/>
<text x="920.84" y="583.19" font-size="15.8" font-weight="bold" textLength="9.53" lengthAdjust="spacingAndGlyphs">3</text>
<text x="934.98" y="583.79" font-size="17.5" textLength="13.51" lengthAdjust="spacingAndGlyphs">×</text>
<text x="953.82" y="583.19" font-size="15.8" textLength="18.62" lengthAdjust="spacingAndGlyphs" stroke="#000" stroke-width="0.15">10</text>
<text x="975.42" y="577.49" font-size="11.4" textLength="6.55" lengthAdjust="spacingAndGlyphs" fill="#666">−</text>
<text x="982.74" y="577.49" font-size="11.4" textLength="7" lengthAdjust="spacingAndGlyphs" stroke="#000" stroke-width="0.2">1</text>
<path d="M917.2 600.56h2.2" stroke="#000" stroke-width="0.9"/>
<text x="920.84" y="608.56" font-size="15.8" font-weight="bold" textLength="9.53" lengthAdjust="spacingAndGlyphs">3</text>
<text x="934.98" y="609.16" font-size="17.5" textLength="13.51" lengthAdjust="spacingAndGlyphs">×</text>
<text x="953.82" y="608.56" font-size="15.8" textLength="18.62" lengthAdjust="spacingAndGlyphs" stroke="#000" stroke-width="0.15">10</text>
<text x="975.42" y="602.86" font-size="11.4" textLength="6.55" lengthAdjust="spacingAndGlyphs" fill="#666">−</text>
<text x="983.45" y="602.86" font-size="11.4" textLength="6.12" lengthAdjust="spacingAndGlyphs" stroke="#000" stroke-width="0.2">2</text>
<path d="M917.2 625.93h2.2" stroke="#000" stroke-width="0.9"/>
<text x="920.84" y="633.93" font-size="15.8" font-weight="bold" textLength="9.53" lengthAdjust="spacingAndGlyphs">3</text>
<text x="934.98" y="634.53" font-size="17.5" textLength="13.51" lengthAdjust="spacingAndGlyphs">×</text>
<text x="953.82" y="633.93" font-size="15.8" textLength="18.62" lengthAdjust="spacingAndGlyphs" stroke="#000" stroke-width="0.15">10</text>
<text x="975.42" y="628.23" font-size="11.4" textLength="6.55" lengthAdjust="spacingAndGlyphs" fill="#666">−</text>
<text x="983.4" y="628.23" font-size="11.4" textLength="5.98" lengthAdjust="spacingAndGlyphs" stroke="#000" stroke-width="0.2">3</text>
<path d="M917.2 651.3h2.2" stroke="#000" stroke-width="0.9"/>
<text x="920.84" y="659.3" font-size="15.8" font-weight="bold" textLength="9.53" lengthAdjust="spacingAndGlyphs">3</text>
<text x="934.98" y="659.9" font-size="17.5" textLength="13.51" lengthAdjust="spacingAndGlyphs">×</text>
<text x="953.82" y="659.3" font-size="15.8" textLength="18.62" lengthAdjust="spacingAndGlyphs" stroke="#000" stroke-width="0.15">10</text>
<text x="975.42" y="653.6" font-size="11.4" textLength="6.55" lengthAdjust="spacingAndGlyphs" fill="#666">−</text>
<text x="983.79" y="653.6" font-size="11.4" textLength="5.27" lengthAdjust="spacingAndGlyphs" stroke="#000" stroke-width="0.2">4</text>
<text transform="translate(1005.8 462) rotate(90) scale(1 1.07)" font-size="18.4" font-weight="bold" textLength="202.4" lengthAdjust="spacingAndGlyphs">Angular Resolution (deg<tspan font-size="14" dy="-7.6">2</tspan><tspan dy="7.6">)</tspan></text>
</svg></body></html>
